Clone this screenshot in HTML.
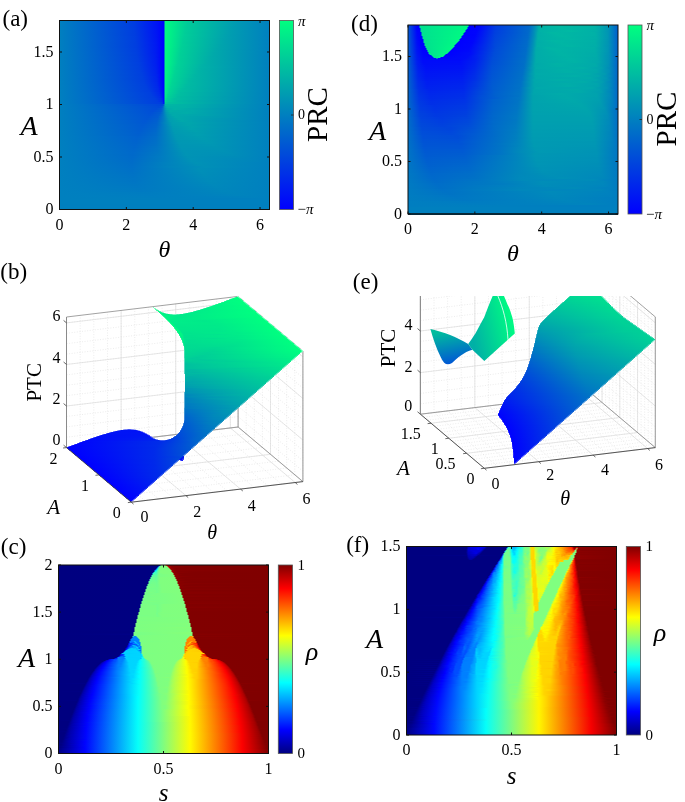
<!DOCTYPE html>
<html><head><meta charset="utf-8"><style>
html,body{margin:0;padding:0;background:#fff;width:685px;height:802px;overflow:hidden}
#L{position:absolute;left:0;top:0;width:685px;height:802px}
#L i{position:absolute;display:block;height:1px}
svg{position:absolute;left:0;top:0}
text{font-family:"Liberation Serif",serif;fill:#000}
svg{will-change:transform}
</style></head><body>
<svg width="685" height="802"><line x1="131.30" y1="502.20" x2="66.50" y2="447.60" stroke="#d8d8d8" stroke-width="0.5" stroke-dasharray="1 1.6"/>
<line x1="66.50" y1="447.60" x2="66.50" y2="317.00" stroke="#d8d8d8" stroke-width="0.5" stroke-dasharray="1 1.6"/>
<line x1="144.96" y1="500.56" x2="80.16" y2="445.96" stroke="#d8d8d8" stroke-width="0.5" stroke-dasharray="1 1.6"/>
<line x1="80.16" y1="445.96" x2="80.16" y2="315.36" stroke="#d8d8d8" stroke-width="0.5" stroke-dasharray="1 1.6"/>
<line x1="158.61" y1="498.92" x2="93.81" y2="444.32" stroke="#d8d8d8" stroke-width="0.5" stroke-dasharray="1 1.6"/>
<line x1="93.81" y1="444.32" x2="93.81" y2="313.72" stroke="#d8d8d8" stroke-width="0.5" stroke-dasharray="1 1.6"/>
<line x1="172.27" y1="497.28" x2="107.47" y2="442.68" stroke="#d8d8d8" stroke-width="0.5" stroke-dasharray="1 1.6"/>
<line x1="107.47" y1="442.68" x2="107.47" y2="312.08" stroke="#d8d8d8" stroke-width="0.5" stroke-dasharray="1 1.6"/>
<line x1="185.92" y1="495.64" x2="121.12" y2="441.04" stroke="#d8d8d8" stroke-width="0.5" stroke-dasharray="1 1.6"/>
<line x1="121.12" y1="441.04" x2="121.12" y2="310.44" stroke="#d8d8d8" stroke-width="0.5" stroke-dasharray="1 1.6"/>
<line x1="199.58" y1="494.00" x2="134.78" y2="439.40" stroke="#d8d8d8" stroke-width="0.5" stroke-dasharray="1 1.6"/>
<line x1="134.78" y1="439.40" x2="134.78" y2="308.80" stroke="#d8d8d8" stroke-width="0.5" stroke-dasharray="1 1.6"/>
<line x1="213.23" y1="492.36" x2="148.43" y2="437.76" stroke="#d8d8d8" stroke-width="0.5" stroke-dasharray="1 1.6"/>
<line x1="148.43" y1="437.76" x2="148.43" y2="307.16" stroke="#d8d8d8" stroke-width="0.5" stroke-dasharray="1 1.6"/>
<line x1="226.89" y1="490.72" x2="162.09" y2="436.12" stroke="#d8d8d8" stroke-width="0.5" stroke-dasharray="1 1.6"/>
<line x1="162.09" y1="436.12" x2="162.09" y2="305.52" stroke="#d8d8d8" stroke-width="0.5" stroke-dasharray="1 1.6"/>
<line x1="240.54" y1="489.09" x2="175.74" y2="434.49" stroke="#d8d8d8" stroke-width="0.5" stroke-dasharray="1 1.6"/>
<line x1="175.74" y1="434.49" x2="175.74" y2="303.89" stroke="#d8d8d8" stroke-width="0.5" stroke-dasharray="1 1.6"/>
<line x1="254.20" y1="487.45" x2="189.40" y2="432.85" stroke="#d8d8d8" stroke-width="0.5" stroke-dasharray="1 1.6"/>
<line x1="189.40" y1="432.85" x2="189.40" y2="302.25" stroke="#d8d8d8" stroke-width="0.5" stroke-dasharray="1 1.6"/>
<line x1="267.85" y1="485.81" x2="203.05" y2="431.21" stroke="#d8d8d8" stroke-width="0.5" stroke-dasharray="1 1.6"/>
<line x1="203.05" y1="431.21" x2="203.05" y2="300.61" stroke="#d8d8d8" stroke-width="0.5" stroke-dasharray="1 1.6"/>
<line x1="281.51" y1="484.17" x2="216.71" y2="429.57" stroke="#d8d8d8" stroke-width="0.5" stroke-dasharray="1 1.6"/>
<line x1="216.71" y1="429.57" x2="216.71" y2="298.97" stroke="#d8d8d8" stroke-width="0.5" stroke-dasharray="1 1.6"/>
<line x1="295.17" y1="482.53" x2="230.37" y2="427.93" stroke="#d8d8d8" stroke-width="0.5" stroke-dasharray="1 1.6"/>
<line x1="230.37" y1="427.93" x2="230.37" y2="297.33" stroke="#d8d8d8" stroke-width="0.5" stroke-dasharray="1 1.6"/>
<line x1="131.30" y1="502.20" x2="302.90" y2="481.60" stroke="#d8d8d8" stroke-width="0.5" stroke-dasharray="1 1.6"/>
<line x1="302.90" y1="481.60" x2="302.90" y2="351.00" stroke="#d8d8d8" stroke-width="0.5" stroke-dasharray="1 1.6"/>
<line x1="123.20" y1="495.38" x2="294.80" y2="474.77" stroke="#d8d8d8" stroke-width="0.5" stroke-dasharray="1 1.6"/>
<line x1="294.80" y1="474.77" x2="294.80" y2="344.17" stroke="#d8d8d8" stroke-width="0.5" stroke-dasharray="1 1.6"/>
<line x1="115.10" y1="488.55" x2="286.70" y2="467.95" stroke="#d8d8d8" stroke-width="0.5" stroke-dasharray="1 1.6"/>
<line x1="286.70" y1="467.95" x2="286.70" y2="337.35" stroke="#d8d8d8" stroke-width="0.5" stroke-dasharray="1 1.6"/>
<line x1="107.00" y1="481.72" x2="278.60" y2="461.12" stroke="#d8d8d8" stroke-width="0.5" stroke-dasharray="1 1.6"/>
<line x1="278.60" y1="461.12" x2="278.60" y2="330.52" stroke="#d8d8d8" stroke-width="0.5" stroke-dasharray="1 1.6"/>
<line x1="98.90" y1="474.90" x2="270.50" y2="454.30" stroke="#d8d8d8" stroke-width="0.5" stroke-dasharray="1 1.6"/>
<line x1="270.50" y1="454.30" x2="270.50" y2="323.70" stroke="#d8d8d8" stroke-width="0.5" stroke-dasharray="1 1.6"/>
<line x1="90.80" y1="468.07" x2="262.40" y2="447.47" stroke="#d8d8d8" stroke-width="0.5" stroke-dasharray="1 1.6"/>
<line x1="262.40" y1="447.47" x2="262.40" y2="316.88" stroke="#d8d8d8" stroke-width="0.5" stroke-dasharray="1 1.6"/>
<line x1="82.70" y1="461.25" x2="254.30" y2="440.65" stroke="#d8d8d8" stroke-width="0.5" stroke-dasharray="1 1.6"/>
<line x1="254.30" y1="440.65" x2="254.30" y2="310.05" stroke="#d8d8d8" stroke-width="0.5" stroke-dasharray="1 1.6"/>
<line x1="74.60" y1="454.43" x2="246.20" y2="433.82" stroke="#d8d8d8" stroke-width="0.5" stroke-dasharray="1 1.6"/>
<line x1="246.20" y1="433.82" x2="246.20" y2="303.23" stroke="#d8d8d8" stroke-width="0.5" stroke-dasharray="1 1.6"/>
<line x1="66.50" y1="447.60" x2="238.10" y2="427.00" stroke="#d8d8d8" stroke-width="0.5" stroke-dasharray="1 1.6"/>
<line x1="238.10" y1="427.00" x2="238.10" y2="296.40" stroke="#d8d8d8" stroke-width="0.5" stroke-dasharray="1 1.6"/>
<line x1="66.50" y1="447.60" x2="238.10" y2="427.00" stroke="#d8d8d8" stroke-width="0.5" stroke-dasharray="1 1.6"/>
<line x1="302.90" y1="481.60" x2="238.10" y2="427.00" stroke="#d8d8d8" stroke-width="0.5" stroke-dasharray="1 1.6"/>
<line x1="66.50" y1="437.21" x2="238.10" y2="416.61" stroke="#d8d8d8" stroke-width="0.5" stroke-dasharray="1 1.6"/>
<line x1="302.90" y1="471.21" x2="238.10" y2="416.61" stroke="#d8d8d8" stroke-width="0.5" stroke-dasharray="1 1.6"/>
<line x1="66.50" y1="426.81" x2="238.10" y2="406.21" stroke="#d8d8d8" stroke-width="0.5" stroke-dasharray="1 1.6"/>
<line x1="302.90" y1="460.81" x2="238.10" y2="406.21" stroke="#d8d8d8" stroke-width="0.5" stroke-dasharray="1 1.6"/>
<line x1="66.50" y1="416.42" x2="238.10" y2="395.82" stroke="#d8d8d8" stroke-width="0.5" stroke-dasharray="1 1.6"/>
<line x1="302.90" y1="450.42" x2="238.10" y2="395.82" stroke="#d8d8d8" stroke-width="0.5" stroke-dasharray="1 1.6"/>
<line x1="66.50" y1="406.03" x2="238.10" y2="385.43" stroke="#d8d8d8" stroke-width="0.5" stroke-dasharray="1 1.6"/>
<line x1="302.90" y1="440.03" x2="238.10" y2="385.43" stroke="#d8d8d8" stroke-width="0.5" stroke-dasharray="1 1.6"/>
<line x1="66.50" y1="395.64" x2="238.10" y2="375.04" stroke="#d8d8d8" stroke-width="0.5" stroke-dasharray="1 1.6"/>
<line x1="302.90" y1="429.64" x2="238.10" y2="375.04" stroke="#d8d8d8" stroke-width="0.5" stroke-dasharray="1 1.6"/>
<line x1="66.50" y1="385.24" x2="238.10" y2="364.64" stroke="#d8d8d8" stroke-width="0.5" stroke-dasharray="1 1.6"/>
<line x1="302.90" y1="419.24" x2="238.10" y2="364.64" stroke="#d8d8d8" stroke-width="0.5" stroke-dasharray="1 1.6"/>
<line x1="66.50" y1="374.85" x2="238.10" y2="354.25" stroke="#d8d8d8" stroke-width="0.5" stroke-dasharray="1 1.6"/>
<line x1="302.90" y1="408.85" x2="238.10" y2="354.25" stroke="#d8d8d8" stroke-width="0.5" stroke-dasharray="1 1.6"/>
<line x1="66.50" y1="364.46" x2="238.10" y2="343.86" stroke="#d8d8d8" stroke-width="0.5" stroke-dasharray="1 1.6"/>
<line x1="302.90" y1="398.46" x2="238.10" y2="343.86" stroke="#d8d8d8" stroke-width="0.5" stroke-dasharray="1 1.6"/>
<line x1="66.50" y1="354.06" x2="238.10" y2="333.46" stroke="#d8d8d8" stroke-width="0.5" stroke-dasharray="1 1.6"/>
<line x1="302.90" y1="388.06" x2="238.10" y2="333.46" stroke="#d8d8d8" stroke-width="0.5" stroke-dasharray="1 1.6"/>
<line x1="66.50" y1="343.67" x2="238.10" y2="323.07" stroke="#d8d8d8" stroke-width="0.5" stroke-dasharray="1 1.6"/>
<line x1="302.90" y1="377.67" x2="238.10" y2="323.07" stroke="#d8d8d8" stroke-width="0.5" stroke-dasharray="1 1.6"/>
<line x1="66.50" y1="333.28" x2="238.10" y2="312.68" stroke="#d8d8d8" stroke-width="0.5" stroke-dasharray="1 1.6"/>
<line x1="302.90" y1="367.28" x2="238.10" y2="312.68" stroke="#d8d8d8" stroke-width="0.5" stroke-dasharray="1 1.6"/>
<line x1="66.50" y1="322.89" x2="238.10" y2="302.29" stroke="#d8d8d8" stroke-width="0.5" stroke-dasharray="1 1.6"/>
<line x1="302.90" y1="356.89" x2="238.10" y2="302.29" stroke="#d8d8d8" stroke-width="0.5" stroke-dasharray="1 1.6"/>
<line x1="131.30" y1="502.20" x2="66.50" y2="447.60" stroke="#dcdcdc" stroke-width="0.7"/>
<line x1="66.50" y1="447.60" x2="66.50" y2="317.00" stroke="#dcdcdc" stroke-width="0.7"/>
<line x1="185.92" y1="495.64" x2="121.12" y2="441.04" stroke="#dcdcdc" stroke-width="0.7"/>
<line x1="121.12" y1="441.04" x2="121.12" y2="310.44" stroke="#dcdcdc" stroke-width="0.7"/>
<line x1="240.54" y1="489.09" x2="175.74" y2="434.49" stroke="#dcdcdc" stroke-width="0.7"/>
<line x1="175.74" y1="434.49" x2="175.74" y2="303.89" stroke="#dcdcdc" stroke-width="0.7"/>
<line x1="295.17" y1="482.53" x2="230.37" y2="427.93" stroke="#dcdcdc" stroke-width="0.7"/>
<line x1="230.37" y1="427.93" x2="230.37" y2="297.33" stroke="#dcdcdc" stroke-width="0.7"/>
<line x1="131.30" y1="502.20" x2="302.90" y2="481.60" stroke="#dcdcdc" stroke-width="0.7"/>
<line x1="302.90" y1="481.60" x2="302.90" y2="351.00" stroke="#dcdcdc" stroke-width="0.7"/>
<line x1="98.90" y1="474.90" x2="270.50" y2="454.30" stroke="#dcdcdc" stroke-width="0.7"/>
<line x1="270.50" y1="454.30" x2="270.50" y2="323.70" stroke="#dcdcdc" stroke-width="0.7"/>
<line x1="66.50" y1="447.60" x2="238.10" y2="427.00" stroke="#dcdcdc" stroke-width="0.7"/>
<line x1="238.10" y1="427.00" x2="238.10" y2="296.40" stroke="#dcdcdc" stroke-width="0.7"/>
<line x1="66.50" y1="447.60" x2="238.10" y2="427.00" stroke="#dcdcdc" stroke-width="0.7"/>
<line x1="302.90" y1="481.60" x2="238.10" y2="427.00" stroke="#dcdcdc" stroke-width="0.7"/>
<line x1="66.50" y1="406.03" x2="238.10" y2="385.43" stroke="#dcdcdc" stroke-width="0.7"/>
<line x1="302.90" y1="440.03" x2="238.10" y2="385.43" stroke="#dcdcdc" stroke-width="0.7"/>
<line x1="66.50" y1="364.46" x2="238.10" y2="343.86" stroke="#dcdcdc" stroke-width="0.7"/>
<line x1="302.90" y1="398.46" x2="238.10" y2="343.86" stroke="#dcdcdc" stroke-width="0.7"/>
<line x1="66.50" y1="322.89" x2="238.10" y2="302.29" stroke="#dcdcdc" stroke-width="0.7"/>
<line x1="302.90" y1="356.89" x2="238.10" y2="302.29" stroke="#dcdcdc" stroke-width="0.7"/>
<line x1="66.50" y1="447.60" x2="238.10" y2="427.00" stroke="#8a8a8a" stroke-width="0.8"/>
<line x1="238.10" y1="427.00" x2="302.90" y2="481.60" stroke="#8a8a8a" stroke-width="0.8"/>
<line x1="66.50" y1="317.00" x2="238.10" y2="296.40" stroke="#8a8a8a" stroke-width="0.8"/>
<line x1="238.10" y1="296.40" x2="302.90" y2="351.00" stroke="#8a8a8a" stroke-width="0.8"/>
<line x1="238.10" y1="427.00" x2="238.10" y2="296.40" stroke="#8a8a8a" stroke-width="0.8"/>
<line x1="302.90" y1="481.60" x2="302.90" y2="351.00" stroke="#8a8a8a" stroke-width="0.8"/>
<line x1="66.50" y1="447.60" x2="66.50" y2="317.00" stroke="#8a8a8a" stroke-width="0.8"/>
<g clip-path="url(#ce)"><line x1="484.30" y1="468.30" x2="420.40" y2="414.20" stroke="#d8d8d8" stroke-width="0.5" stroke-dasharray="1 1.6"/><line x1="420.40" y1="414.20" x2="420.40" y2="283.50" stroke="#d8d8d8" stroke-width="0.5" stroke-dasharray="1 1.6"/><line x1="497.91" y1="466.65" x2="434.01" y2="412.55" stroke="#d8d8d8" stroke-width="0.5" stroke-dasharray="1 1.6"/><line x1="434.01" y1="412.55" x2="434.01" y2="281.85" stroke="#d8d8d8" stroke-width="0.5" stroke-dasharray="1 1.6"/><line x1="511.52" y1="465.01" x2="447.62" y2="410.91" stroke="#d8d8d8" stroke-width="0.5" stroke-dasharray="1 1.6"/><line x1="447.62" y1="410.91" x2="447.62" y2="280.21" stroke="#d8d8d8" stroke-width="0.5" stroke-dasharray="1 1.6"/><line x1="525.12" y1="463.36" x2="461.22" y2="409.26" stroke="#d8d8d8" stroke-width="0.5" stroke-dasharray="1 1.6"/><line x1="461.22" y1="409.26" x2="461.22" y2="278.56" stroke="#d8d8d8" stroke-width="0.5" stroke-dasharray="1 1.6"/><line x1="538.73" y1="461.71" x2="474.83" y2="407.61" stroke="#d8d8d8" stroke-width="0.5" stroke-dasharray="1 1.6"/><line x1="474.83" y1="407.61" x2="474.83" y2="276.91" stroke="#d8d8d8" stroke-width="0.5" stroke-dasharray="1 1.6"/><line x1="552.34" y1="460.06" x2="488.44" y2="405.96" stroke="#d8d8d8" stroke-width="0.5" stroke-dasharray="1 1.6"/><line x1="488.44" y1="405.96" x2="488.44" y2="275.26" stroke="#d8d8d8" stroke-width="0.5" stroke-dasharray="1 1.6"/><line x1="565.95" y1="458.42" x2="502.05" y2="404.32" stroke="#d8d8d8" stroke-width="0.5" stroke-dasharray="1 1.6"/><line x1="502.05" y1="404.32" x2="502.05" y2="273.62" stroke="#d8d8d8" stroke-width="0.5" stroke-dasharray="1 1.6"/><line x1="579.55" y1="456.77" x2="515.65" y2="402.67" stroke="#d8d8d8" stroke-width="0.5" stroke-dasharray="1 1.6"/><line x1="515.65" y1="402.67" x2="515.65" y2="271.97" stroke="#d8d8d8" stroke-width="0.5" stroke-dasharray="1 1.6"/><line x1="593.16" y1="455.12" x2="529.26" y2="401.02" stroke="#d8d8d8" stroke-width="0.5" stroke-dasharray="1 1.6"/><line x1="529.26" y1="401.02" x2="529.26" y2="270.32" stroke="#d8d8d8" stroke-width="0.5" stroke-dasharray="1 1.6"/><line x1="606.77" y1="453.47" x2="542.87" y2="399.37" stroke="#d8d8d8" stroke-width="0.5" stroke-dasharray="1 1.6"/><line x1="542.87" y1="399.37" x2="542.87" y2="268.67" stroke="#d8d8d8" stroke-width="0.5" stroke-dasharray="1 1.6"/><line x1="620.38" y1="451.83" x2="556.48" y2="397.73" stroke="#d8d8d8" stroke-width="0.5" stroke-dasharray="1 1.6"/><line x1="556.48" y1="397.73" x2="556.48" y2="267.03" stroke="#d8d8d8" stroke-width="0.5" stroke-dasharray="1 1.6"/><line x1="633.99" y1="450.18" x2="570.09" y2="396.08" stroke="#d8d8d8" stroke-width="0.5" stroke-dasharray="1 1.6"/><line x1="570.09" y1="396.08" x2="570.09" y2="265.38" stroke="#d8d8d8" stroke-width="0.5" stroke-dasharray="1 1.6"/><line x1="647.59" y1="448.53" x2="583.69" y2="394.43" stroke="#d8d8d8" stroke-width="0.5" stroke-dasharray="1 1.6"/><line x1="583.69" y1="394.43" x2="583.69" y2="263.73" stroke="#d8d8d8" stroke-width="0.5" stroke-dasharray="1 1.6"/><line x1="484.30" y1="468.30" x2="655.30" y2="447.60" stroke="#d8d8d8" stroke-width="0.5" stroke-dasharray="1 1.6"/><line x1="655.30" y1="447.60" x2="655.30" y2="316.90" stroke="#d8d8d8" stroke-width="0.5" stroke-dasharray="1 1.6"/><line x1="480.75" y1="465.29" x2="651.75" y2="444.59" stroke="#d8d8d8" stroke-width="0.5" stroke-dasharray="1 1.6"/><line x1="651.75" y1="444.59" x2="651.75" y2="313.89" stroke="#d8d8d8" stroke-width="0.5" stroke-dasharray="1 1.6"/><line x1="477.20" y1="462.29" x2="648.20" y2="441.59" stroke="#d8d8d8" stroke-width="0.5" stroke-dasharray="1 1.6"/><line x1="648.20" y1="441.59" x2="648.20" y2="310.89" stroke="#d8d8d8" stroke-width="0.5" stroke-dasharray="1 1.6"/><line x1="473.65" y1="459.28" x2="644.65" y2="438.58" stroke="#d8d8d8" stroke-width="0.5" stroke-dasharray="1 1.6"/><line x1="644.65" y1="438.58" x2="644.65" y2="307.88" stroke="#d8d8d8" stroke-width="0.5" stroke-dasharray="1 1.6"/><line x1="470.10" y1="456.28" x2="641.10" y2="435.58" stroke="#d8d8d8" stroke-width="0.5" stroke-dasharray="1 1.6"/><line x1="641.10" y1="435.58" x2="641.10" y2="304.88" stroke="#d8d8d8" stroke-width="0.5" stroke-dasharray="1 1.6"/><line x1="466.55" y1="453.27" x2="637.55" y2="432.57" stroke="#d8d8d8" stroke-width="0.5" stroke-dasharray="1 1.6"/><line x1="637.55" y1="432.57" x2="637.55" y2="301.87" stroke="#d8d8d8" stroke-width="0.5" stroke-dasharray="1 1.6"/><line x1="463.00" y1="450.27" x2="634.00" y2="429.57" stroke="#d8d8d8" stroke-width="0.5" stroke-dasharray="1 1.6"/><line x1="634.00" y1="429.57" x2="634.00" y2="298.87" stroke="#d8d8d8" stroke-width="0.5" stroke-dasharray="1 1.6"/><line x1="459.45" y1="447.26" x2="630.45" y2="426.56" stroke="#d8d8d8" stroke-width="0.5" stroke-dasharray="1 1.6"/><line x1="630.45" y1="426.56" x2="630.45" y2="295.86" stroke="#d8d8d8" stroke-width="0.5" stroke-dasharray="1 1.6"/><line x1="455.90" y1="444.26" x2="626.90" y2="423.56" stroke="#d8d8d8" stroke-width="0.5" stroke-dasharray="1 1.6"/><line x1="626.90" y1="423.56" x2="626.90" y2="292.86" stroke="#d8d8d8" stroke-width="0.5" stroke-dasharray="1 1.6"/><line x1="452.35" y1="441.25" x2="623.35" y2="420.55" stroke="#d8d8d8" stroke-width="0.5" stroke-dasharray="1 1.6"/><line x1="623.35" y1="420.55" x2="623.35" y2="289.85" stroke="#d8d8d8" stroke-width="0.5" stroke-dasharray="1 1.6"/><line x1="448.80" y1="438.24" x2="619.80" y2="417.54" stroke="#d8d8d8" stroke-width="0.5" stroke-dasharray="1 1.6"/><line x1="619.80" y1="417.54" x2="619.80" y2="286.84" stroke="#d8d8d8" stroke-width="0.5" stroke-dasharray="1 1.6"/><line x1="445.25" y1="435.24" x2="616.25" y2="414.54" stroke="#d8d8d8" stroke-width="0.5" stroke-dasharray="1 1.6"/><line x1="616.25" y1="414.54" x2="616.25" y2="283.84" stroke="#d8d8d8" stroke-width="0.5" stroke-dasharray="1 1.6"/><line x1="441.70" y1="432.23" x2="612.70" y2="411.53" stroke="#d8d8d8" stroke-width="0.5" stroke-dasharray="1 1.6"/><line x1="612.70" y1="411.53" x2="612.70" y2="280.83" stroke="#d8d8d8" stroke-width="0.5" stroke-dasharray="1 1.6"/><line x1="438.15" y1="429.23" x2="609.15" y2="408.53" stroke="#d8d8d8" stroke-width="0.5" stroke-dasharray="1 1.6"/><line x1="609.15" y1="408.53" x2="609.15" y2="277.83" stroke="#d8d8d8" stroke-width="0.5" stroke-dasharray="1 1.6"/><line x1="434.60" y1="426.22" x2="605.60" y2="405.52" stroke="#d8d8d8" stroke-width="0.5" stroke-dasharray="1 1.6"/><line x1="605.60" y1="405.52" x2="605.60" y2="274.82" stroke="#d8d8d8" stroke-width="0.5" stroke-dasharray="1 1.6"/><line x1="431.05" y1="423.22" x2="602.05" y2="402.52" stroke="#d8d8d8" stroke-width="0.5" stroke-dasharray="1 1.6"/><line x1="602.05" y1="402.52" x2="602.05" y2="271.82" stroke="#d8d8d8" stroke-width="0.5" stroke-dasharray="1 1.6"/><line x1="427.50" y1="420.21" x2="598.50" y2="399.51" stroke="#d8d8d8" stroke-width="0.5" stroke-dasharray="1 1.6"/><line x1="598.50" y1="399.51" x2="598.50" y2="268.81" stroke="#d8d8d8" stroke-width="0.5" stroke-dasharray="1 1.6"/><line x1="423.95" y1="417.21" x2="594.95" y2="396.51" stroke="#d8d8d8" stroke-width="0.5" stroke-dasharray="1 1.6"/><line x1="594.95" y1="396.51" x2="594.95" y2="265.81" stroke="#d8d8d8" stroke-width="0.5" stroke-dasharray="1 1.6"/><line x1="420.40" y1="414.20" x2="591.40" y2="393.50" stroke="#d8d8d8" stroke-width="0.5" stroke-dasharray="1 1.6"/><line x1="591.40" y1="393.50" x2="591.40" y2="262.80" stroke="#d8d8d8" stroke-width="0.5" stroke-dasharray="1 1.6"/><line x1="420.40" y1="414.20" x2="591.40" y2="393.50" stroke="#d8d8d8" stroke-width="0.5" stroke-dasharray="1 1.6"/><line x1="655.30" y1="447.60" x2="591.40" y2="393.50" stroke="#d8d8d8" stroke-width="0.5" stroke-dasharray="1 1.6"/><line x1="420.40" y1="403.80" x2="591.40" y2="383.10" stroke="#d8d8d8" stroke-width="0.5" stroke-dasharray="1 1.6"/><line x1="655.30" y1="437.20" x2="591.40" y2="383.10" stroke="#d8d8d8" stroke-width="0.5" stroke-dasharray="1 1.6"/><line x1="420.40" y1="393.40" x2="591.40" y2="372.70" stroke="#d8d8d8" stroke-width="0.5" stroke-dasharray="1 1.6"/><line x1="655.30" y1="426.80" x2="591.40" y2="372.70" stroke="#d8d8d8" stroke-width="0.5" stroke-dasharray="1 1.6"/><line x1="420.40" y1="383.00" x2="591.40" y2="362.30" stroke="#d8d8d8" stroke-width="0.5" stroke-dasharray="1 1.6"/><line x1="655.30" y1="416.40" x2="591.40" y2="362.30" stroke="#d8d8d8" stroke-width="0.5" stroke-dasharray="1 1.6"/><line x1="420.40" y1="372.60" x2="591.40" y2="351.90" stroke="#d8d8d8" stroke-width="0.5" stroke-dasharray="1 1.6"/><line x1="655.30" y1="406.00" x2="591.40" y2="351.90" stroke="#d8d8d8" stroke-width="0.5" stroke-dasharray="1 1.6"/><line x1="420.40" y1="362.20" x2="591.40" y2="341.50" stroke="#d8d8d8" stroke-width="0.5" stroke-dasharray="1 1.6"/><line x1="655.30" y1="395.60" x2="591.40" y2="341.50" stroke="#d8d8d8" stroke-width="0.5" stroke-dasharray="1 1.6"/><line x1="420.40" y1="351.80" x2="591.40" y2="331.10" stroke="#d8d8d8" stroke-width="0.5" stroke-dasharray="1 1.6"/><line x1="655.30" y1="385.20" x2="591.40" y2="331.10" stroke="#d8d8d8" stroke-width="0.5" stroke-dasharray="1 1.6"/><line x1="420.40" y1="341.39" x2="591.40" y2="320.69" stroke="#d8d8d8" stroke-width="0.5" stroke-dasharray="1 1.6"/><line x1="655.30" y1="374.79" x2="591.40" y2="320.69" stroke="#d8d8d8" stroke-width="0.5" stroke-dasharray="1 1.6"/><line x1="420.40" y1="330.99" x2="591.40" y2="310.29" stroke="#d8d8d8" stroke-width="0.5" stroke-dasharray="1 1.6"/><line x1="655.30" y1="364.39" x2="591.40" y2="310.29" stroke="#d8d8d8" stroke-width="0.5" stroke-dasharray="1 1.6"/><line x1="420.40" y1="320.59" x2="591.40" y2="299.89" stroke="#d8d8d8" stroke-width="0.5" stroke-dasharray="1 1.6"/><line x1="655.30" y1="353.99" x2="591.40" y2="299.89" stroke="#d8d8d8" stroke-width="0.5" stroke-dasharray="1 1.6"/><line x1="420.40" y1="310.19" x2="591.40" y2="289.49" stroke="#d8d8d8" stroke-width="0.5" stroke-dasharray="1 1.6"/><line x1="655.30" y1="343.59" x2="591.40" y2="289.49" stroke="#d8d8d8" stroke-width="0.5" stroke-dasharray="1 1.6"/><line x1="420.40" y1="299.79" x2="591.40" y2="279.09" stroke="#d8d8d8" stroke-width="0.5" stroke-dasharray="1 1.6"/><line x1="655.30" y1="333.19" x2="591.40" y2="279.09" stroke="#d8d8d8" stroke-width="0.5" stroke-dasharray="1 1.6"/><line x1="420.40" y1="289.39" x2="591.40" y2="268.69" stroke="#d8d8d8" stroke-width="0.5" stroke-dasharray="1 1.6"/><line x1="655.30" y1="322.79" x2="591.40" y2="268.69" stroke="#d8d8d8" stroke-width="0.5" stroke-dasharray="1 1.6"/><line x1="484.30" y1="468.30" x2="420.40" y2="414.20" stroke="#dcdcdc" stroke-width="0.7"/><line x1="420.40" y1="414.20" x2="420.40" y2="283.50" stroke="#dcdcdc" stroke-width="0.7"/><line x1="538.73" y1="461.71" x2="474.83" y2="407.61" stroke="#dcdcdc" stroke-width="0.7"/><line x1="474.83" y1="407.61" x2="474.83" y2="276.91" stroke="#dcdcdc" stroke-width="0.7"/><line x1="593.16" y1="455.12" x2="529.26" y2="401.02" stroke="#dcdcdc" stroke-width="0.7"/><line x1="529.26" y1="401.02" x2="529.26" y2="270.32" stroke="#dcdcdc" stroke-width="0.7"/><line x1="647.59" y1="448.53" x2="583.69" y2="394.43" stroke="#dcdcdc" stroke-width="0.7"/><line x1="583.69" y1="394.43" x2="583.69" y2="263.73" stroke="#dcdcdc" stroke-width="0.7"/><line x1="484.30" y1="468.30" x2="655.30" y2="447.60" stroke="#dcdcdc" stroke-width="0.7"/><line x1="655.30" y1="447.60" x2="655.30" y2="316.90" stroke="#dcdcdc" stroke-width="0.7"/><line x1="466.55" y1="453.27" x2="637.55" y2="432.57" stroke="#dcdcdc" stroke-width="0.7"/><line x1="637.55" y1="432.57" x2="637.55" y2="301.87" stroke="#dcdcdc" stroke-width="0.7"/><line x1="448.80" y1="438.24" x2="619.80" y2="417.54" stroke="#dcdcdc" stroke-width="0.7"/><line x1="619.80" y1="417.54" x2="619.80" y2="286.84" stroke="#dcdcdc" stroke-width="0.7"/><line x1="431.05" y1="423.22" x2="602.05" y2="402.52" stroke="#dcdcdc" stroke-width="0.7"/><line x1="602.05" y1="402.52" x2="602.05" y2="271.82" stroke="#dcdcdc" stroke-width="0.7"/><line x1="420.40" y1="414.20" x2="591.40" y2="393.50" stroke="#dcdcdc" stroke-width="0.7"/><line x1="655.30" y1="447.60" x2="591.40" y2="393.50" stroke="#dcdcdc" stroke-width="0.7"/><line x1="420.40" y1="372.60" x2="591.40" y2="351.90" stroke="#dcdcdc" stroke-width="0.7"/><line x1="655.30" y1="406.00" x2="591.40" y2="351.90" stroke="#dcdcdc" stroke-width="0.7"/><line x1="420.40" y1="330.99" x2="591.40" y2="310.29" stroke="#dcdcdc" stroke-width="0.7"/><line x1="655.30" y1="364.39" x2="591.40" y2="310.29" stroke="#dcdcdc" stroke-width="0.7"/><line x1="420.40" y1="289.39" x2="591.40" y2="268.69" stroke="#dcdcdc" stroke-width="0.7"/><line x1="655.30" y1="322.79" x2="591.40" y2="268.69" stroke="#dcdcdc" stroke-width="0.7"/><line x1="420.40" y1="414.20" x2="591.40" y2="393.50" stroke="#8a8a8a" stroke-width="0.8"/><line x1="591.40" y1="393.50" x2="655.30" y2="447.60" stroke="#8a8a8a" stroke-width="0.8"/><line x1="420.40" y1="283.50" x2="591.40" y2="262.80" stroke="#8a8a8a" stroke-width="0.8"/><line x1="591.40" y1="262.80" x2="655.30" y2="316.90" stroke="#8a8a8a" stroke-width="0.8"/><line x1="591.40" y1="393.50" x2="591.40" y2="262.80" stroke="#8a8a8a" stroke-width="0.8"/><line x1="655.30" y1="447.60" x2="655.30" y2="316.90" stroke="#8a8a8a" stroke-width="0.8"/><line x1="420.40" y1="414.20" x2="420.40" y2="283.50" stroke="#8a8a8a" stroke-width="0.8"/></g></svg>
<div id="L">
<i style="left:59px;top:20px;width:211px;height:2px;background:linear-gradient(90deg,#0080bf,#003ce1 75px,#0013f6 98px,#00f 105px,#00fc81 106px,#00cd99 128px,#0099b3 178px,#0080bf 210px)"></i>
<i style="left:59px;top:22px;width:211px;height:2px;background:linear-gradient(90deg,#0080bf,#003de1 75px,#0013f6 98px,#00f 105px,#00fc81 106px,#0c9 128px,#0099b3 178px,#0080bf 210px)"></i>
<i style="left:59px;top:24px;width:211px;height:2px;background:linear-gradient(90deg,#0080bf,#003de1 75px,#0013f5 98px,#00f 105px,#00fc81 106px,#0c9 128px,#0099b3 178px,#0080bf 210px)"></i>
<i style="left:59px;top:26px;width:211px;height:2px;background:linear-gradient(90deg,#0080bf,#003de0 75px,#0013f5 98px,#00f 105px,#00fc81 106px,#00cd98 127px,#009cb1 174px,#0080bf 210px)"></i>
<i style="left:59px;top:28px;width:211px;height:2px;background:linear-gradient(90deg,#0080bf,#003ee0 75px,#0014f5 98px,#00f 105px,#00fc81 106px,#00cd99 127px,#009cb1 174px,#0080bf 210px)"></i>
<i style="left:59px;top:30px;width:211px;height:2px;background:linear-gradient(90deg,#0080bf,#003ee0 75px,#0016f4 97px,#00f 105px,#00fc81 106px,#00ce98 126px,#009eb0 171px,#0080bf 210px)"></i>
<i style="left:59px;top:32px;width:211px;height:2px;background:linear-gradient(90deg,#0080bf,#003de0 76px,#0014f5 98px,#00f 105px,#00fc81 106px,#00cd98 126px,#009eb0 171px,#0080bf 210px)"></i>
<i style="left:59px;top:34px;width:211px;height:2px;background:linear-gradient(90deg,#0080bf,#003de0 76px,#0017f3 97px,#00f 105px,#00fc81 106px,#00cf98 125px,#00a0af 168px,#0080bf 210px)"></i>
<i style="left:59px;top:36px;width:211px;height:2px;background:linear-gradient(90deg,#0080bf,#003ee0 76px,#0017f3 97px,#00f 105px,#00fc81 106px,#00ce98 125px,#00a0af 168px,#0080bf 210px)"></i>
<i style="left:59px;top:38px;width:211px;height:2px;background:linear-gradient(90deg,#0080bf,#003ee0 76px,#0018f3 97px,#00f 105px,#00fc81 106px,#00cf97 124px,#00a3ad 164px,#0080bf 210px)"></i>
<i style="left:59px;top:40px;width:211px;height:2px;background:linear-gradient(90deg,#0080bf,#003fe0 76px,#0018f3 97px,#00f 105px,#00fc81 106px,#00cf98 124px,#00a2ae 165px,#0080bf 210px)"></i>
<i style="left:59px;top:42px;width:211px;height:2px;background:linear-gradient(90deg,#0080bf,#003ee0 77px,#0019f3 97px,#00f 105px,#00fc81 106px,#00ce98 124px,#00a2ae 165px,#0080bf 210px)"></i>
<i style="left:59px;top:44px;width:211px;height:2px;background:linear-gradient(90deg,#0080bf,#003ee0 77px,#0019f2 97px,#00f 105px,#00fc81 106px,#00d097 123px,#00a5ac 161px,#0080bf 210px)"></i>
<i style="left:59px;top:46px;width:211px;height:2px;background:linear-gradient(90deg,#0080bf,#003ee0 77px,#001af2 97px,#00f 105px,#00fc81 106px,#00cf97 123px,#00a5ac 161px,#0080bf 210px)"></i>
<i style="left:59px;top:48px;width:211px;height:2px;background:linear-gradient(90deg,#0080bf,#003fe0 77px,#001af2 97px,#00f 105px,#00fb81 106px,#00d097 122px,#00a7ab 158px,#0080bf 210px)"></i>
<i style="left:59px;top:50px;width:211px;height:2px;background:linear-gradient(90deg,#0080bf,#003ee0 78px,#001bf2 97px,#00f 105px,#00fb81 106px,#00d097 122px,#00a7ab 158px,#0080bf 210px)"></i>
<i style="left:59px;top:52px;width:211px;height:2px;background:linear-gradient(90deg,#0080bf,#003fe0 78px,#001bf1 97px,#00f 105px,#00fb81 106px,#00d196 121px,#00a9aa 155px,#0080bf 210px)"></i>
<i style="left:59px;top:54px;width:211px;height:2px;background:linear-gradient(90deg,#0080bf,#003fdf 78px,#001cf1 97px,#00f 105px,#00fb81 106px,#00d097 121px,#00a9aa 155px,#0080bf 210px)"></i>
<i style="left:59px;top:56px;width:211px;height:2px;background:linear-gradient(90deg,#0080bf,#0040df 78px,#001fef 96px,#00f 105px,#00fb81 106px,#00d296 120px,#00aba9 152px,#0080bf 210px)"></i>
<i style="left:59px;top:58px;width:211px;height:2px;background:linear-gradient(90deg,#0080bf,#003fe0 79px,#001df1 97px,#00f 105px,#00fb82 106px,#00d196 120px,#00aba9 152px,#0080bf 210px)"></i>
<i style="left:59px;top:60px;width:211px;height:2px;background:linear-gradient(90deg,#0080bf,#003fdf 79px,#001ef0 97px,#00f 105px,#00fb82 106px,#00d296 119px,#00ada8 149px,#0080bf 210px)"></i>
<i style="left:59px;top:62px;width:211px;height:2px;background:linear-gradient(90deg,#0080bf,#003fe0 80px,#001ef0 97px,#00f 105px,#00fb82 106px,#00d296 119px,#00ada8 149px,#0080bf 210px)"></i>
<i style="left:59px;top:64px;width:211px;height:2px;background:linear-gradient(90deg,#0080bf,#003fdf 80px,#001fef 97px,#00f 105px,#00fb82 106px,#00d396 118px,#00b0a7 145px,#0080bf 210px)"></i>
<i style="left:59px;top:66px;width:211px;height:2px;background:linear-gradient(90deg,#0080bf,#0040df 80px,#0020ef 97px,#00f 105px,#00fa82 106px,#00d495 117px,#00b3a6 142px,#0080bf 210px)"></i>
<i style="left:59px;top:68px;width:211px;height:2px;background:linear-gradient(90deg,#0080bf,#003fdf 81px,#0021ee 97px,#00f 105px,#00fa82 106px,#00d395 117px,#00b2a6 142px,#0080bf 210px)"></i>
<i style="left:59px;top:70px;width:211px;height:2px;background:linear-gradient(90deg,#0080bf,#0040df 81px,#02e 97px,#00f 105px,#00fa82 106px,#00d595 116px,#00b4a5 139px,#0080bf 210px)"></i>
<i style="left:59px;top:72px;width:211px;height:2px;background:linear-gradient(90deg,#0080bf,#0040df 82px,#0023ed 97px,#00f 105px,#00fa82 106px,#00d495 116px,#00b4a5 139px,#0080bf 210px)"></i>
<i style="left:59px;top:74px;width:211px;height:2px;background:linear-gradient(90deg,#0080bf,#003fdf 83px,#0021ef 98px,#00f 105px,#00f982 106px,#00d595 115px,#00b6a4 136px,#0080bf 210px)"></i>
<i style="left:59px;top:76px;width:211px;height:2px;background:linear-gradient(90deg,#0080bf,#0040df 83px,#0026ec 97px,#00f 105px,#00f982 106px,#00d495 115px,#00b6a4 136px,#0080bf 210px)"></i>
<i style="left:59px;top:78px;width:211px;height:2px;background:linear-gradient(90deg,#0080bf,#003fdf 84px,#0024ed 98px,#00f 105px,#00f983 106px,#00d594 114px,#00b8a3 133px,#0080bf 210px)"></i>
<i style="left:59px;top:80px;width:211px;height:2px;background:linear-gradient(90deg,#0080bf,#003fdf 85px,#0025ec 98px,#00f 105px,#00f883 106px,#00d794 113px,#00baa2 130px,#0080bf 210px)"></i>
<i style="left:59px;top:82px;width:211px;height:2px;background:linear-gradient(90deg,#0080bf,#0040df 85px,#0027ec 98px,#00f 105px,#00f883 106px,#00d594 113px,#00baa2 130px,#0080bf 210px)"></i>
<i style="left:59px;top:84px;width:211px;height:2px;background:linear-gradient(90deg,#0080bf,#0040df 86px,#0028eb 98px,#0008fb 104px,#00f 105px,#00f783 106px,#00d794 112px,#00bca1 127px,#0080bf 210px)"></i>
<i style="left:59px;top:86px;width:211px;height:2px;background:linear-gradient(90deg,#0080bf,#0040df 87px,#0027ec 99px,#00f 105px,#00f784 106px,#00d595 112px,#00bba2 127px,#0080bf 210px)"></i>
<i style="left:59px;top:88px;width:211px;height:2px;background:linear-gradient(90deg,#0080bf,#0040df 88px,#0029eb 99px,#0009fa 104px,#00f 105px,#00f684 106px,#00d694 111px,#00bda0 124px,#0080bf 210px)"></i>
<i style="left:59px;top:90px;width:211px;height:2px;background:linear-gradient(90deg,#0080bf,#003ee0 90px,#0027eb 100px,#000afa 104px,#00f 105px,#00f585 106px,#00d893 110px,#00c19f 120px,#0080bf 210px)"></i>
<i style="left:59px;top:92px;width:211px;height:2px;background:linear-gradient(90deg,#0080bf,#003fe0 91px,#002aea 100px,#000cf9 104px,#00f 105px,#00f386 106px,#00d595 110px,#00bea0 121px,#0080bf 210px)"></i>
<i style="left:59px;top:94px;width:211px;height:2px;background:linear-gradient(90deg,#0080bf,#003fe0 92px,#0029eb 101px,#000ef8 104px,#00f 105px,#00f187 106px,#00d694 109px,#00c09f 118px,#0080bf 210px)"></i>
<i style="left:59px;top:96px;width:211px;height:2px;background:linear-gradient(90deg,#0080bf,#003ee0 94px,#002de8 101px,#0011f6 104px,#00f 105px,#0e8 106px,#00d296 109px,#00bda0 119px,#0080bf 210px)"></i>
<i style="left:59px;top:98px;width:211px;height:2px;background:linear-gradient(90deg,#0080bf,#003ee0 96px,#002de9 102px,#0016f4 104px,#00f 105px,#00e98b 106px,#00d296 108px,#00c09f 115px,#0080bf 210px)"></i>
<i style="left:59px;top:100px;width:211px;height:2px;background:linear-gradient(90deg,#0080bf,#003ee0 98px,#002de9 103px,#001ff0 104px,#00f 105px,#00e08f 106px,#0c9 108px,#00baa2 119px,#0080bf 210px)"></i>
<i style="left:59px;top:102px;width:211px;height:2px;background:linear-gradient(90deg,#0080bf,#003de0 101px,#002fe8 104px,#00f 105px,#00d097 106px,#00c29e 109px,#0080bf 210px)"></i>
<i style="left:59px;top:104px;width:211px;height:2px;background:linear-gradient(90deg,#0080bf,#04d 103px,#0047dc 104px,#0060cf 105px,#00b8a3 106px,#00b0a7 130px,#0080bf 210px)"></i>
<i style="left:59px;top:106px;width:211px;height:2px;background:linear-gradient(90deg,#0080bf,#0049da 100px,#0050d7 103px,#005cd1 104px,#00a3ad 106px,#00b3a6 108px,#00b2a6 125px,#0080bf 210px)"></i>
<i style="left:59px;top:108px;width:211px;height:2px;background:linear-gradient(90deg,#0080bf,#004cd9 97px,#0054d5 102px,#0068cb 104px,#0097b3 106px,#00aba9 108px,#00b3a5 116px,#0080bf 210px)"></i>
<i style="left:59px;top:110px;width:211px;height:2px;background:linear-gradient(90deg,#0080bf,#004ed8 94px,#0056d4 101px,#0062ce 103px,#009db1 107px,#00aea8 111px,#00abaa 134px,#0080bf 210px)"></i>
<i style="left:59px;top:112px;width:211px;height:2px;background:linear-gradient(90deg,#0080bf,#0050d7 92px,#005bd1 101px,#0072c6 104px,#0097b3 107px,#0aa 111px,#00ada9 128px,#0080bf 210px)"></i>
<i style="left:59px;top:114px;width:211px;height:2px;background:linear-gradient(90deg,#0080bf,#0052d6 91px,#005cd1 100px,#0075c5 104px,#009ab2 108px,#00abaa 114px,#00a4ad 145px,#0080bf 210px)"></i>
<i style="left:59px;top:116px;width:211px;height:2px;background:linear-gradient(90deg,#0080bf,#0054d5 89px,#005cd1 99px,#0077c4 104px,#009cb1 109px,#0aa 117px,#0099b2 164px,#0080bf 210px)"></i>
<i style="left:59px;top:118px;width:211px;height:2px;background:linear-gradient(90deg,#0080bf,#0055d4 88px,#005fcf 99px,#0078c3 104px,#009db1 110px,#00a9aa 120px,#008eb8 184px,#0080bf 210px)"></i>
<i style="left:59px;top:120px;width:211px;height:2px;background:linear-gradient(90deg,#0080bf,#0057d4 86px,#0060cf 98px,#0079c2 104px,#009db1 111px,#00a8ab 123px,#0081be 207px,#0080bf 210px)"></i>
<i style="left:59px;top:122px;width:211px;height:2px;background:linear-gradient(90deg,#0080bf,#0058d3 85px,#0062ce 98px,#0085bc 106px,#009fb0 113px,#00a6ac 130px,#0080bf 210px)"></i>
<i style="left:59px;top:124px;width:211px;height:2px;background:linear-gradient(90deg,#0080bf,#005ad2 84px,#0064cd 98px,#009db1 113px,#00a5ac 129px,#0080bf 210px)"></i>
<i style="left:59px;top:126px;width:211px;height:2px;background:linear-gradient(90deg,#0080bf,#005bd2 83px,#0064cd 97px,#009cb1 114px,#00a4ad 133px,#0080bf 210px)"></i>
<i style="left:59px;top:128px;width:211px;height:2px;background:linear-gradient(90deg,#0080bf,#005cd1 82px,#06c 97px,#009ab2 114px,#00a3ae 132px,#0080bf 210px)"></i>
<i style="left:59px;top:130px;width:211px;height:2px;background:linear-gradient(90deg,#0080bf,#005dd0 81px,#0068cb 97px,#009ab2 115px,#00a1ae 136px,#0080bf 210px)"></i>
<i style="left:59px;top:132px;width:211px;height:2px;background:linear-gradient(90deg,#0080bf,#005ed0 80px,#006aca 97px,#009ab2 116px,#009faf 139px,#0080bf 210px)"></i>
<i style="left:59px;top:134px;width:211px;height:2px;background:linear-gradient(90deg,#0080bf,#005fcf 79px,#006bc9 97px,#0098b3 116px,#009fb0 139px,#0080bf 210px)"></i>
<i style="left:59px;top:136px;width:211px;height:2px;background:linear-gradient(90deg,#0080bf,#0061cf 79px,#006dc9 97px,#0098b3 117px,#009db0 142px,#0080bf 210px)"></i>
<i style="left:59px;top:138px;width:211px;height:2px;background:linear-gradient(90deg,#0080bf,#0062ce 78px,#006ec8 97px,#0098b3 118px,#009cb1 145px,#0080bf 210px)"></i>
<i style="left:59px;top:140px;width:211px;height:2px;background:linear-gradient(90deg,#0080bf,#0063ce 77px,#006fc7 97px,#0097b3 119px,#009ab2 148px,#0080bf 210px)"></i>
<i style="left:59px;top:142px;width:211px;height:2px;background:linear-gradient(90deg,#0080bf,#0064cd 77px,#0070c7 97px,#0097b4 120px,#0099b3 151px,#0080bf 210px)"></i>
<i style="left:59px;top:144px;width:211px;height:2px;background:linear-gradient(90deg,#0080bf,#0065cd 76px,#0071c6 97px,#0096b4 121px,#0097b4 154px,#0080bf 210px)"></i>
<i style="left:59px;top:146px;width:211px;height:2px;background:linear-gradient(90deg,#0080bf,#06c 76px,#0074c5 98px,#0096b4 122px,#0095b4 158px,#0080bf 210px)"></i>
<i style="left:59px;top:148px;width:211px;height:2px;background:linear-gradient(90deg,#0080bf,#0067cc 75px,#0075c5 98px,#0095b5 123px,#0094b5 161px,#0080bf 210px)"></i>
<i style="left:59px;top:150px;width:211px;height:2px;background:linear-gradient(90deg,#0080bf,#0068cb 75px,#0075c4 98px,#0094b5 124px,#0092b6 164px,#0080bf 210px)"></i>
<i style="left:59px;top:152px;width:211px;height:2px;background:linear-gradient(90deg,#0080bf,#0069cb 74px,#0077c3 99px,#0094b5 126px,#0090b7 170px,#0080bf 210px)"></i>
<i style="left:59px;top:154px;width:211px;height:2px;background:linear-gradient(90deg,#0080bf,#0069ca 74px,#0079c2 100px,#0094b5 127px,#008eb8 174px,#0080bf 210px)"></i>
<i style="left:59px;top:156px;width:211px;height:2px;background:linear-gradient(90deg,#0080bf,#006aca 74px,#007bc2 101px,#0093b5 129px,#008bb9 180px,#0080bf 210px)"></i>
<i style="left:59px;top:158px;width:211px;height:2px;background:linear-gradient(90deg,#0080bf,#006bc9 73px,#007bc1 101px,#0093b6 131px,#08b 187px,#0080bf 210px)"></i>
<i style="left:59px;top:160px;width:211px;height:2px;background:linear-gradient(90deg,#0080bf,#006cc9 73px,#007dc0 103px,#0092b6 133px,#0085bc 195px,#0080bf 210px)"></i>
<i style="left:59px;top:162px;width:211px;height:2px;background:linear-gradient(90deg,#0080bf,#006dc8 73px,#0080bf 105px,#0092b6 137px,#0080bf 210px)"></i>
<i style="left:59px;top:164px;width:211px;height:2px;background:linear-gradient(90deg,#0080bf,#006ec8 73px,#0081be 107px,#0091b6 140px,#0080bf 210px)"></i>
<i style="left:59px;top:166px;width:211px;height:2px;background:linear-gradient(90deg,#0080bf,#006fc8 73px,#0084bd 111px,#0090b7 146px,#0080bf 210px)"></i>
<i style="left:59px;top:168px;width:211px;height:2px;background:linear-gradient(90deg,#0080bf,#0070c7 73px,#008fb7 140px,#0080bf 210px)"></i>
<i style="left:59px;top:170px;width:211px;height:2px;background:linear-gradient(90deg,#0080bf,#0071c7 73px,#008fb8 142px,#0080bf 210px)"></i>
<i style="left:59px;top:172px;width:211px;height:2px;background:linear-gradient(90deg,#0080bf,#0072c6 73px,#008eb8 143px,#0080bf 210px)"></i>
<i style="left:59px;top:174px;width:211px;height:2px;background:linear-gradient(90deg,#0080bf,#0073c6 74px,#008db8 145px,#0080bf 210px)"></i>
<i style="left:59px;top:176px;width:211px;height:2px;background:linear-gradient(90deg,#0080bf,#0074c5 74px,#008cb9 146px,#0080bf 210px)"></i>
<i style="left:59px;top:178px;width:211px;height:2px;background:linear-gradient(90deg,#0080bf,#0075c5 75px,#008bb9 148px,#0080bf 210px)"></i>
<i style="left:59px;top:180px;width:211px;height:2px;background:linear-gradient(90deg,#0080bf,#0075c4 75px,#008bba 150px,#0080bf 210px)"></i>
<i style="left:59px;top:182px;width:211px;height:2px;background:linear-gradient(90deg,#0080bf,#0076c4 76px,#008aba 152px,#0080bf 210px)"></i>
<i style="left:59px;top:184px;width:211px;height:2px;background:linear-gradient(90deg,#0080bf,#0077c3 77px,#0089bb 155px,#0080bf 210px)"></i>
<i style="left:59px;top:186px;width:211px;height:2px;background:linear-gradient(90deg,#0080bf,#0078c3 79px,#08b 158px,#0080bf 210px)"></i>
<i style="left:59px;top:188px;width:211px;height:2px;background:linear-gradient(90deg,#0080bf,#0079c2 81px,#0087bb 161px,#0080bf 210px)"></i>
<i style="left:59px;top:190px;width:211px;height:2px;background:linear-gradient(90deg,#0080bf,#007ac2 83px,#0086bc 165px,#0080bf 210px)"></i>
<i style="left:59px;top:192px;width:211px;height:2px;background:linear-gradient(90deg,#0080bf,#007cc1 86px,#0085bc 170px,#0080bf 210px)"></i>
<i style="left:59px;top:194px;width:211px;height:2px;background:linear-gradient(90deg,#0080bf,#007dc1 90px,#0084bd 178px,#0080bf 210px)"></i>
<i style="left:59px;top:196px;width:211px;height:2px;background:linear-gradient(90deg,#0080bf,#007ec0 95px,#0082be 188px,#0080bf 210px)"></i>
<i style="left:59px;top:198px;width:211px;height:2px;background:linear-gradient(90deg,#0080bf,#007fbf 104px,#0080bf 207px,#0080bf 210px)"></i>
<i style="left:59px;top:200px;width:211px;height:4px;background:#0080bf"></i>
<i style="left:59px;top:204px;width:211px;height:2px;background:#007fbf"></i>
<i style="left:59px;top:206px;width:211px;height:2px;background:#0080bf"></i>
<i style="left:59px;top:208px;width:211px;height:2px;background:#007fbf"></i>
<i style="left:408px;top:25px;width:210px;background:linear-gradient(90deg,#005ad2,#0007fc 8px,#0001ff 11px,#00e18f 12px,#00f883 60px,#0001ff 61px,#0006fc 71px,#003de1 88px,#0067cc 121px,#008bb9 127px,#00afa7 131px,#00baa2 147px,#00b3a5 186px,#009ab2 199px,#006aca 208px,#0063cd 209px)"></i>
<i style="left:408px;top:26px;width:210px;background:linear-gradient(90deg,#005ad2,#0001ff 9px,#0001ff 11px,#00e18f 12px,#00f983 60px,#0001ff 61px,#0003fd 70px,#003de0 88px,#0067cb 121px,#008db9 127px,#00b0a7 131px,#00b9a2 150px,#00b2a6 187px,#0096b4 200px,#0063cd 209px)"></i>
<i style="left:408px;top:27px;width:210px;background:linear-gradient(90deg,#005bd2,#0001ff 9px,#0001ff 11px,#00e18f 12px,#00f983 59px,#0001ff 60px,#0004fd 70px,#003ee0 88px,#0068cb 121px,#008eb8 127px,#00b0a7 131px,#00b9a2 152px,#00b2a6 187px,#0096b4 200px,#0063cd 209px)"></i>
<i style="left:408px;top:28px;width:210px;background:linear-gradient(90deg,#005bd2,#0001fe 9px,#0001ff 12px,#00e18e 13px,#00f983 59px,#0001ff 60px,#0006fc 70px,#003fe0 88px,#0069cb 121px,#008fb7 127px,#00b1a7 131px,#00b9a2 155px,#00b2a6 187px,#0096b4 200px,#0064cd 209px)"></i>
<i style="left:408px;top:29px;width:210px;background:linear-gradient(90deg,#005bd1,#0002fe 9px,#0001ff 12px,#00e18f 13px,#00f983 58px,#0001ff 59px,#0003fd 69px,#003de0 87px,#0069ca 121px,#0090b7 127px,#00b1a7 131px,#00b9a3 157px,#00b0a7 188px,#0096b4 200px,#0064cd 209px)"></i>
<i style="left:408px;top:30px;width:210px;background:linear-gradient(90deg,#005bd1,#0003fd 9px,#0001ff 12px,#00e18f 13px,#00f883 57px,#0001ff 58px,#0004fd 69px,#003ee0 87px,#006aca 121px,#0092b6 127px,#00b1a6 131px,#00b9a3 161px,#00b0a7 188px,#0096b4 200px,#0064cd 209px)"></i>
<i style="left:408px;top:31px;width:210px;background:linear-gradient(90deg,#005cd1,#0004fd 9px,#0001ff 12px,#00e18f 13px,#00f983 57px,#0001ff 58px,#0006fc 69px,#003fe0 87px,#006aca 121px,#0093b6 127px,#00b1a6 131px,#00b9a3 163px,#00aea8 189px,#0092b6 201px,#0064cd 209px)"></i>
<i style="left:408px;top:32px;width:210px;background:linear-gradient(90deg,#005cd1,#0005fd 9px,#0001ff 13px,#00e18e 14px,#00f983 56px,#0001ff 57px,#0004fd 68px,#003fdf 87px,#0068cb 120px,#008bba 126px,#00aea8 130px,#00b8a3 143px,#00b2a6 186px,#0096b4 200px,#0064cd 209px)"></i>
<i style="left:408px;top:33px;width:210px;background:linear-gradient(90deg,#005cd1,#0006fc 9px,#0001ff 13px,#00e18f 14px,#00f883 55px,#0001ff 56px,#0005fd 68px,#0040df 87px,#0068cb 120px,#008cb9 126px,#00aea8 130px,#00b8a3 147px,#00b1a7 187px,#0096b4 200px,#0065cd 209px)"></i>
<i style="left:408px;top:34px;width:210px;background:linear-gradient(90deg,#005cd1,#0007fc 9px,#0001ff 12px,#0001ff 13px,#00e18f 14px,#00f983 55px,#0001ff 56px,#0003fd 67px,#0041df 87px,#0069cb 120px,#008db9 126px,#00afa8 130px,#00b8a3 150px,#00b1a7 187px,#0096b4 200px,#0065cd 209px)"></i>
<i style="left:408px;top:35px;width:210px;background:linear-gradient(90deg,#005dd1,#0007fb 9px,#0001ff 13px,#00e18f 14px,#00f983 54px,#0001ff 55px,#0004fd 67px,#0042de 87px,#0069ca 120px,#008eb8 126px,#00afa7 130px,#00b8a3 153px,#00b1a7 187px,#0096b4 200px,#0065cc 209px)"></i>
<i style="left:408px;top:36px;width:210px;background:linear-gradient(90deg,#005dd1,#0008fb 9px,#0001ff 13px,#0001ff 14px,#00e18e 15px,#00f883 53px,#0001ff 54px,#0005fc 67px,#0042de 87px,#006aca 120px,#008fb7 126px,#00afa7 130px,#00b8a3 155px,#00afa7 188px,#0096b4 200px,#0065cc 209px)"></i>
<i style="left:408px;top:37px;width:210px;background:linear-gradient(90deg,#005dd0,#0009fa 9px,#0001ff 12px,#0001ff 14px,#00e18f 15px,#00f983 53px,#0001ff 54px,#0004fd 66px,#0043de 87px,#006aca 120px,#0090b7 126px,#00b0a7 130px,#00b7a3 158px,#00afa8 188px,#0096b4 200px,#0065cc 209px)"></i>
<i style="left:408px;top:38px;width:210px;background:linear-gradient(90deg,#005dd0,#000afa 9px,#0001ff 12px,#0001ff 14px,#00e18f 15px,#00f983 52px,#0001ff 53px,#0005fd 66px,#04d 87px,#006bc9 120px,#0092b6 126px,#00b0a7 130px,#00b7a3 160px,#00afa8 188px,#0096b4 200px,#06c 209px)"></i>
<i style="left:408px;top:39px;width:210px;background:linear-gradient(90deg,#005ed0,#000bfa 9px,#0001ff 12px,#0001ff 15px,#00e18e 16px,#00f883 51px,#0001ff 52px,#0006fc 66px,#04d 87px,#006cc9 120px,#0093b6 126px,#00b0a7 130px,#00b7a4 164px,#00ada8 189px,#0092b6 201px,#06c 209px)"></i>
<i style="left:408px;top:40px;width:210px;background:linear-gradient(90deg,#005ed0,#000cf9 9px,#0001ff 12px,#0001ff 15px,#00e18e 16px,#00f983 51px,#0001ff 52px,#0005fd 65px,#0045dd 87px,#0069ca 119px,#008bba 125px,#00ada9 129px,#00b7a4 145px,#00b0a7 187px,#0096b4 200px,#06c 209px)"></i>
<i style="left:408px;top:41px;width:210px;background:linear-gradient(90deg,#005ed0,#000df9 9px,#0001ff 13px,#0001ff 15px,#00e18f 16px,#00f983 50px,#0001ff 51px,#0006fc 65px,#0046dc 87px,#006aca 119px,#008cb9 125px,#00ada9 129px,#00b7a4 148px,#00b0a7 187px,#0095b4 200px,#06c 209px)"></i>
<i style="left:408px;top:42px;width:210px;background:linear-gradient(90deg,#005ed0,#000df8 9px,#0001ff 13px,#0001ff 15px,#00e18f 16px,#00f883 49px,#0001ff 50px,#0005fc 64px,#0046dc 87px,#006aca 119px,#008db9 125px,#00ada8 129px,#00b6a4 150px,#00afa7 187px,#0095b4 200px,#06c 209px)"></i>
<i style="left:408px;top:43px;width:210px;background:linear-gradient(90deg,#005fd0,#000ef8 9px,#0001ff 13px,#0001ff 16px,#00e18e 17px,#00f883 48px,#0001ff 49px,#0006fc 64px,#0047dc 87px,#006bca 119px,#008eb8 125px,#00aea8 129px,#00b6a4 153px,#00afa7 187px,#0095b4 200px,#0067cc 209px)"></i>
<i style="left:408px;top:44px;width:210px;background:linear-gradient(90deg,#005fd0,#000ff7 9px,#0001ff 13px,#0001ff 16px,#00e18f 17px,#00f883 47px,#0001ff 48px,#0006fc 63px,#0048db 87px,#006bc9 119px,#008fb7 125px,#00aea8 129px,#00b6a4 156px,#00aea8 188px,#0092b6 201px,#0067cc 209px)"></i>
<i style="left:408px;top:45px;width:210px;background:linear-gradient(90deg,#005fcf,#0010f7 9px,#0001ff 13px,#0001ff 16px,#00e18f 17px,#00f883 46px,#0001ff 47px,#0007fc 63px,#0048db 87px,#006cc9 119px,#0090b7 125px,#00aea8 129px,#00b6a4 159px,#00aea8 188px,#0091b6 201px,#0067cc 209px)"></i>
<i style="left:408px;top:46px;width:210px;background:linear-gradient(90deg,#005fcf,#0011f7 9px,#0001ff 14px,#0001ff 17px,#00e18e 18px,#00f983 46px,#0001ff 47px,#0006fc 62px,#0021ef 72px,#004ada 88px,#006cc9 119px,#0091b6 125px,#00afa8 129px,#00b6a4 162px,#00aca9 189px,#0091b6 201px,#0067cb 209px)"></i>
<i style="left:408px;top:47px;width:210px;background:linear-gradient(90deg,#005fcf,#0012f6 9px,#0001ff 14px,#0001ff 17px,#00e18f 18px,#00f983 45px,#0001ff 46px,#0007fb 62px,#02e 72px,#004bda 88px,#006aca 118px,#008aba 124px,#00abaa 128px,#00b4a5 139px,#00b0a7 186px,#0095b5 200px,#0067cb 209px)"></i>
<i style="left:408px;top:48px;width:210px;background:linear-gradient(90deg,#0060cf,#0013f6 9px,#0001ff 14px,#0001ff 18px,#00e18e 19px,#00f983 44px,#0001ff 45px,#0007fb 61px,#001fef 71px,#004ada 87px,#006bca 118px,#008bba 124px,#00abaa 128px,#00b5a5 142px,#00afa7 186px,#0095b5 200px,#0067cb 209px)"></i>
<i style="left:408px;top:49px;width:210px;background:linear-gradient(90deg,#0060cf,#0013f5 9px,#0001ff 15px,#0001ff 18px,#00e18f 19px,#00f883 43px,#0001ff 44px,#0008fb 61px,#0020ef 71px,#004bda 87px,#006bc9 118px,#008cb9 124px,#00aba9 128px,#00b5a5 145px,#00aea8 187px,#0095b5 200px,#0067cb 209px)"></i>
<i style="left:408px;top:50px;width:210px;background:linear-gradient(90deg,#0060cf,#0014f5 9px,#0001fe 15px,#0001ff 19px,#00e18e 20px,#00f883 42px,#0001ff 43px,#0009fa 61px,#0021ee 71px,#004bd9 87px,#006cc9 118px,#008db8 124px,#00aba9 128px,#00b5a5 148px,#00aea8 187px,#0095b5 200px,#0067cb 209px)"></i>
<i style="left:408px;top:51px;width:210px;background:linear-gradient(90deg,#0060cf,#0015f4 9px,#0002fe 15px,#0001ff 19px,#00e18f 20px,#00f883 41px,#0001ff 42px,#000bf9 62px,#0029ea 73px,#004dd8 88px,#006cc9 118px,#008eb8 124px,#00aca9 128px,#00b4a5 150px,#00aea8 187px,#0095b5 200px,#0068cb 209px)"></i>
<i style="left:408px;top:52px;width:210px;background:linear-gradient(90deg,#0060cf,#0016f4 9px,#0003fd 15px,#0001ff 20px,#00e18e 21px,#00f983 40px,#0001ff 41px,#000ef8 63px,#004bda 86px,#006dc9 118px,#008fb7 124px,#00aca9 128px,#00b4a5 151px,#00ada8 187px,#0094b5 200px,#0068cb 209px)"></i>
<i style="left:408px;top:53px;width:210px;background:linear-gradient(90deg,#0060cf,#0017f3 9px,#0004fd 15px,#0001ff 20px,#00e18f 21px,#00f983 39px,#0001ff 40px,#000ff8 63px,#004bd9 86px,#006ec8 118px,#0090b7 124px,#00aca9 128px,#00b4a5 153px,#00aca9 188px,#0091b7 201px,#0068cb 209px)"></i>
<i style="left:408px;top:54px;width:210px;background:linear-gradient(90deg,#0061cf,#0018f3 9px,#0005fc 15px,#0002fe 21px,#00e18f 22px,#00f883 37px,#0001fe 38px,#000ef8 62px,#004cd9 86px,#006ec8 118px,#0091b6 124px,#00aca9 128px,#00b4a5 154px,#00aca9 188px,#0091b7 201px,#0068cb 209px)"></i>
<i style="left:408px;top:55px;width:210px;background:linear-gradient(90deg,#0061cf,#0019f3 9px,#0006fc 15px,#0002fe 23px,#00e28e 24px,#00f883 36px,#0002fe 37px,#000ef8 61px,#002aea 72px,#004ed8 87px,#006cc9 117px,#008aba 123px,#00aca9 128px,#00b4a5 156px,#00aca9 188px,#0090b7 201px,#0068cb 209px)"></i>
<i style="left:408px;top:56px;width:210px;background:linear-gradient(90deg,#0061cf,#001af2 9px,#0007fb 15px,#0003fd 24px,#00e28e 25px,#00f883 35px,#0003fd 36px,#000ef8 60px,#0024ed 70px,#004dd8 86px,#006cc9 117px,#008cb9 123px,#00aca9 128px,#00b3a5 158px,#00aca9 188px,#0090b7 201px,#0068cb 209px)"></i>
<i style="left:408px;top:57px;width:210px;background:linear-gradient(90deg,#0061ce,#001bf2 9px,#0008fb 15px,#0004fd 25px,#00e28e 26px,#00f684 32px,#0004fd 33px,#000ef8 59px,#02e 69px,#004cd9 85px,#006dc8 117px,#008cb9 123px,#00aca9 128px,#00b3a5 159px,#0aa 189px,#0090b7 201px,#0068cb 209px)"></i>
<i style="left:408px;top:58px;width:210px;background:linear-gradient(90deg,#0061ce,#001cf1 9px,#0009fb 15px,#0005fc 28px,#00ea8a 29px,#0005fc 30px,#000df9 57px,#001fef 68px,#004dd9 85px,#006ec8 117px,#008db8 123px,#00aca9 128px,#00b3a6 161px,#0aa 189px,#0090b7 201px,#0068cb 209px)"></i>
<i style="left:408px;top:59px;width:210px;background:linear-gradient(90deg,#0061ce,#001cf1 9px,#000afa 15px,#000afa 52px,#001df0 67px,#004dd8 85px,#006ec8 117px,#008eb8 123px,#00aca9 128px,#00b3a6 162px,#0aa 189px,#0090b7 201px,#0068cb 209px)"></i>
<i style="left:408px;top:60px;width:210px;background:linear-gradient(90deg,#0062ce,#001df0 9px,#000bfa 15px,#000bf9 52px,#001ef0 67px,#004cd9 84px,#006fc8 117px,#008fb7 123px,#00aca9 128px,#00b3a6 164px,#00a9aa 189px,#0090b7 201px,#0068cb 209px)"></i>
<i style="left:408px;top:61px;width:210px;height:2px;background:linear-gradient(90deg,#0062ce,#001ff0 9px,#000cf9 15px,#000df9 52px,#0020ef 67px,#004dd8 84px,#0070c7 117px,#0091b7 123px,#00aca9 128px,#00b2a6 167px,#00a8ab 190px,#0090b7 201px,#0069cb 209px)"></i>
<i style="left:408px;top:63px;width:210px;height:2px;background:linear-gradient(90deg,#0062ce,#0020ef 9px,#000df8 16px,#000ff7 53px,#02e 67px,#004ed8 84px,#006ec8 116px,#008bb9 122px,#00a9aa 127px,#00b2a6 149px,#00aba9 187px,#0093b5 200px,#0069cb 209px)"></i>
<i style="left:408px;top:65px;width:210px;height:2px;background:linear-gradient(90deg,#0063ce,#001df0 10px,#000ef8 18px,#0012f6 54px,#0024ed 67px,#0050d7 84px,#006fc7 116px,#008db8 122px,#0aa 127px,#00b1a6 152px,#0aa 188px,#008fb7 201px,#0069ca 209px)"></i>
<i style="left:408px;top:67px;width:210px;height:2px;background:linear-gradient(90deg,#0063ce,#001fef 10px,#0010f7 18px,#0013f5 54px,#0026ec 67px,#0051d7 84px,#0070c7 116px,#0096b4 123px,#00aca9 128px,#00b0a7 175px,#00a2ae 193px,#0087bb 203px,#0069ca 209px)"></i>
<i style="left:408px;top:69px;width:210px;height:2px;background:linear-gradient(90deg,#0063cd,#0021ee 10px,#0012f6 18px,#0015f4 54px,#0028eb 67px,#0052d6 84px,#006fc8 115px,#008aba 121px,#00a9aa 127px,#00b0a7 157px,#00a9ab 188px,#008fb8 201px,#006aca 209px)"></i>
<i style="left:408px;top:71px;width:210px;height:2px;background:linear-gradient(90deg,#0064cd,#0023ee 10px,#0014f5 18px,#0017f3 54px,#002aea 67px,#0053d6 84px,#0070c7 115px,#0092b6 122px,#00a9aa 127px,#00b0a7 161px,#00a7ab 189px,#008fb8 201px,#006aca 209px)"></i>
<i style="left:408px;top:73px;width:210px;height:2px;background:linear-gradient(90deg,#0064cd,#0025ed 10px,#0016f4 18px,#0019f2 54px,#002ce9 67px,#0054d5 84px,#0071c6 115px,#009ab2 123px,#00abaa 128px,#00ada8 180px,#009ab2 197px,#0075c5 207px,#006aca 209px)"></i>
<i style="left:408px;top:75px;width:210px;height:2px;background:linear-gradient(90deg,#0064cd,#0026ec 10px,#0017f3 18px,#001bf2 54px,#002ee8 67px,#0055d5 84px,#0070c7 114px,#008fb8 121px,#00a9aa 127px,#00afa8 167px,#00a5ac 190px,#008bba 202px,#006aca 209px)"></i>
<i style="left:408px;top:77px;width:210px;height:2px;background:linear-gradient(90deg,#0065cd,#0028eb 10px,#0019f2 18px,#001df1 54px,#002fe7 67px,#0056d4 84px,#0071c7 114px,#0096b4 122px,#0aa 128px,#00aba9 182px,#0097b4 198px,#0070c7 208px,#006bca 209px)"></i>
<i style="left:408px;top:79px;width:210px;height:2px;background:linear-gradient(90deg,#0065cd,#002aea 10px,#001bf1 18px,#001ff0 54px,#0031e6 67px,#0057d4 84px,#0072c6 114px,#00a7ac 126px,#00aea8 152px,#00a7ac 188px,#008eb8 201px,#006bca 209px)"></i>
<i style="left:408px;top:81px;width:210px;height:2px;background:linear-gradient(90deg,#0065cc,#002ce9 10px,#001df1 19px,#0021ee 55px,#0036e4 68px,#0058d3 84px,#0071c7 113px,#0093b6 121px,#00a8ab 127px,#00aca9 176px,#009eb0 194px,#007ec0 205px,#006bc9 209px)"></i>
<i style="left:408px;top:83px;width:210px;height:2px;background:linear-gradient(90deg,#06c,#002ee8 10px,#001ef0 19px,#0023ee 55px,#0038e3 68px,#0059d3 84px,#0072c6 113px,#00a6ac 126px,#00ada8 158px,#00a5ad 189px,#008aba 202px,#006bc9 209px)"></i>
<i style="left:408px;top:85px;width:210px;height:2px;background:linear-gradient(90deg,#06c,#002fe7 10px,#0020ef 19px,#0025ed 55px,#0039e2 68px,#005ad2 84px,#0073c6 113px,#00a6ac 126px,#00ada9 161px,#00a3ad 190px,#008aba 202px,#006cc9 209px)"></i>
<i style="left:408px;top:87px;width:210px;height:2px;background:linear-gradient(90deg,#06c,#0031e6 10px,#02e 19px,#0026ec 55px,#003ee0 69px,#005cd1 85px,#0072c6 112px,#0096b4 121px,#00a9ab 128px,#00a8ab 184px,#0093b6 199px,#006cc9 209px)"></i>
<i style="left:408px;top:89px;width:210px;height:2px;background:linear-gradient(90deg,#0067cc,#0030e7 11px,#0023ed 22px,#0029eb 56px,#0042de 70px,#005dd0 86px,#0073c6 112px,#00a6ac 126px,#00aba9 168px,#00a1af 191px,#0086bc 203px,#006cc9 209px)"></i>
<i style="left:408px;top:91px;width:210px;height:2px;background:linear-gradient(90deg,#0067cb,#0031e6 11px,#0025ed 22px,#002bea 56px,#0046dc 71px,#005fd0 87px,#0074c5 112px,#00a6ac 126px,#0aa 172px,#009eb0 193px,#007ec0 205px,#006cc9 209px)"></i>
<i style="left:408px;top:93px;width:210px;height:2px;background:linear-gradient(90deg,#0068cb,#0033e5 11px,#0027ec 22px,#002de9 56px,#0047db 71px,#0060cf 87px,#0075c5 112px,#00a4ad 125px,#00abaa 153px,#00a2ae 189px,#0089ba 202px,#006dc9 209px)"></i>
<i style="left:408px;top:95px;width:210px;height:2px;background:linear-gradient(90deg,#0068cb,#0035e5 11px,#0029eb 22px,#002ee8 56px,#004bda 72px,#0061ce 88px,#0073c5 111px,#00a3ad 125px,#0aa 156px,#00a2ae 189px,#0089bb 202px,#006dc9 209px)"></i>
<i style="left:408px;top:97px;width:210px;height:2px;background:linear-gradient(90deg,#0068cb,#0037e4 11px,#002aea 22px,#0030e7 56px,#0050d7 74px,#0065cd 93px,#0077c4 112px,#00a3ad 125px,#0aa 160px,#00a0af 190px,#0086bc 203px,#006dc8 209px)"></i>
<i style="left:408px;top:99px;width:210px;height:2px;background:linear-gradient(90deg,#0069cb,#0038e3 11px,#002ce9 23px,#0033e6 57px,#0061cf 85px,#0075c4 111px,#00a3ad 125px,#00a9ab 164px,#009fb0 191px,#0082be 204px,#006ec8 209px)"></i>
<i style="left:408px;top:101px;width:210px;height:2px;background:linear-gradient(90deg,#0069ca,#003ae2 11px,#002ee8 23px,#0034e5 57px,#0061ce 85px,#0074c5 110px,#00a3ae 125px,#00a8ab 167px,#009db0 192px,#0082be 204px,#006ec8 209px)"></i>
<i style="left:408px;top:103px;width:210px;height:2px;background:linear-gradient(90deg,#006aca,#003ce1 11px,#002fe7 23px,#0036e4 57px,#0062ce 85px,#0075c4 110px,#00a2ae 125px,#00a7ab 171px,#009bb1 193px,#007ec0 205px,#006ec8 209px)"></i>
<i style="left:408px;top:105px;width:210px;height:2px;background:linear-gradient(90deg,#006aca,#003be2 12px,#0031e7 27px,#0039e3 58px,#0063ce 85px,#0076c4 110px,#00a2ae 125px,#00a6ac 174px,#0099b2 194px,#007bc2 206px,#006ec8 209px)"></i>
<i style="left:408px;top:107px;width:210px;height:2px;background:linear-gradient(90deg,#006bca,#003de1 12px,#0033e6 27px,#003ae2 58px,#0064cd 85px,#0077c3 110px,#00a2ae 125px,#00a5ac 177px,#0096b4 196px,#0073c6 208px,#006fc8 209px)"></i>
<i style="left:408px;top:109px;width:210px;height:2px;background:linear-gradient(90deg,#006bca,#003ee0 12px,#0034e5 27px,#003ce1 58px,#0064cd 85px,#0076c4 109px,#00a2ae 125px,#00a4ad 179px,#0093b5 197px,#006fc7 209px)"></i>
<i style="left:408px;top:111px;width:210px;height:2px;background:linear-gradient(90deg,#006bc9,#0040df 12px,#0036e4 27px,#003ee0 58px,#0065cc 85px,#0077c4 109px,#00a1ae 125px,#00a3ad 181px,#0091b6 198px,#006fc7 209px)"></i>
<i style="left:408px;top:113px;width:210px;height:2px;background:linear-gradient(90deg,#006cc9,#0042de 12px,#0038e3 28px,#003fdf 58px,#06c 85px,#0078c3 109px,#00a1af 125px,#00a2ae 182px,#008fb8 199px,#0070c7 209px)"></i>
<i style="left:408px;top:115px;width:210px;height:2px;background:linear-gradient(90deg,#006cc9,#0043dd 12px,#0039e2 28px,#0041de 58px,#0067cc 85px,#0079c3 109px,#00a0af 125px,#00a1ae 183px,#008cb9 200px,#0070c7 209px)"></i>
<i style="left:408px;top:117px;width:210px;height:2px;background:linear-gradient(90deg,#006dc9,#0043de 13px,#003be2 33px,#0045dd 60px,#0067cb 85px,#007ac2 109px,#00a0af 125px,#00a0af 184px,#008cb9 200px,#0070c7 209px)"></i>
<i style="left:408px;top:119px;width:210px;height:2px;background:linear-gradient(90deg,#006dc8,#0045dd 13px,#003de1 34px,#0047dc 60px,#0068cb 85px,#0078c3 108px,#00a0af 125px,#00a0af 184px,#0089ba 201px,#0071c7 209px)"></i>
<i style="left:408px;top:121px;width:210px;height:2px;background:linear-gradient(90deg,#006ec8,#0046dc 13px,#003ee0 34px,#0048db 60px,#0069cb 85px,#0079c2 108px,#009faf 125px,#009faf 184px,#0089bb 201px,#0071c6 209px)"></i>
<i style="left:408px;top:123px;width:210px;height:2px;background:linear-gradient(90deg,#006ec8,#0048db 13px,#0040df 34px,#004ada 60px,#0069ca 85px,#007ac2 108px,#009fb0 125px,#009eb0 185px,#0089bb 201px,#0071c6 209px)"></i>
<i style="left:408px;top:125px;width:210px;height:2px;background:linear-gradient(90deg,#006ec8,#0049da 13px,#0042de 35px,#004dd9 61px,#006bca 86px,#007bc2 108px,#009eb0 125px,#009db0 185px,#0086bc 202px,#0072c6 209px)"></i>
<i style="left:408px;top:127px;width:210px;height:2px;background:linear-gradient(90deg,#006fc8,#004ada 14px,#04d 43px,#0052d6 64px,#006cc9 87px,#007cc1 108px,#009eb0 125px,#009db1 185px,#0086bc 202px,#0072c6 209px)"></i>
<i style="left:408px;top:129px;width:210px;height:2px;background:linear-gradient(90deg,#006fc7,#004bd9 14px,#0045dc 43px,#0055d5 65px,#006dc9 88px,#007dc1 108px,#009db0 125px,#009cb1 185px,#0086bc 202px,#0072c6 209px)"></i>
<i style="left:408px;top:131px;width:210px;height:2px;background:linear-gradient(90deg,#0070c7,#004dd9 14px,#0047dc 43px,#0056d4 65px,#006dc8 88px,#007dc0 108px,#009db1 125px,#009bb1 186px,#0083bd 203px,#0073c6 209px)"></i>
<i style="left:408px;top:133px;width:210px;height:2px;background:linear-gradient(90deg,#0070c7,#004ed8 14px,#0049db 44px,#0059d3 66px,#006ec8 89px,#007ec0 108px,#009cb1 125px,#009ab2 186px,#0083bd 203px,#0073c5 209px)"></i>
<i style="left:408px;top:135px;width:210px;height:2px;background:linear-gradient(90deg,#0071c7,#004fd8 15px,#004cd9 50px,#006fc7 90px,#007fc0 108px,#009cb1 125px,#009ab2 186px,#0083bd 203px,#0073c5 209px)"></i>
<i style="left:408px;top:137px;width:210px;height:2px;background:linear-gradient(90deg,#0071c6,#0050d7 15px,#004dd8 50px,#0070c7 90px,#007fbf 108px,#009bb1 125px,#0099b2 186px,#0083be 203px,#0074c5 209px)"></i>
<i style="left:408px;top:139px;width:210px;height:2px;background:linear-gradient(90deg,#0071c6,#0052d6 15px,#004fd8 50px,#0070c7 90px,#0080bf 108px,#009bb2 125px,#0099b3 186px,#0081bf 204px,#0074c5 209px)"></i>
<i style="left:408px;top:141px;width:210px;height:2px;background:linear-gradient(90deg,#0072c6,#0053d5 15px,#0051d7 50px,#0071c6 91px,#0082be 109px,#009ab2 125px,#0097b3 187px,#007ec0 205px,#0074c5 209px)"></i>
<i style="left:408px;top:143px;width:210px;height:2px;background:linear-gradient(90deg,#0072c6,#0054d5 16px,#0053d5 53px,#0072c6 90px,#0083be 109px,#009ab2 126px,#0097b4 187px,#007ec0 205px,#0075c5 209px)"></i>
<i style="left:408px;top:145px;width:210px;height:2px;background:linear-gradient(90deg,#0073c6,#0055d4 16px,#0055d5 53px,#0072c6 91px,#0083bd 109px,#009ab2 126px,#0096b4 187px,#007ec0 205px,#0075c4 209px)"></i>
<i style="left:408px;top:147px;width:210px;height:2px;background:linear-gradient(90deg,#0073c5,#0057d4 16px,#0056d4 53px,#0073c6 91px,#0086bc 110px,#0099b2 127px,#0095b4 188px,#007ac2 207px,#0076c4 209px)"></i>
<i style="left:408px;top:149px;width:210px;height:2px;background:linear-gradient(90deg,#0074c5,#0058d3 17px,#0059d3 55px,#0074c5 92px,#08b 111px,#0099b3 128px,#0094b5 188px,#007ac2 207px,#0076c4 209px)"></i>
<i style="left:408px;top:151px;width:210px;height:2px;background:linear-gradient(90deg,#0074c5,#0059d2 17px,#005ad2 55px,#0075c5 93px,#008bb9 113px,#0099b3 131px,#0093b5 189px,#0078c3 208px,#0076c4 209px)"></i>
<i style="left:408px;top:153px;width:210px;height:2px;background:linear-gradient(90deg,#0074c5,#005ad2 18px,#005cd1 56px,#0076c4 94px,#0097b3 127px,#0093b6 189px,#0077c4 209px)"></i>
<i style="left:408px;top:155px;width:210px;height:2px;background:linear-gradient(90deg,#0075c5,#005bd1 18px,#005ed0 56px,#0084bd 108px,#0097b4 127px,#0092b6 189px,#0077c4 209px)"></i>
<i style="left:408px;top:157px;width:210px;height:2px;background:linear-gradient(90deg,#0075c4,#005dd1 18px,#0060cf 57px,#0084bd 108px,#0096b4 128px,#0091b6 189px,#0077c3 209px)"></i>
<i style="left:408px;top:159px;width:210px;height:2px;background:linear-gradient(90deg,#0076c4,#005ed0 19px,#0062ce 58px,#0084bd 108px,#0096b4 128px,#0091b7 189px,#0078c3 209px)"></i>
<i style="left:408px;top:161px;width:210px;height:2px;background:linear-gradient(90deg,#0076c4,#005fcf 19px,#0063cd 58px,#0085bd 108px,#0095b4 129px,#0090b7 190px,#0078c3 209px)"></i>
<i style="left:408px;top:163px;width:210px;height:2px;background:linear-gradient(90deg,#0077c4,#0060cf 20px,#0065cd 59px,#0085bd 108px,#0095b5 130px,#008fb7 190px,#0078c3 209px)"></i>
<i style="left:408px;top:165px;width:210px;height:2px;background:linear-gradient(90deg,#0077c3,#0061ce 21px,#0067cc 60px,#0085bd 108px,#0094b5 130px,#008eb8 191px,#0079c3 209px)"></i>
<i style="left:408px;top:167px;width:210px;height:2px;background:linear-gradient(90deg,#0077c3,#0063ce 21px,#0069cb 61px,#0086bc 109px,#0093b5 133px,#008db8 191px,#0079c3 209px)"></i>
<i style="left:408px;top:169px;width:210px;height:2px;background:linear-gradient(90deg,#0078c3,#0064cd 22px,#006aca 62px,#0086bc 109px,#0093b6 134px,#008cb9 192px,#0079c2 209px)"></i>
<i style="left:408px;top:171px;width:210px;height:2px;background:linear-gradient(90deg,#0078c3,#0065cc 23px,#006cc9 63px,#0086bc 109px,#0092b6 135px,#008bb9 192px,#007ac2 209px)"></i>
<i style="left:408px;top:173px;width:210px;height:2px;background:linear-gradient(90deg,#0079c3,#0067cc 23px,#006ec8 64px,#0087bb 110px,#0091b6 139px,#008aba 193px,#007ac2 209px)"></i>
<i style="left:408px;top:175px;width:210px;height:2px;background:linear-gradient(90deg,#0079c2,#0068cb 24px,#006fc7 65px,#08b 111px,#0090b7 144px,#0089ba 194px,#007ac2 209px)"></i>
<i style="left:408px;top:177px;width:210px;height:2px;background:linear-gradient(90deg,#0079c2,#0069cb 25px,#0071c6 67px,#0089bb 112px,#0090b7 154px,#0087bb 196px,#007bc2 209px)"></i>
<i style="left:408px;top:179px;width:210px;height:2px;background:linear-gradient(90deg,#007ac2,#006aca 26px,#0074c5 70px,#008aba 115px,#008cb9 185px,#007bc2 209px)"></i>
<i style="left:408px;top:181px;width:210px;height:2px;background:linear-gradient(90deg,#007ac2,#006bc9 28px,#0078c3 78px,#008eb8 135px,#0087bb 195px,#007bc1 209px)"></i>
<i style="left:408px;top:183px;width:210px;height:2px;background:linear-gradient(90deg,#007bc2,#006dc9 29px,#007dc0 96px,#008db8 133px,#0087bc 195px,#007bc1 209px)"></i>
<i style="left:408px;top:185px;width:210px;height:2px;background:linear-gradient(90deg,#007bc2,#006ec8 31px,#0081bf 102px,#008cb9 138px,#0085bd 197px,#007cc1 209px)"></i>
<i style="left:408px;top:187px;width:210px;height:2px;background:linear-gradient(90deg,#007bc1,#006fc7 33px,#0085bc 109px,#008bb9 166px,#0080bf 204px,#007cc1 209px)"></i>
<i style="left:408px;top:189px;width:210px;height:2px;background:linear-gradient(90deg,#007cc1,#0071c7 35px,#0087bc 113px,#0086bc 192px,#007cc1 209px)"></i>
<i style="left:408px;top:191px;width:210px;height:2px;background:linear-gradient(90deg,#007cc1,#0072c6 38px,#008aba 143px,#0082be 200px,#007dc1 209px)"></i>
<i style="left:408px;top:193px;width:210px;height:2px;background:linear-gradient(90deg,#007cc1,#0073c5 41px,#0089bb 145px,#0081bf 202px,#007dc1 209px)"></i>
<i style="left:408px;top:195px;width:210px;height:2px;background:linear-gradient(90deg,#007dc1,#0075c5 45px,#08b 146px,#0080bf 204px,#007dc0 209px)"></i>
<i style="left:408px;top:197px;width:210px;height:2px;background:linear-gradient(90deg,#007dc0,#0077c4 50px,#0087bb 149px,#007ec0 207px,#007ec0 209px)"></i>
<i style="left:408px;top:199px;width:210px;height:2px;background:linear-gradient(90deg,#007dc0,#0078c3 56px,#0086bc 154px,#007ec0 209px)"></i>
<i style="left:408px;top:201px;width:210px;height:2px;background:linear-gradient(90deg,#007ec0,#007bc2 63px,#0085bc 163px,#007ec0 209px)"></i>
<i style="left:408px;top:203px;width:210px;height:2px;background:linear-gradient(90deg,#007ec0,#007dc1 74px,#0084bd 180px,#007ec0 209px)"></i>
<i style="left:408px;top:205px;width:210px;height:2px;background:linear-gradient(90deg,#007ec0,#007fbf 95px,#007fbf 205px,#007fc0 209px)"></i>
<i style="left:408px;top:207px;width:210px;height:6px;background:#0080bf"></i>
<i style="left:408px;top:213px;width:210px;height:2px;background:#004060"></i>
<i style="left:237px;top:296px;width:2px;background:#8fffc7"></i>
<i style="left:234px;top:297px;width:6px;background:linear-gradient(90deg,#9ffecf,#00fe80 2px,#00ff80 4px,#8fffc7 5px)"></i>
<i style="left:231px;top:298px;width:10px;background:linear-gradient(90deg,#affed8,#10fd89 2px,#00fd81 3px,#00ff80 8px,#50ffa8 9px)"></i>
<i style="left:229px;top:299px;width:13px;background:linear-gradient(90deg,#70fdb9,#20fc91 1px,#00fb81 2px,#00ff80 11px,#20ff90 12px)"></i>
<i style="left:226px;top:300px;width:17px;background:linear-gradient(90deg,#8ffcc8,#30fb99 1px,#00fa82 2px,#00fe80 15px,#20ff90 16px)"></i>
<i style="left:224px;top:301px;width:21px;background:linear-gradient(90deg,#60fbb2,#10f98b 1px,#00f983 2px,#00ff80 19px,#bfffdf 20px)"></i>
<i style="left:221px;top:302px;width:25px;background:linear-gradient(90deg,#70fbba,#20f893 1px,#00f783 2px,#00ff80 23px,#80ffc0 24px)"></i>
<i style="left:218px;top:303px;width:29px;background:linear-gradient(90deg,#80fac2,#30f89b 1px,#00f684 2px,#00ff80 27px,#60ffb0 28px)"></i>
<i style="left:215px;top:304px;width:33px;background:linear-gradient(90deg,#8ffaca,#30f69c 1px,#00f585 2px,#00ff80 31px,#50ffa8 32px)"></i>
<i style="left:212px;top:305px;width:37px;background:linear-gradient(90deg,#9ffad2,#00f385 2px,#00fe80 35px,#30ff98 36px)"></i>
<i style="left:209px;top:306px;width:42px;background:linear-gradient(90deg,#9ffad2,#60f7b3 1px,#10f38e 2px,#00f286 3px,#00fe80 39px,#10ff88 40px,#bfffdf 41px)"></i>
<i style="left:153px;top:307px;width:1px;background:#80fec0"></i>
<i style="left:206px;top:307px;width:46px;background:linear-gradient(90deg,#affada,#50f5ad 1px,#00f187 2px,#00fe80 43px,#10ff88 44px,#8fffc7 45px)"></i>
<i style="left:154px;top:308px;width:2px;background:linear-gradient(90deg,#70feb8,#8ffec8 1px)"></i>
<i style="left:203px;top:308px;width:50px;background:linear-gradient(90deg,#9ff9d2,#00f087 2px,#00ff80 48px,#70ffb8 49px)"></i>
<i style="left:155px;top:309px;width:3px;background:linear-gradient(90deg,#80fec0,#30fc99 1px,#bffde0 2px)"></i>
<i style="left:200px;top:309px;width:54px;background:linear-gradient(90deg,#8ff8cb,#40f2a6 1px,#0e8 2px,#00fe80 52px,#50ffa8 53px)"></i>
<i style="left:156px;top:310px;width:3px;background:linear-gradient(90deg,#9ffecf,#00fb82 1px,#60fab2 2px)"></i>
<i style="left:196px;top:310px;width:59px;background:linear-gradient(90deg,#aff9da,#70f5bd 1px,#20ef97 2px,#00ed88 3px,#00fe80 57px,#20ff90 58px)"></i>
<i style="left:158px;top:311px;width:3px;background:linear-gradient(90deg,#10fb89,#00f784 1px,#50f8ab 2px)"></i>
<i style="left:193px;top:311px;width:63px;background:linear-gradient(90deg,#8ff7cb,#40f1a6 1px,#00ec89 2px,#00fe80 61px,#10ff88 62px)"></i>
<i style="left:159px;top:312px;width:5px;background:linear-gradient(90deg,#20fc91,#00f684 1px,#00f485 2px,#30f49d 3px,#9ffad2 4px)"></i>
<i style="left:188px;top:312px;width:70px;background:linear-gradient(90deg,#aff9da,#50f1af 2px,#10ec91 3px,#00eb89 4px,#00ff80 68px,#9fffcf 69px)"></i>
<i style="left:160px;top:313px;width:8px;background:linear-gradient(90deg,#30fc99,#00f684 1px,#00f087 4px,#30f29e 5px,#80f7c4 6px,#bffbe1 7px)"></i>
<i style="left:183px;top:313px;width:76px;background:linear-gradient(90deg,#aff8da,#20ed99 3px,#00ea8a 4px,#00ff80 74px,#80ffc0 75px)"></i>
<i style="left:161px;top:314px;width:99px;background:linear-gradient(90deg,#50fda8,#00f684 1px,#00ec89 8px,#30f09f 9px,#40f0a6 10px,#40f0a7 11px,#80f5c5 12px,#80f4c5 14px,#70f3bd 15px,#40efa7 16px,#40efa7 18px,#10eb91 19px,#00ea8a 20px,#00fe80 97px,#60ffb0 98px)"></i>
<i style="left:162px;top:315px;width:99px;background:linear-gradient(90deg,#60fdb0,#00f684 1px,#00e98a 18px,#00fe80 97px,#30ff98 98px)"></i>
<i style="left:163px;top:316px;width:99px;background:linear-gradient(90deg,#70fdb8,#00f684 1px,#00e98a 15px,#00fe80 97px,#30ff98 98px)"></i>
<i style="left:164px;top:317px;width:100px;background:linear-gradient(90deg,#9ffed0,#00f684 1px,#00e98a 13px,#00fd80 94px,#00fe80 97px,#10ff88 98px,#afffd7 99px)"></i>
<i style="left:165px;top:318px;width:100px;background:linear-gradient(90deg,#9ffed0,#00f784 1px,#00ea8a 10px,#00f684 78px,#00ff80 98px,#8fffc7 99px)"></i>
<i style="left:166px;top:319px;width:100px;background:linear-gradient(90deg,#9ffed0,#00f883 1px,#00eb89 6px,#00ef87 58px,#00fe80 98px,#70ffb8 99px)"></i>
<i style="left:167px;top:320px;width:100px;background:linear-gradient(90deg,#9ffdd0,#00f982 1px,#0e8 3px,#00e98a 37px,#00fe80 98px,#40ffa0 99px)"></i>
<i style="left:168px;top:321px;width:100px;background:linear-gradient(90deg,#9ffdd0,#00fa82 1px,#00ed88 3px,#00e98a 38px,#00fe80 98px,#20ff90 99px)"></i>
<i style="left:169px;top:322px;width:101px;background:linear-gradient(90deg,#9ffdd0,#00fb82 1px,#00ed89 3px,#00ea8a 40px,#00fe80 98px,#10ff88 99px,#bfffdf 100px)"></i>
<i style="left:170px;top:323px;width:101px;background:linear-gradient(90deg,#60fbb1,#00fc81 1px,#00eb8a 4px,#00eb89 48px,#00ff80 99px,#9fffcf 100px)"></i>
<i style="left:171px;top:324px;width:101px;background:linear-gradient(90deg,#50faaa,#00fc81 1px,#00ea8a 4px,#00eb89 49px,#00fe80 99px,#60ffb0 100px)"></i>
<i style="left:172px;top:325px;width:101px;background:linear-gradient(90deg,#30f99a,#00fc81 1px,#00ea8a 3px,#00e98a 43px,#00fe80 99px,#50ffa8 100px)"></i>
<i style="left:173px;top:326px;width:101px;background:linear-gradient(90deg,#10f88b,#00fc81 1px,#00e98a 3px,#00ea8a 47px,#00fe80 99px,#30ff98 100px)"></i>
<i style="left:174px;top:327px;width:102px;background:linear-gradient(90deg,#10f88b,#00fb81 1px,#00e88b 3px,#00ea8a 48px,#00fe80 99px,#10ff88 100px,#bfffdf 101px)"></i>
<i style="left:174px;top:328px;width:103px;background:linear-gradient(90deg,#9ffbd1,#00f783 1px,#00f684 3px,#00e98a 4px,#00e88b 43px,#00ff80 101px,#9fffcf 102px)"></i>
<i style="left:175px;top:329px;width:103px;background:linear-gradient(90deg,#70f9ba,#00f883 1px,#00f883 3px,#00e88b 4px,#00e88b 43px,#00ff80 101px,#80ffc0 102px)"></i>
<i style="left:176px;top:330px;width:103px;background:linear-gradient(90deg,#30f69c,#00f883 1px,#00f883 3px,#00e78b 4px,#00e88b 44px,#00fe80 101px,#50ffa8 102px)"></i>
<i style="left:177px;top:331px;width:103px;background:linear-gradient(90deg,#00f485,#00f783 3px,#00e68c 4px,#00e88b 45px,#00fe80 101px,#30ff98 102px)"></i>
<i style="left:177px;top:332px;width:104px;background:linear-gradient(90deg,#80f8c3,#00f585 1px,#00fa82 3px,#00e48d 5px,#00ec89 61px,#00fe80 102px,#20ff90 103px)"></i>
<i style="left:178px;top:333px;width:105px;background:linear-gradient(90deg,#40f5a4,#00f584 1px,#00fa82 3px,#00e38d 5px,#00ed88 64px,#00fe80 102px,#10ff88 103px,#9fffcf 104px)"></i>
<i style="left:179px;top:334px;width:105px;background:linear-gradient(90deg,#00f286,#00f883 3px,#00e58d 4px,#00e48d 39px,#00ff80 103px,#9fffcf 104px)"></i>
<i style="left:179px;top:335px;width:106px;background:linear-gradient(90deg,#60f5b4,#00f386 1px,#00f783 3px,#00e28e 5px,#00eb89 62px,#00ff80 104px,#60ffb0 105px)"></i>
<i style="left:180px;top:336px;width:106px;background:linear-gradient(90deg,#10f08f,#00f386 1px,#00f087 3px,#00e28e 4px,#00ea8a 58px,#00fe80 104px,#30ff98 105px)"></i>
<i style="left:180px;top:337px;width:107px;background:linear-gradient(90deg,#80f6c4,#00f087 1px,#00f485 3px,#00e18e 4px,#00e88b 55px,#00fe80 105px,#30ff98 106px)"></i>
<i style="left:181px;top:338px;width:108px;background:linear-gradient(90deg,#20f097,#00f187 1px,#00f485 2px,#00e48d 3px,#00e08f 33px,#00fe80 105px,#10fe88 106px,#bfffdf 107px)"></i>
<i style="left:181px;top:339px;width:109px;background:linear-gradient(90deg,#8ff6cc,#00ef88 1px,#00f186 2px,#00e08f 4px,#00e78b 57px,#00fe80 107px,#9fffcf 108px)"></i>
<i style="left:182px;top:340px;width:109px;background:linear-gradient(90deg,#10ed91,#00ef87 1px,#00de90 4px,#00e98b 62px,#00fe80 107px,#70ffb8 108px)"></i>
<i style="left:182px;top:341px;width:110px;background:linear-gradient(90deg,#60f2b6,#0e8 1px,#00de90 4px,#00e78b 60px,#00fe80 108px,#50ffa8 109px)"></i>
<i style="left:182px;top:342px;width:111px;background:linear-gradient(90deg,#bff9e2,#00ec89 1px,#00de90 4px,#00e58c 57px,#00fe80 109px,#30ff98 110px)"></i>
<i style="left:183px;top:343px;width:111px;background:linear-gradient(90deg,#20ec99,#00e78c 1px,#00dd91 3px,#00e48d 55px,#00fe80 109px,#10ff88 110px)"></i>
<i style="left:183px;top:344px;width:113px;background:linear-gradient(90deg,#60f0b6,#00e68c 1px,#00dc91 3px,#00e28e 52px,#00fe80 110px,#10fe88 111px,#9fffcf 112px)"></i>
<i style="left:183px;top:345px;width:114px;background:linear-gradient(90deg,#aff7db,#00e88b 1px,#00db91 3px,#00e18e 52px,#00fe80 112px,#8fffc7 113px)"></i>
<i style="left:184px;top:346px;width:114px;background:linear-gradient(90deg,#00e78c,#00db92 2px,#00df8f 47px,#00fe80 112px,#60ffb0 113px)"></i>
<i style="left:184px;top:347px;width:115px;background:linear-gradient(90deg,#30eca1,#00dc91 1px,#00da92 33px,#00fe80 113px,#30ff98 114px)"></i>
<i style="left:184px;top:348px;width:116px;background:linear-gradient(90deg,#40eca9,#00db91 1px,#00d993 32px,#00fe80 114px,#30ff98 115px)"></i>
<i style="left:184px;top:349px;width:118px;background:linear-gradient(90deg,#50ebb1,#00da92 1px,#00d793 30px,#00fe80 115px,#10ff88 116px,#afffd7 117px)"></i>
<i style="left:184px;top:350px;width:119px;background:linear-gradient(90deg,#80efc7,#00da92 1px,#00d694 28px,#00ff80 117px,#9fffcf 118px)"></i>
<i style="left:184px;top:351px;width:119px;background:linear-gradient(90deg,#80efc7,#00d992 1px,#00d594 30px,#00fe80 117px,#80ffc0 118px)"></i>
<i style="left:184px;top:352px;width:118px;background:linear-gradient(90deg,#80ebc9,#00d893 1px,#00d396 24px,#00fc81 116px,#9ffed0 117px)"></i>
<i style="left:184px;top:353px;width:116px;background:linear-gradient(90deg,#80e7cb,#00d793 1px,#00d296 23px,#00fa82 114px,#10fb8a 115px)"></i>
<i style="left:184px;top:354px;width:115px;background:linear-gradient(90deg,#80e7cb,#00d694 1px,#00d196 25px,#00f883 113px,#20fa92 114px)"></i>
<i style="left:184px;top:355px;width:114px;background:linear-gradient(90deg,#80e7cb,#00d694 1px,#00cf98 19px,#00f784 112px,#30f99a 113px)"></i>
<i style="left:184px;top:356px;width:113px;background:linear-gradient(90deg,#80e7cb,#00d495 1px,#00ce98 17px,#00f584 111px,#50f9aa 112px)"></i>
<i style="left:184px;top:357px;width:112px;background:linear-gradient(90deg,#80e1ce,#00d495 1px,#0c9 13px,#00f485 110px,#70f9ba 111px)"></i>
<i style="left:184px;top:358px;width:111px;background:linear-gradient(90deg,#afebe1,#00d495 1px,#00cb9a 8px,#00ed88 101px,#00f286 109px,#80f9c2 110px)"></i>
<i style="left:184px;top:359px;width:110px;background:linear-gradient(90deg,#bfefe7,#00d097 1px,#00ca9a 17px,#00f087 108px,#9ffad2 109px)"></i>
<i style="left:184px;top:360px;width:109px;background:linear-gradient(90deg,#bfefe7,#00ce98 1px,#00ca9a 23px,#0e8 106px,#10f08f 107px,#bffbe1 108px)"></i>
<i style="left:184px;top:361px;width:107px;background:linear-gradient(90deg,#bfefe7,#00ca9a 1px,#00d196 47px,#00ed89 105px,#10ee90 106px)"></i>
<i style="left:184px;top:362px;width:106px;background:linear-gradient(90deg,#bfefe7,#00c69c 1px,#00dc91 74px,#00eb8a 104px,#20ee98 105px)"></i>
<i style="left:184px;top:363px;width:105px;background:linear-gradient(90deg,#bfefe7,#00c09f 1px,#00c49d 4px,#00e48d 93px,#00e98a 103px,#50f0af 104px)"></i>
<i style="left:184px;top:364px;width:104px;background:linear-gradient(90deg,#bfefe7,#00c09f 1px,#00e88b 102px,#50efaf 103px)"></i>
<i style="left:184px;top:365px;width:103px;background:linear-gradient(90deg,#bfefe7,#00c09f 1px,#00e68c 101px,#80f3c5 102px)"></i>
<i style="left:184px;top:366px;width:102px;background:linear-gradient(90deg,#bfefe7,#00c09f 1px,#00e48d 99px,#00e58d 100px,#8ff4cd 101px)"></i>
<i style="left:184px;top:367px;width:101px;background:linear-gradient(90deg,#bfefe7,#00c09f 1px,#00db91 84px,#00e28e 98px,#10e595 99px,#aff7db 100px)"></i>
<i style="left:184px;top:368px;width:100px;background:linear-gradient(90deg,#bfefe7,#00c09f 1px,#00cd98 55px,#00e18f 97px,#10e395 98px,#bff8e3 99px)"></i>
<i style="left:184px;top:369px;width:98px;background:linear-gradient(90deg,#bfefe7,#00c09f 1px,#00baa2 6px,#00df8f 96px,#20e49d 97px)"></i>
<i style="left:184px;top:370px;width:97px;background:linear-gradient(90deg,#bfefe7,#00c09f 1px,#00b7a4 2px,#00de90 95px,#40e6ac 96px)"></i>
<i style="left:184px;top:371px;width:96px;background:linear-gradient(90deg,#bfefe7,#00bda0 1px,#00b7a3 3px,#00dc91 94px,#40e5ac 95px)"></i>
<i style="left:184px;top:372px;width:95px;background:linear-gradient(90deg,#bfefe7,#00bba1 1px,#00b6a4 9px,#00db92 93px,#60e9ba 94px)"></i>
<i style="left:184px;top:373px;width:94px;background:linear-gradient(90deg,#bfefe7,#00b8a3 1px,#00bfa0 35px,#00d993 92px,#8fefcf 93px)"></i>
<i style="left:185px;top:374px;width:92px;background:linear-gradient(90deg,#00b6a4,#00b5a5 12px,#00d794 89px,#10da9a 90px,#8feed0 91px)"></i>
<i style="left:185px;top:375px;width:91px;background:linear-gradient(90deg,#00b6a4,#00b4a5 13px,#00d595 88px,#10d89b 89px,#bff5e4 90px)"></i>
<i style="left:185px;top:376px;width:89px;background:linear-gradient(90deg,#00b6a4,#00afa8 5px,#00d395 87px,#10d79c 88px)"></i>
<i style="left:185px;top:377px;width:88px;background:linear-gradient(90deg,#00b6a4,#00ada8 2px,#00d196 86px,#30dbaa 87px)"></i>
<i style="left:185px;top:378px;width:87px;background:linear-gradient(90deg,#00b0a7,#00ada9 9px,#00d097 85px,#30d9aa 86px)"></i>
<i style="left:185px;top:379px;width:86px;background:linear-gradient(90deg,#00aea8,#00abaa 8px,#00ce98 84px,#60e1be 85px)"></i>
<i style="left:185px;top:380px;width:85px;background:linear-gradient(90deg,#00ada8,#00a9ab 7px,#00cd99 83px,#80e6cc 84px)"></i>
<i style="left:185px;top:381px;width:84px;background:linear-gradient(90deg,#00abaa,#00a7ab 7px,#00cb99 82px,#8fe9d2 83px)"></i>
<i style="left:185px;top:382px;width:83px;background:linear-gradient(90deg,#00abaa,#00a3ae 1px,#00ca9a 81px,#bff2e6 82px)"></i>
<i style="left:185px;top:383px;width:81px;background:linear-gradient(90deg,#00a4ad,#00c79b 79px,#10cba1 80px)"></i>
<i style="left:185px;top:384px;width:80px;background:linear-gradient(90deg,#00a0af,#00c69c 78px,#30d1af 79px)"></i>
<i style="left:185px;top:385px;width:79px;background:linear-gradient(90deg,#00a0af,#00c49d 77px,#30d0af 78px)"></i>
<i style="left:185px;top:386px;width:78px;background:linear-gradient(90deg,#009cb1,#00c39e 76px,#50d6bc 77px)"></i>
<i style="left:185px;top:387px;width:77px;background:linear-gradient(90deg,#009cb1,#00c19e 75px,#70ddc8 76px)"></i>
<i style="left:185px;top:388px;width:76px;background:linear-gradient(90deg,#0094b5,#00a8ab 26px,#00c09f 74px,#80e0cf 75px)"></i>
<i style="left:185px;top:389px;width:75px;background:linear-gradient(90deg,#0094b5,#00bea0 73px,#bfefe7 74px)"></i>
<i style="left:185px;top:390px;width:74px;background:linear-gradient(90deg,#0093b5,#00bca1 71px,#10c1a7 72px,#bfefe7 73px)"></i>
<i style="left:185px;top:391px;width:72px;background:linear-gradient(90deg,#0091b6,#00baa2 70px,#20c3ad 71px)"></i>
<i style="left:184px;top:392px;width:72px;background:linear-gradient(90deg,#bfdfef,#0091b6 1px,#00b8a3 70px,#20c2ae 71px)"></i>
<i style="left:184px;top:393px;width:71px;background:linear-gradient(90deg,#bfdfef,#008db8 1px,#00b7a4 69px,#50cec0 70px)"></i>
<i style="left:184px;top:394px;width:70px;background:linear-gradient(90deg,#bfdfef,#0088ba 1px,#00aca9 48px,#00b5a4 68px,#60d1c6 69px)"></i>
<i style="left:184px;top:395px;width:69px;background:linear-gradient(90deg,#bfdfef,#0085bc 1px,#00a1af 31px,#00b4a5 67px,#80dad2 68px)"></i>
<i style="left:184px;top:396px;width:68px;background:linear-gradient(90deg,#bfdfef,#0081be 1px,#008aba 2px,#00b2a6 66px,#9fe2de 67px)"></i>
<i style="left:184px;top:397px;width:67px;background:linear-gradient(90deg,#bfdfef,#007fbf 1px,#08b 4px,#00b0a7 64px,#10b5ac 65px,#afe7e3 66px)"></i>
<i style="left:184px;top:398px;width:66px;background:linear-gradient(90deg,#bfdfef,#007fbf 1px,#009bb2 27px,#00aea8 63px,#10b4ad 64px,#bfebe9 65px)"></i>
<i style="left:184px;top:399px;width:64px;background:linear-gradient(90deg,#bfdfef,#007fbf 1px,#00a0af 38px,#00ada9 62px,#20b7b3 63px)"></i>
<i style="left:184px;top:400px;width:63px;background:linear-gradient(90deg,#bfdfef,#007fbf 1px,#00a4ad 48px,#00abaa 61px,#40c1be 62px)"></i>
<i style="left:184px;top:401px;width:62px;background:linear-gradient(90deg,#bfdfef,#007fbf 1px,#00a8ab 56px,#0aa 60px,#50c5c5 61px)"></i>
<i style="left:184px;top:402px;width:61px;background:linear-gradient(90deg,#bfdfef,#007fbf 1px,#00a8ab 59px,#60c9ca 60px)"></i>
<i style="left:184px;top:403px;width:60px;background:linear-gradient(90deg,#bfdfef,#007ebf 1px,#007cc1 3px,#00a0af 46px,#00a6ac 58px,#8fd9da 59px)"></i>
<i style="left:184px;top:404px;width:59px;background:linear-gradient(90deg,#bfdfef,#007dc0 1px,#007bc1 4px,#009fb0 46px,#00a4ad 56px,#10aab2 57px,#9fdee0 58px)"></i>
<i style="left:184px;top:405px;width:58px;background:linear-gradient(90deg,#bfdfef,#007ac2 1px,#00a2ae 55px,#10a9b3 56px,#bfe8eb 57px)"></i>
<i style="left:184px;top:406px;width:56px;background:linear-gradient(90deg,#bfdfef,#0077c4 1px,#009fb0 50px,#00a1af 54px,#20adb8 55px)"></i>
<i style="left:184px;top:407px;width:55px;background:linear-gradient(90deg,#afd7eb,#0077c3 1px,#009fb0 53px,#40b8c3 54px)"></i>
<i style="left:184px;top:408px;width:54px;background:linear-gradient(90deg,#80bfdf,#0077c3 1px,#009db0 52px,#40b6c4 53px)"></i>
<i style="left:184px;top:409px;width:53px;background:linear-gradient(90deg,#80bfdf,#0070c7 1px,#0096b4 40px,#009cb1 51px,#60c1ce 52px)"></i>
<i style="left:184px;top:410px;width:52px;background:linear-gradient(90deg,#80bfdf,#0070c7 1px,#0097b3 45px,#009ab2 50px,#8fd3dd 51px)"></i>
<i style="left:184px;top:411px;width:51px;background:linear-gradient(90deg,#80bfdf,#006ec8 1px,#0091b6 37px,#0099b3 49px,#9fd9e2 50px)"></i>
<i style="left:184px;top:412px;width:50px;background:linear-gradient(90deg,#80bfdf,#006dc9 1px,#0093b6 41px,#0096b4 47px,#109eb8 48px,#bfe5ec 49px)"></i>
<i style="left:184px;top:413px;width:48px;background:linear-gradient(90deg,#80bde0,#006aca 1px,#0091b7 39px,#0095b5 46px,#30a9c2 47px)"></i>
<i style="left:184px;top:414px;width:47px;background:linear-gradient(90deg,#80bae2,#0068cb 1px,#008aba 31px,#0093b5 45px,#30a8c3 46px)"></i>
<i style="left:184px;top:415px;width:46px;background:linear-gradient(90deg,#80bae2,#06c 1px,#0089ba 31px,#0091b6 44px,#40aec8 45px)"></i>
<i style="left:184px;top:416px;width:45px;background:linear-gradient(90deg,#80b2e6,#0065cd 1px,#0087bc 29px,#0090b7 43px,#50b3cd 44px)"></i>
<i style="left:184px;top:417px;width:44px;background:linear-gradient(90deg,#80b0e7,#0063cd 1px,#0085bc 29px,#008eb8 42px,#80c7db 43px)"></i>
<i style="left:184px;top:418px;width:43px;background:linear-gradient(90deg,#80afe7,#0062ce 1px,#0085bd 29px,#008db9 41px,#8fcde0 42px)"></i>
<i style="left:184px;top:419px;width:42px;background:linear-gradient(90deg,#80afe8,#0061cf 1px,#0083be 28px,#008bb9 40px,#bfe2ee 41px)"></i>
<i style="left:184px;top:420px;width:40px;background:linear-gradient(90deg,#5090df,#0060cf 1px,#0082be 28px,#0089bb 38px,#2098c3 39px)"></i>
<i style="left:184px;top:421px;width:39px;background:linear-gradient(90deg,#2070d7,#005fcf 1px,#0081be 29px,#0087bb 37px,#2097c4 38px)"></i>
<i style="left:184px;top:422px;width:38px;background:linear-gradient(90deg,#005bd2,#007cc1 23px,#0086bc 36px,#309dc9 37px)"></i>
<i style="left:183px;top:423px;width:38px;background:linear-gradient(90deg,#afcbf1,#005ad2 1px,#007cc1 25px,#0084bd 36px,#60b3d6 37px)"></i>
<i style="left:183px;top:424px;width:37px;background:linear-gradient(90deg,#70a0e7,#005ad2 1px,#007dc1 27px,#0083be 35px,#70b9da 36px)"></i>
<i style="left:183px;top:425px;width:36px;background:linear-gradient(90deg,#206bd9,#0059d2 1px,#007dc0 29px,#0081bf 34px,#8fc8e3 35px)"></i>
<i style="left:182px;top:426px;width:36px;background:linear-gradient(90deg,#afc9f2,#0056d4 1px,#0078c3 25px,#007fc0 34px,#9fcfe7 35px)"></i>
<i style="left:182px;top:427px;width:35px;background:linear-gradient(90deg,#407ee0,#0056d4 1px,#0079c2 27px,#007dc1 32px,#1086c4 33px,#bfdfef 34px)"></i>
<i style="left:181px;top:428px;width:34px;background:linear-gradient(90deg,#bfd3f5,#0053d6 1px,#0075c5 24px,#007bc1 32px,#1084c5 33px)"></i>
<i style="left:123px;top:429px;width:13px;background:linear-gradient(90deg,#bfc4fc,#808afa 2px,#808afa 4px,#4050f7 5px,#404ff7 7px,#808afa 9px,#8089fa 10px,#bfc4fd 12px)"></i>
<i style="left:181px;top:429px;width:33px;background:linear-gradient(90deg,#3070df,#0053d6 1px,#0076c4 27px,#007ac2 31px,#3093cd 32px)"></i>
<i style="left:117px;top:430px;width:23px;background:linear-gradient(90deg,#bfc4fd,#8f99fb 1px,#505ef8 2px,#4050f7 3px,#0015f4 4px,#0013f5 19px,#2030f7 20px,#606afa 21px,#afb4fc 22px)"></i>
<i style="left:180px;top:430px;width:33px;background:linear-gradient(90deg,#80a6ec,#0050d7 1px,#0073c6 25px,#0078c3 31px,#50a3d6 32px)"></i>
<i style="left:113px;top:431px;width:30px;background:linear-gradient(90deg,#9fa7fb,#606cf9 1px,#404ff8 2px,#0015f5 3px,#0011f7 27px,#505afa 28px,#afb4fd 29px)"></i>
<i style="left:180px;top:431px;width:32px;background:linear-gradient(90deg,#004dd9,#006dc8 20px,#0077c4 30px,#50a2d6 31px)"></i>
<i style="left:109px;top:432px;width:36px;background:linear-gradient(90deg,#afb5fc,#707af9 1px,#2031f6 2px,#0014f5 3px,#0013f6 32px,#0011f7 33px,#202cf9 34px,#9fa4fd 35px)"></i>
<i style="left:179px;top:432px;width:32px;background:linear-gradient(90deg,#2061df,#004ed8 1px,#0072c6 27px,#0075c4 30px,#80bae2 31px)"></i>
<i style="left:106px;top:433px;width:41px;background:linear-gradient(90deg,#8f97fb,#404df8 1px,#0013f6 2px,#0015f5 36px,#0010f7 38px,#202cf9 39px,#9fa3fd 40px)"></i>
<i style="left:178px;top:433px;width:32px;background:linear-gradient(90deg,#306ae2,#004bda 1px,#0071c7 27px,#0073c5 30px,#9fcbe9 31px)"></i>
<i style="left:102px;top:434px;width:47px;background:linear-gradient(90deg,#bfc3fd,#606afa 1px,#202ff7 2px,#0012f6 3px,#0015f4 42px,#0010f7 44px,#202afa 45px,#bfc1fe 46px)"></i>
<i style="left:177px;top:434px;width:32px;background:linear-gradient(90deg,#3068e3,#0049db 1px,#006ec8 26px,#0071c7 29px,#107bca 30px,#afd3ed 31px)"></i>
<i style="left:99px;top:435px;width:51px;background:linear-gradient(90deg,#afb4fd,#606afa 1px,#0010f7 2px,#0016f4 47px,#000ff7 49px,#5056fc 50px)"></i>
<i style="left:176px;top:435px;width:31px;background:linear-gradient(90deg,#3066e4,#0047dc 1px,#006cc9 26px,#006fc7 29px,#1079ca 30px)"></i>
<i style="left:96px;top:436px;width:56px;background:linear-gradient(90deg,#afb4fd,#505afa 1px,#000ff8 2px,#0018f3 52px,#0015f5 53px,#101cf9 54px,#9fa1fe 55px)"></i>
<i style="left:174px;top:436px;width:32px;background:linear-gradient(90deg,#8fabf1,#104de0 1px,#0045dd 2px,#006cc9 28px,#006ec8 30px,#2081cf 31px)"></i>
<i style="left:93px;top:437px;width:60px;background:linear-gradient(90deg,#9fa4fd,#5059fa 1px,#101df8 2px,#000ef8 3px,#001af2 57px,#0016f4 58px,#6069fa 59px)"></i>
<i style="left:173px;top:437px;width:32px;background:linear-gradient(90deg,#406de8,#0040df 1px,#0067cb 25px,#006cc9 30px,#4092d6 31px)"></i>
<i style="left:90px;top:438px;width:65px;background:linear-gradient(90deg,#afb3fd,#101bf9 2px,#000df9 3px,#001df1 62px,#2038f3 63px,#8f9bf9 64px)"></i>
<i style="left:171px;top:438px;width:33px;background:linear-gradient(90deg,#6083ed,#003be1 1px,#0063cd 24px,#006aca 31px,#4090d7 32px)"></i>
<i style="left:88px;top:439px;width:70px;background:linear-gradient(90deg,#7076fc,#202afa 1px,#000bf9 2px,#0020ef 67px,#5066f4 68px,#8f9ef8 69px)"></i>
<i style="left:167px;top:439px;width:36px;background:linear-gradient(90deg,#bfcbf9,#8fa6f4 1px,#305bea 2px,#0038e3 3px,#0063ce 28px,#0069cb 34px,#80b4e4 35px)"></i>
<i style="left:85px;top:440px;width:117px;background:linear-gradient(90deg,#7075fc,#3038fb 1px,#000afa 2px,#0026ec 74px,#304fef 75px,#405ef0 76px,#4061ee 79px,#3056ec 80px,#0031e7 81px,#0060cf 108px,#0067cb 115px,#8fbde8 116px)"></i>
<i style="left:82px;top:441px;width:119px;background:linear-gradient(90deg,#8f93fd,#2027fc 1px,#0009fb 2px,#002de9 80px,#0065cd 116px,#106fcf 117px,#9fc6ec 118px)"></i>
<i style="left:79px;top:442px;width:121px;background:linear-gradient(90deg,#9fa2fe,#4045fd 1px,#0007fb 2px,#002de8 82px,#0063cd 118px,#106ed0 119px,#bfd8f2 120px)"></i>
<i style="left:77px;top:443px;width:121px;background:linear-gradient(90deg,#7072fd,#2025fc 1px,#0006fc 2px,#002ce9 82px,#0062ce 119px,#3080d7 120px)"></i>
<i style="left:74px;top:444px;width:123px;background:linear-gradient(90deg,#8f91fe,#3033fd 1px,#0005fd 2px,#002ce9 84px,#0060cf 121px,#307fd8 122px)"></i>
<i style="left:71px;top:445px;width:125px;background:linear-gradient(90deg,#9fa0ff,#0003fd 2px,#002de9 87px,#005fd0 123px,#4087db 124px)"></i>
<i style="left:68px;top:446px;width:127px;background:linear-gradient(90deg,#afb0ff,#1012fe 2px,#0002fe 3px,#002ce9 89px,#005dd0 125px,#80afe8 126px)"></i>
<i style="left:66px;top:447px;width:128px;background:linear-gradient(90deg,#bfbfff,#2020ff 1px,#0001ff 2px,#002aea 89px,#005cd1 126px,#80aee8 127px)"></i>
<i style="left:67px;top:448px;width:126px;background:linear-gradient(90deg,#7070ff,#00f 1px,#002aea 87px,#005ad2 124px,#8fb7eb 125px)"></i>
<i style="left:68px;top:449px;width:123px;background:linear-gradient(90deg,#9f9fff,#00f 1px,#002bea 87px,#0058d3 122px)"></i>
<i style="left:69px;top:450px;width:121px;background:linear-gradient(90deg,#bfbfff,#1010ff 1px,#00f 2px,#002aea 85px,#0056d4 119px,#206cd9 120px)"></i>
<i style="left:71px;top:451px;width:118px;background:linear-gradient(90deg,#3030ff,#00f 1px,#002aea 83px,#0054d5 116px,#3075dc 117px)"></i>
<i style="left:72px;top:452px;width:116px;background:linear-gradient(90deg,#3030ff,#00f 1px,#002aea 82px,#0052d6 114px,#3074dd 115px)"></i>
<i style="left:73px;top:453px;width:114px;background:linear-gradient(90deg,#6060ff,#00f 1px,#002aea 81px,#0051d6 112px,#6093e5 113px)"></i>
<i style="left:74px;top:454px;width:112px;background:linear-gradient(90deg,#8f8fff,#00f 1px,#002aea 80px,#0050d7 110px,#709de8 111px)"></i>
<i style="left:75px;top:455px;width:110px;background:linear-gradient(90deg,#bfbfff,#1010ff 1px,#0001ff 2px,#002aea 79px,#004ed8 108px,#8fb2ee 109px)"></i>
<i style="left:77px;top:456px;width:107px;background:linear-gradient(90deg,#2020ff,#00f 1px,#002bea 78px,#0049db 105px,#0024ed 106px)"></i>
<i style="left:78px;top:457px;width:106px;background:linear-gradient(90deg,#3030ff,#00f 1px,#002aea 76px,#0047dc 103px,#001bf2 104px,#0013f6 105px)"></i>
<i style="left:79px;top:458px;width:105px;background:linear-gradient(90deg,#6060ff,#00f 1px,#002aea 75px,#0048db 100px,#0041de 101px,#0013f6 102px,#0009fa 103px,#202ef8 104px)"></i>
<i style="left:80px;top:459px;width:104px;background:linear-gradient(90deg,#8080ff,#00f 1px,#0029ea 74px,#0047dc 98px,#104be2 99px,#0008fb 100px,#0009fb 102px,#505afa 103px)"></i>
<i style="left:81px;top:460px;width:98px;background:linear-gradient(90deg,#9f9fff,#1010ff 1px,#0001ff 2px,#0029ea 73px,#0045dc 96px,#5080e7 97px)"></i>
<i style="left:180px;top:460px;width:3px;background:linear-gradient(90deg,#9fa1fe,#4044fd 1px,#1018fb 2px)"></i>
<i style="left:83px;top:461px;width:95px;background:linear-gradient(90deg,#1010ff,#0001ff 1px,#0029ea 71px,#0043dd 93px,#608aea 94px)"></i>
<i style="left:84px;top:462px;width:93px;background:linear-gradient(90deg,#3030ff,#0001ff 1px,#002aea 71px,#0042de 91px,#80a1ee 92px)"></i>
<i style="left:85px;top:463px;width:91px;background:linear-gradient(90deg,#5050ff,#00f 1px,#002aea 70px,#003fdf 88px,#104ce1 89px,#afc4f5 90px)"></i>
<i style="left:86px;top:464px;width:89px;background:linear-gradient(90deg,#6060ff,#00f 1px,#0028eb 68px,#003ee0 86px,#104be2 87px,#afc3f5 88px)"></i>
<i style="left:87px;top:465px;width:86px;background:linear-gradient(90deg,#9f9fff,#00f 1px,#0029ea 68px,#003ce1 84px,#1049e2 85px)"></i>
<i style="left:89px;top:466px;width:83px;background:linear-gradient(90deg,#1010ff,#0001ff 1px,#0029eb 66px,#003be2 81px,#3060e7 82px)"></i>
<i style="left:90px;top:467px;width:81px;background:linear-gradient(90deg,#2020ff,#0001ff 1px,#0029eb 65px,#0039e2 79px,#406ce9 80px)"></i>
<i style="left:91px;top:468px;width:79px;background:linear-gradient(90deg,#4040ff,#00f 1px,#002aea 65px,#0038e3 77px,#5077eb 78px)"></i>
<i style="left:92px;top:469px;width:77px;background:linear-gradient(90deg,#6060ff,#00f 1px,#0029ea 64px,#0036e4 75px,#809bf1 76px)"></i>
<i style="left:93px;top:470px;width:75px;background:linear-gradient(90deg,#8080ff,#00f 1px,#0029eb 63px,#0034e5 72px,#1042e6 73px,#8fa7f3 74px)"></i>
<i style="left:94px;top:471px;width:73px;background:linear-gradient(90deg,#afafff,#1010ff 1px,#0001ff 2px,#002bea 64px,#0032e6 70px,#1040e7 71px,#afc0f7 72px)"></i>
<i style="left:96px;top:472px;width:70px;background:linear-gradient(90deg,#3030ff,#0001ff 1px,#0029ea 61px,#0031e7 67px,#103fe8 68px,#bfccf9 69px)"></i>
<i style="left:97px;top:473px;width:67px;background:linear-gradient(90deg,#3030ff,#0001ff 1px,#0029ea 60px,#002fe7 65px,#3057eb 66px)"></i>
<i style="left:98px;top:474px;width:65px;background:linear-gradient(90deg,#6060ff,#00f 1px,#002aea 60px,#002ee8 63px,#4063ee 64px)"></i>
<i style="left:99px;top:475px;width:63px;background:linear-gradient(90deg,#8080ff,#00f 1px,#002aea 59px,#002ce9 61px,#506ff0 62px)"></i>
<i style="left:100px;top:476px;width:61px;background:linear-gradient(90deg,#9f9fff,#00f 1px,#0029ea 58px,#002bea 59px,#8095f4 60px)"></i>
<i style="left:102px;top:477px;width:58px;background:linear-gradient(90deg,#1010ff,#0001ff 1px,#0029eb 56px,#8fa2f6 57px)"></i>
<i style="left:103px;top:478px;width:56px;background:linear-gradient(90deg,#2020ff,#0001ff 1px,#0027eb 54px,#9faef8 55px)"></i>
<i style="left:104px;top:479px;width:53px;background:linear-gradient(90deg,#4040ff,#00f 1px,#0025ed 51px,#1033ed 52px)"></i>
<i style="left:105px;top:480px;width:51px;background:linear-gradient(90deg,#7070ff,#00f 1px,#0023ed 49px,#304df0 50px)"></i>
<i style="left:106px;top:481px;width:49px;background:linear-gradient(90deg,#8f8fff,#1010ff 1px,#0001ff 2px,#02e 47px,#304cf1 48px)"></i>
<i style="left:107px;top:482px;width:47px;background:linear-gradient(90deg,#bfbfff,#1010ff 1px,#0001ff 2px,#0020ef 45px,#4059f3 46px)"></i>
<i style="left:109px;top:483px;width:44px;background:linear-gradient(90deg,#3030ff,#0001ff 1px,#001ff0 42px,#6073f5 43px)"></i>
<i style="left:110px;top:484px;width:42px;background:linear-gradient(90deg,#5050ff,#00f 1px,#001df0 40px,#808ff8 41px)"></i>
<i style="left:111px;top:485px;width:40px;background:linear-gradient(90deg,#6060ff,#00f 1px,#001cf1 38px,#9faafa 39px)"></i>
<i style="left:112px;top:486px;width:38px;background:linear-gradient(90deg,#8f8fff,#00f 1px,#0019f3 35px,#1028f3 36px,#bfc6fc 37px)"></i>
<i style="left:113px;top:487px;width:35px;background:linear-gradient(90deg,#bfbfff,#00f 1px,#0018f3 33px,#2035f4 34px)"></i>
<i style="left:115px;top:488px;width:32px;background:linear-gradient(90deg,#1010ff,#0001ff 1px,#0016f4 30px,#2034f5 31px)"></i>
<i style="left:116px;top:489px;width:30px;background:linear-gradient(90deg,#3030ff,#0001ff 1px,#0015f5 28px,#505ef8 29px)"></i>
<i style="left:117px;top:490px;width:28px;background:linear-gradient(90deg,#5050ff,#0001ff 1px,#0013f5 26px,#606cf9 27px)"></i>
<i style="left:118px;top:491px;width:26px;background:linear-gradient(90deg,#8f8fff,#0001ff 1px,#0011f6 24px,#707afa 25px)"></i>
<i style="left:119px;top:492px;width:24px;background:linear-gradient(90deg,#9f9fff,#1010ff 1px,#0001ff 2px,#0010f7 22px,#8f97fb 23px)"></i>
<i style="left:120px;top:493px;width:22px;background:linear-gradient(90deg,#bfbfff,#2020ff 1px,#0001ff 2px,#000df8 19px,#101df8 20px,#afb4fd 21px)"></i>
<i style="left:122px;top:494px;width:19px;background:linear-gradient(90deg,#3030ff,#0001fe 1px,#000cf9 16px,#101cf9 17px,#bfc3fd 18px)"></i>
<i style="left:123px;top:495px;width:16px;background:linear-gradient(90deg,#5050ff,#0001fe 1px,#000afa 14px,#101afa 15px)"></i>
<i style="left:124px;top:496px;width:14px;background:linear-gradient(90deg,#8080ff,#0001ff 1px,#0009fb 12px,#5056fc 13px)"></i>
<i style="left:125px;top:497px;width:12px;background:linear-gradient(90deg,#9f9fff,#1011ff 1px,#0001fe 2px,#0007fb 10px,#5055fc 11px)"></i>
<i style="left:126px;top:498px;width:10px;background:linear-gradient(90deg,#bfbfff,#00f 1px,#0006fc 8px,#5054fd 9px)"></i>
<i style="left:128px;top:499px;width:7px;background:linear-gradient(90deg,#2020ff,#0001fe 1px,#0004fd 5px,#8f91fe 6px)"></i>
<i style="left:129px;top:500px;width:5px;background:linear-gradient(90deg,#5050ff,#0001ff 1px,#0002fe 2px,#1012fe 3px,#9fa1fe 4px)"></i>
<i style="left:130px;top:501px;width:3px;background:linear-gradient(90deg,#5050ff,#1011ff 1px,#bfc0ff 2px)"></i>
<i style="left:569px;top:296px;width:34px;background:linear-gradient(90deg,#bff5e4,#00d794 1px,#00df90 32px,#9ff2d6 33px)"></i>
<i style="left:568px;top:297px;width:36px;background:linear-gradient(90deg,#80eaca,#00d594 1px,#00de90 34px,#9ff2d6 35px)"></i>
<i style="left:567px;top:298px;width:38px;background:linear-gradient(90deg,#60e4bd,#00d495 1px,#00de90 36px,#9ff2d6 37px)"></i>
<i style="left:566px;top:299px;width:40px;background:linear-gradient(90deg,#50e0b7,#00d296 1px,#00dd91 38px,#aff4dd 39px)"></i>
<i style="left:565px;top:300px;width:42px;background:linear-gradient(90deg,#30d9ab,#00d097 1px,#00de90 39px,#00dc91 40px,#9ff1d6 41px)"></i>
<i style="left:564px;top:301px;width:44px;background:linear-gradient(90deg,#30d8ab,#00cf98 1px,#00dd91 41px,#10de98 42px,#aff3dd 43px)"></i>
<i style="left:562px;top:302px;width:47px;background:linear-gradient(90deg,#bff2e6,#10d09f 1px,#00cd98 2px,#00dc91 44px,#00db92 45px,#bff6e4 46px)"></i>
<i style="left:561px;top:303px;width:48px;background:linear-gradient(90deg,#9febd9,#10cea0 1px,#0c9 2px,#00dc91 46px,#10dd99 47px)"></i>
<i style="left:560px;top:304px;width:50px;background:linear-gradient(90deg,#8fe7d3,#00c99a 1px,#00db91 48px,#10dc99 49px)"></i>
<i style="left:559px;top:305px;width:52px;background:linear-gradient(90deg,#80e3cd,#00c89b 1px,#00db92 50px,#10db99 51px)"></i>
<i style="left:558px;top:306px;width:55px;background:linear-gradient(90deg,#50d7bb,#00c69c 1px,#00da92 52px,#10db9a 53px,#aff2de 54px)"></i>
<i style="left:557px;top:307px;width:56px;background:linear-gradient(90deg,#50d6bc,#00c59d 1px,#00d992 54px,#10da9a 55px)"></i>
<i style="left:556px;top:308px;width:59px;background:linear-gradient(90deg,#20caaa,#00c39d 1px,#00d992 55px,#00d793 57px,#aff2de 58px)"></i>
<i style="left:555px;top:309px;width:61px;background:linear-gradient(90deg,#10c5a5,#00c19e 1px,#00d993 57px,#00d694 59px,#bff4e4 60px)"></i>
<i style="left:553px;top:310px;width:64px;background:linear-gradient(90deg,#afebe1,#10c3a5 1px,#00c09f 2px,#00d893 60px,#00d694 62px,#aff2de 63px)"></i>
<i style="left:552px;top:311px;width:66px;background:linear-gradient(90deg,#afeae1,#10c2a6 1px,#00bea0 2px,#00d893 62px,#00d594 64px,#9fefd7 65px)"></i>
<i style="left:551px;top:312px;width:68px;background:linear-gradient(90deg,#9fe6dc,#00bca1 1px,#00d794 64px,#00d595 66px,#70e6c4 67px)"></i>
<i style="left:550px;top:313px;width:70px;background:linear-gradient(90deg,#80ddd1,#00bba2 1px,#00d694 66px,#00d495 68px,#60e3bd 69px)"></i>
<i style="left:549px;top:314px;width:72px;background:linear-gradient(90deg,#60d3c6,#00b9a3 1px,#00d694 68px,#00d495 70px,#40ddb0 71px)"></i>
<i style="left:548px;top:315px;width:74px;background:linear-gradient(90deg,#50cdc0,#00b7a3 1px,#00d694 69px,#00d495 72px,#40ddb0 73px)"></i>
<i style="left:547px;top:316px;width:76px;background:linear-gradient(90deg,#50ccc1,#00b5a4 1px,#00d595 72px,#00d395 74px,#10d49d 75px)"></i>
<i style="left:546px;top:317px;width:79px;background:linear-gradient(90deg,#50cbc2,#00b4a5 1px,#00d595 73px,#00d396 76px,#10d49d 77px,#9fedd8 78px)"></i>
<i style="left:545px;top:318px;width:81px;background:linear-gradient(90deg,#50cac2,#00b2a6 1px,#00d495 75px,#00d196 79px,#50deb8 80px)"></i>
<i style="left:544px;top:319px;width:84px;background:linear-gradient(90deg,#50c8c3,#00b0a7 1px,#00d395 77px,#00d196 81px,#10d29e 82px,#bff3e5 83px)"></i>
<i style="left:543px;top:320px;width:86px;background:linear-gradient(90deg,#50c7c3,#00afa8 1px,#00d396 79px,#00cf97 84px,#70e3c5 85px)"></i>
<i style="left:542px;top:321px;width:88px;background:linear-gradient(90deg,#60cbc9,#00ada9 1px,#00d296 81px,#00d097 86px,#30d7ab 87px)"></i>
<i style="left:541px;top:322px;width:91px;background:linear-gradient(90deg,#70cfcf,#00aba9 1px,#00d296 83px,#00d097 88px,#10d19e 89px,#8fe9d2 90px)"></i>
<i style="left:540px;top:323px;width:93px;background:linear-gradient(90deg,#9fdfe0,#00a9aa 1px,#00d196 84px,#00cf98 91px,#40dab2 92px)"></i>
<i style="left:540px;top:324px;width:95px;background:linear-gradient(90deg,#10adb1,#00a8ab 1px,#00d197 86px,#00cf98 92px,#10d19e 93px,#aff0df 94px)"></i>
<i style="left:539px;top:325px;width:97px;background:linear-gradient(90deg,#60c7cc,#00a6ac 1px,#00d097 87px,#00cf98 95px,#50ddb8 96px)"></i>
<i style="left:539px;top:326px;width:98px;background:linear-gradient(90deg,#00a3ad,#00d097 88px,#00cf98 96px,#30d8ab 97px)"></i>
<i style="left:538px;top:327px;width:101px;background:linear-gradient(90deg,#8fd6dc,#00a2ae 1px,#00cf97 89px,#00cf98 99px,#80e7cc 100px)"></i>
<i style="left:538px;top:328px;width:102px;background:linear-gradient(90deg,#50bec8,#00a0ae 1px,#00ce98 88px,#00cf98 100px,#40dbb1 101px)"></i>
<i style="left:538px;top:329px;width:104px;background:linear-gradient(90deg,#10a4b5,#009faf 1px,#00ce98 89px,#00cf97 101px,#10d29e 102px,#9fedd8 103px)"></i>
<i style="left:537px;top:330px;width:106px;background:linear-gradient(90deg,#afe0e7,#009cb0 1px,#0c9 86px,#00cf97 104px,#50dfb8 105px)"></i>
<i style="left:537px;top:331px;width:108px;background:linear-gradient(90deg,#80cdd8,#009bb1 1px,#00cb9a 85px,#00d097 105px,#10d39e 106px,#bff3e5 107px)"></i>
<i style="left:537px;top:332px;width:109px;background:linear-gradient(90deg,#40b2c6,#0099b3 1px,#00c79b 78px,#00d097 107px,#70e5c5 108px)"></i>
<i style="left:537px;top:333px;width:110px;background:linear-gradient(90deg,#0096b4,#00bda0 58px,#00d097 108px,#30d9ab 109px)"></i>
<i style="left:536px;top:334px;width:113px;background:linear-gradient(90deg,#bfe4ec,#0095b4 1px,#00baa2 55px,#00d197 111px,#80e8cb 112px)"></i>
<i style="left:536px;top:335px;width:114px;background:linear-gradient(90deg,#80c9da,#0093b5 1px,#00b7a3 52px,#00d197 112px,#40dcb0 113px)"></i>
<i style="left:536px;top:336px;width:116px;background:linear-gradient(90deg,#50b3ce,#0092b6 1px,#00b6a4 52px,#00d197 113px,#10d49d 114px,#9feed8 115px)"></i>
<i style="left:536px;top:337px;width:117px;background:linear-gradient(90deg,#1096bc,#0090b7 1px,#00b2a6 46px,#00d196 115px,#50e0b7 116px)"></i>
<i style="left:535px;top:338px;width:119px;background:linear-gradient(90deg,#bfe2ed,#008eb8 1px,#00b1a6 47px,#00d296 117px,#20d8a3 118px)"></i>
<i style="left:535px;top:339px;width:120px;background:linear-gradient(90deg,#8fcce0,#008cb9 1px,#00aea8 44px,#00d196 118px,#10d59d 119px)"></i>
<i style="left:535px;top:340px;width:120px;background:linear-gradient(90deg,#50aed0,#008aba 1px,#00ada9 43px,#00d097 118px,#9feed8 119px)"></i>
<i style="left:535px;top:341px;width:119px;background:linear-gradient(90deg,#0087bb,#00aba9 42px,#00ce98 116px,#10d29e 117px,#bff3e5 118px)"></i>
<i style="left:535px;top:342px;width:118px;background:linear-gradient(90deg,#0086bc,#0aa 41px,#00cd99 115px,#10d19f 116px,#bff3e5 117px)"></i>
<i style="left:534px;top:343px;width:117px;background:linear-gradient(90deg,#9fd1e6,#0084bd 1px,#00a9ab 43px,#00cb99 115px,#10cf9f 116px)"></i>
<i style="left:534px;top:344px;width:116px;background:linear-gradient(90deg,#60b0d7,#0083be 1px,#00a7ac 42px,#00ca9a 114px,#50dbba 115px)"></i>
<i style="left:534px;top:345px;width:115px;background:linear-gradient(90deg,#1088c3,#0081bf 1px,#00a5ad 40px,#00c89b 113px,#50daba 114px)"></i>
<i style="left:534px;top:346px;width:114px;background:linear-gradient(90deg,#007ec0,#00a4ad 41px,#00c79c 112px,#60dcc1 113px)"></i>
<i style="left:533px;top:347px;width:114px;background:linear-gradient(90deg,#9fcee8,#007cc0 1px,#00a3ad 42px,#00c59c 112px,#8fe6d4 113px)"></i>
<i style="left:533px;top:348px;width:113px;background:linear-gradient(90deg,#60acd9,#007bc1 1px,#00a2ae 42px,#00c39e 110px,#10c7a3 111px,#9fe9da 112px)"></i>
<i style="left:533px;top:349px;width:112px;background:linear-gradient(90deg,#0079c3,#00a2ae 43px,#00c19e 109px,#10c6a4 110px,#bff0e7 111px)"></i>
<i style="left:533px;top:350px;width:110px;background:linear-gradient(90deg,#0076c4,#00a0af 42px,#00c09f 108px,#20c8ab 109px)"></i>
<i style="left:532px;top:351px;width:110px;background:linear-gradient(90deg,#80bae2,#0075c5 1px,#009faf 44px,#00bea0 108px,#30cbb2 109px)"></i>
<i style="left:532px;top:352px;width:109px;background:linear-gradient(90deg,#308dd0,#0074c5 1px,#009eb0 44px,#00bda1 107px,#40ceb8 108px)"></i>
<i style="left:532px;top:353px;width:108px;background:linear-gradient(90deg,#0071c6,#009db0 45px,#00bba2 106px,#50d1be 107px)"></i>
<i style="left:531px;top:354px;width:108px;background:linear-gradient(90deg,#bfdbf1,#006fc7 1px,#009cb1 45px,#00b9a2 106px,#80ddd1 107px)"></i>
<i style="left:531px;top:355px;width:107px;background:linear-gradient(90deg,#60a4dd,#006dc9 1px,#009bb2 45px,#00b8a3 105px,#8fe0d7 106px)"></i>
<i style="left:531px;top:356px;width:106px;background:linear-gradient(90deg,#207ed1,#006cc9 1px,#009bb2 47px,#00b6a4 104px,#9fe4dd 105px)"></i>
<i style="left:531px;top:357px;width:104px;background:linear-gradient(90deg,#006acb,#0099b3 46px,#00b4a5 102px,#10b9ab 103px)"></i>
<i style="left:530px;top:358px;width:104px;background:linear-gradient(90deg,#9fc6ec,#0068cb 1px,#0099b3 49px,#00b2a6 102px,#30c1b6 103px)"></i>
<i style="left:530px;top:359px;width:103px;background:linear-gradient(90deg,#408cd9,#06c 1px,#0097b4 48px,#00b0a7 101px,#30c0b7 102px)"></i>
<i style="left:530px;top:360px;width:102px;background:linear-gradient(90deg,#0064cd,#0096b4 48px,#00afa8 100px,#40c3bd 101px)"></i>
<i style="left:529px;top:361px;width:102px;background:linear-gradient(90deg,#8fbaea,#0062ce 1px,#0095b5 49px,#00ada8 100px,#60ccc9 101px)"></i>
<i style="left:529px;top:362px;width:101px;background:linear-gradient(90deg,#5091de,#0060cf 1px,#0093b5 49px,#00aca9 99px,#70d1cf 100px)"></i>
<i style="left:529px;top:363px;width:100px;background:linear-gradient(90deg,#1068d3,#005fd0 1px,#0093b6 50px,#0aa 98px,#9fe0df 99px)"></i>
<i style="left:528px;top:364px;width:100px;background:linear-gradient(90deg,#9fc2ee,#005cd1 1px,#0091b7 50px,#00a9ab 98px,#bfeaea 99px)"></i>
<i style="left:528px;top:365px;width:99px;background:linear-gradient(90deg,#508ee0,#005bd2 1px,#0090b7 51px,#00a6ac 96px,#20b2b6 97px,#bfe9ea 98px)"></i>
<i style="left:528px;top:366px;width:97px;background:linear-gradient(90deg,#1063d6,#005ad2 1px,#0090b7 52px,#00a5ad 95px,#20b1b7 96px)"></i>
<i style="left:527px;top:367px;width:97px;background:linear-gradient(90deg,#8fb5ec,#0057d3 1px,#008fb8 53px,#00a3ad 95px,#30b5bc 96px)"></i>
<i style="left:527px;top:368px;width:96px;background:linear-gradient(90deg,#407fdf,#0055d4 1px,#008eb8 53px,#00a2ae 94px,#60c5cc 95px)"></i>
<i style="left:527px;top:369px;width:95px;background:linear-gradient(90deg,#0053d5,#008db9 54px,#00a0af 93px,#60c4cd 94px)"></i>
<i style="left:526px;top:370px;width:95px;background:linear-gradient(90deg,#6092e6,#0052d6 1px,#008bba 54px,#009fb0 93px,#80cfd7 94px)"></i>
<i style="left:526px;top:371px;width:94px;background:linear-gradient(90deg,#105ada,#0051d7 1px,#008bba 56px,#009db1 91px,#10a3b6 92px,#afe1e6 93px)"></i>
<i style="left:525px;top:372px;width:94px;background:linear-gradient(90deg,#8fb1ee,#004ed8 1px,#0089ba 56px,#009bb2 91px,#10a2b6 92px,#afe0e7 93px)"></i>
<i style="left:525px;top:373px;width:93px;background:linear-gradient(90deg,#2062de,#004dd9 1px,#08b 56px,#0099b2 90px,#10a0b7 91px,#bfe6ec 92px)"></i>
<i style="left:524px;top:374px;width:92px;background:linear-gradient(90deg,#9fbbf1,#004ada 1px,#0087bb 58px,#0097b3 90px,#20a5bc 91px)"></i>
<i style="left:524px;top:375px;width:91px;background:linear-gradient(90deg,#4076e4,#0049db 1px,#0086bc 58px,#0095b4 89px,#40b0c7 90px)"></i>
<i style="left:523px;top:376px;width:91px;background:linear-gradient(90deg,#9fb9f2,#0047dc 1px,#0085bd 59px,#0094b5 89px,#50b6cc 90px)"></i>
<i style="left:523px;top:377px;width:90px;background:linear-gradient(90deg,#1050df,#0045dd 1px,#0084bd 59px,#0092b6 88px,#80c9da 89px)"></i>
<i style="left:522px;top:378px;width:90px;background:linear-gradient(90deg,#6089ea,#0043de 1px,#0083be 61px,#0091b7 88px,#8fcfdf 89px)"></i>
<i style="left:522px;top:379px;width:89px;background:linear-gradient(90deg,#0041df,#0082be 61px,#008fb8 86px,#1096bc 87px,#8fcfe0 88px)"></i>
<i style="left:521px;top:380px;width:89px;background:linear-gradient(90deg,#3063e6,#0040df 1px,#0081bf 62px,#008db8 86px,#1095bc 87px,#bfe3ed 88px)"></i>
<i style="left:520px;top:381px;width:88px;background:linear-gradient(90deg,#7092ee,#003de0 1px,#0081bf 65px,#008cb9 86px,#30a2c6 87px)"></i>
<i style="left:520px;top:382px;width:87px;background:linear-gradient(90deg,#003be1,#0080bf 65px,#008aba 85px,#30a0c7 86px)"></i>
<i style="left:519px;top:383px;width:87px;background:linear-gradient(90deg,#2052e6,#003ae2 1px,#007fc0 66px,#08b 85px,#309fc7 86px)"></i>
<i style="left:518px;top:384px;width:87px;background:linear-gradient(90deg,#5076ec,#0038e3 1px,#007ec0 68px,#0087bc 85px,#60b4d5 86px)"></i>
<i style="left:517px;top:385px;width:87px;background:linear-gradient(90deg,#809af2,#0036e4 1px,#007dc1 69px,#0085bc 85px,#80c3de 86px)"></i>
<i style="left:516px;top:386px;width:87px;background:linear-gradient(90deg,#bfccf9,#1041e7 1px,#0035e4 2px,#007cc1 70px,#0084bd 85px,#8fc9e2 86px)"></i>
<i style="left:516px;top:387px;width:86px;background:linear-gradient(90deg,#204ce9,#0033e5 1px,#007bc2 71px,#0082be 84px,#bfe0ef 85px)"></i>
<i style="left:515px;top:388px;width:85px;background:linear-gradient(90deg,#4064ed,#0031e6 1px,#007ac2 72px,#0080bf 83px,#1088c3 84px)"></i>
<i style="left:514px;top:389px;width:85px;background:linear-gradient(90deg,#5070ef,#002fe7 1px,#0079c3 73px,#007ec0 83px,#208fc8 84px)"></i>
<i style="left:513px;top:390px;width:85px;background:linear-gradient(90deg,#607cf1,#002ee8 1px,#0078c3 75px,#007cc1 83px,#3095cc 84px)"></i>
<i style="left:512px;top:391px;width:85px;background:linear-gradient(90deg,#607af2,#002ce9 1px,#0077c3 76px,#007bc2 83px,#50a4d4 84px)"></i>
<i style="left:511px;top:392px;width:85px;background:linear-gradient(90deg,#506cf1,#002aea 1px,#0077c4 78px,#0079c2 83px,#70b4dd 84px)"></i>
<i style="left:510px;top:393px;width:85px;background:linear-gradient(90deg,#506bf1,#0028eb 1px,#0075c4 79px,#0078c3 83px,#80bce1 84px)"></i>
<i style="left:509px;top:394px;width:85px;background:linear-gradient(90deg,#6077f3,#0027ec 1px,#0075c5 81px,#0076c4 83px,#9fcce9 84px)"></i>
<i style="left:508px;top:395px;width:85px;background:linear-gradient(90deg,#5068f3,#0025ed 1px,#0073c5 81px,#0074c5 82px,#107dc9 83px,#bfddf0 84px)"></i>
<i style="left:507px;top:396px;width:85px;background:linear-gradient(90deg,#6075f4,#0023ed 1px,#0072c6 82px,#107cc9 83px,#bfdcf1 84px)"></i>
<i style="left:506px;top:397px;width:84px;background:linear-gradient(90deg,#8f9ef8,#02e 1px,#0070c7 82px,#107aca 83px)"></i>
<i style="left:506px;top:398px;width:83px;background:linear-gradient(90deg,#0020ef,#006fc8 81px,#509cd9 82px)"></i>
<i style="left:505px;top:399px;width:83px;background:linear-gradient(90deg,#203af2,#001ff0 1px,#006dc8 81px,#509bd9 82px)"></i>
<i style="left:504px;top:400px;width:83px;background:linear-gradient(90deg,#6071f6,#001cf1 1px,#006cc9 81px,#509ada 82px)"></i>
<i style="left:504px;top:401px;width:82px;background:linear-gradient(90deg,#001af2,#006aca 80px,#8fbee8 81px)"></i>
<i style="left:503px;top:402px;width:82px;background:linear-gradient(90deg,#5060f7,#0019f3 1px,#0068cb 79px,#1072ce 80px,#9fc7eb 81px)"></i>
<i style="left:503px;top:403px;width:81px;background:linear-gradient(90deg,#0017f4,#06c 78px,#1070cf 79px,#bfd9f2 80px)"></i>
<i style="left:502px;top:404px;width:80px;background:linear-gradient(90deg,#606cf9,#0015f4 1px,#0065cd 78px,#106fd0 79px)"></i>
<i style="left:502px;top:405px;width:79px;background:linear-gradient(90deg,#0013f6,#0063ce 77px,#3081d6 78px)"></i>
<i style="left:501px;top:406px;width:79px;background:linear-gradient(90deg,#7079fa,#0011f6 1px,#0061ce 77px,#4089da 78px)"></i>
<i style="left:501px;top:407px;width:78px;background:linear-gradient(90deg,#101ef8,#0010f7 1px,#0060cf 76px,#5092de 77px)"></i>
<i style="left:500px;top:408px;width:78px;background:linear-gradient(90deg,#8f95fc,#000ef8 1px,#005ed0 76px,#609be2 77px)"></i>
<i style="left:500px;top:409px;width:77px;background:linear-gradient(90deg,#3039fa,#000cf9 1px,#005cd1 75px,#8fb8eb 76px)"></i>
<i style="left:499px;top:410px;width:77px;background:linear-gradient(90deg,#bfc1fe,#000afa 1px,#005bd2 75px,#9fc2ee 76px)"></i>
<i style="left:499px;top:411px;width:75px;background:linear-gradient(90deg,#4045fc,#0008fb 1px,#0058d3 73px,#1064d5 74px)"></i>
<i style="left:499px;top:412px;width:74px;background:linear-gradient(90deg,#0006fc,#0057d4 72px,#3077db 73px)"></i>
<i style="left:498px;top:413px;width:74px;background:linear-gradient(90deg,#6062fe,#0005fd 1px,#0055d4 72px,#3076dc 73px)"></i>
<i style="left:498px;top:414px;width:73px;background:linear-gradient(90deg,#0002fe,#0054d5 71px,#407fdf 72px)"></i>
<i style="left:498px;top:415px;width:72px;background:linear-gradient(90deg,#5051ff,#0002fe 1px,#0052d6 70px,#6094e5 71px)"></i>
<i style="left:499px;top:416px;width:70px;background:linear-gradient(90deg,#1011fe,#0003fe 1px,#0050d7 68px,#709de8 69px)"></i>
<i style="left:499px;top:417px;width:69px;background:linear-gradient(90deg,#bfc0ff,#1012fe 1px,#0003fe 2px,#004fd8 67px,#9fbdf0 68px)"></i>
<i style="left:500px;top:418px;width:67px;background:linear-gradient(90deg,#9fa0ff,#2022fe 1px,#0004fd 2px,#004dd8 65px,#bfd3f5 66px)"></i>
<i style="left:501px;top:419px;width:65px;background:linear-gradient(90deg,#7070fe,#0002fe 1px,#004bda 62px,#2062de 63px,#bfd2f5 64px)"></i>
<i style="left:502px;top:420px;width:62px;background:linear-gradient(90deg,#4041fe,#0003fe 1px,#0049da 60px,#2061df 61px)"></i>
<i style="left:502px;top:421px;width:61px;background:linear-gradient(90deg,#9fa0ff,#0002fe 1px,#0048db 59px,#306be2 60px)"></i>
<i style="left:503px;top:422px;width:59px;background:linear-gradient(90deg,#8080ff,#0002fe 1px,#0046dc 57px,#608ce9 58px)"></i>
<i style="left:504px;top:423px;width:57px;background:linear-gradient(90deg,#1011fe,#0003fe 1px,#0045dd 55px,#608be9 56px)"></i>
<i style="left:504px;top:424px;width:56px;background:linear-gradient(90deg,#8080ff,#0002fe 1px,#0043de 54px,#80a1ee 55px)"></i>
<i style="left:505px;top:425px;width:54px;background:linear-gradient(90deg,#6060fe,#0002fe 1px,#0040df 51px,#104de0 52px,#afc4f5 53px)"></i>
<i style="left:506px;top:426px;width:52px;background:linear-gradient(90deg,#1012fe,#0003fe 1px,#003fe0 49px,#104ce1 50px,#afc4f5 51px)"></i>
<i style="left:506px;top:427px;width:51px;background:linear-gradient(90deg,#6060ff,#0002fe 1px,#003de0 48px,#104ae2 49px,#bfcff7 50px)"></i>
<i style="left:507px;top:428px;width:48px;background:linear-gradient(90deg,#1012fe,#0003fe 1px,#003ce1 46px,#2055e5 47px)"></i>
<i style="left:507px;top:429px;width:47px;background:linear-gradient(90deg,#7070ff,#0002fe 1px,#003ae2 45px,#406ce9 46px)"></i>
<i style="left:508px;top:430px;width:45px;background:linear-gradient(90deg,#0001fe,#0039e3 43px,#5077eb 44px)"></i>
<i style="left:508px;top:431px;width:44px;background:linear-gradient(90deg,#6060ff,#0002fe 1px,#0037e4 42px,#6083ed 43px)"></i>
<i style="left:508px;top:432px;width:43px;background:linear-gradient(90deg,#afb0ff,#0002fe 1px,#0036e4 41px,#8fa7f3 42px)"></i>
<i style="left:509px;top:433px;width:41px;background:linear-gradient(90deg,#3031fe,#0002fe 1px,#0033e6 38px,#1041e7 39px,#8fa6f4 40px)"></i>
<i style="left:509px;top:434px;width:40px;background:linear-gradient(90deg,#8080ff,#0002fe 1px,#0031e6 37px,#103fe7 38px,#bfccf9 39px)"></i>
<i style="left:510px;top:435px;width:37px;background:linear-gradient(90deg,#1011fe,#0003fe 1px,#0030e7 35px,#103ee8 36px)"></i>
<i style="left:510px;top:436px;width:36px;background:linear-gradient(90deg,#2021ff,#0002fe 1px,#002ee8 34px,#3056ec 35px)"></i>
<i style="left:510px;top:437px;width:35px;background:linear-gradient(90deg,#9fa0ff,#0002fe 1px,#002de9 33px,#3055ec 34px)"></i>
<i style="left:511px;top:438px;width:33px;background:linear-gradient(90deg,#0001fe,#002bea 31px,#607bf1 32px)"></i>
<i style="left:511px;top:439px;width:32px;background:linear-gradient(90deg,#3031fe,#0002fe 1px,#002aea 30px,#8095f4 31px)"></i>
<i style="left:511px;top:440px;width:31px;background:linear-gradient(90deg,#6060ff,#0002fe 1px,#0028eb 29px,#8094f5 30px)"></i>
<i style="left:511px;top:441px;width:30px;background:linear-gradient(90deg,#8080ff,#0002fe 1px,#0027ec 28px,#9faef8 29px)"></i>
<i style="left:512px;top:442px;width:27px;background:linear-gradient(90deg,#0002fe,#0024ed 25px,#1033ee 26px)"></i>
<i style="left:512px;top:443px;width:26px;background:linear-gradient(90deg,#0001fe,#02e 24px,#203fef 25px)"></i>
<i style="left:512px;top:444px;width:25px;background:linear-gradient(90deg,#2021ff,#0002fe 1px,#0020ef 23px,#304bf1 24px)"></i>
<i style="left:512px;top:445px;width:24px;background:linear-gradient(90deg,#4041ff,#0002fe 1px,#001ff0 22px,#5066f4 23px)"></i>
<i style="left:512px;top:446px;width:23px;background:linear-gradient(90deg,#6060ff,#0002fe 1px,#001df0 21px,#7081f6 22px)"></i>
<i style="left:512px;top:447px;width:22px;background:linear-gradient(90deg,#bfc0ff,#0002fe 1px,#001cf1 20px,#808ef8 21px)"></i>
<i style="left:512px;top:448px;width:21px;background:linear-gradient(90deg,#afb0ff,#0002fe 1px,#001af2 19px,#9faafa 20px)"></i>
<i style="left:513px;top:449px;width:19px;background:linear-gradient(90deg,#0002fe,#0018f3 16px,#1027f3 17px,#bfc6fc 18px)"></i>
<i style="left:513px;top:450px;width:18px;background:linear-gradient(90deg,#2021fe,#0003fe 1px,#0016f4 15px,#1026f4 16px,#bfc5fc 17px)"></i>
<i style="left:513px;top:451px;width:16px;background:linear-gradient(90deg,#1011ff,#0002fe 1px,#0015f5 14px,#1025f5 15px)"></i>
<i style="left:513px;top:452px;width:15px;background:linear-gradient(90deg,#4041ff,#0002fe 1px,#0013f5 13px,#505ef8 14px)"></i>
<i style="left:513px;top:453px;width:14px;background:linear-gradient(90deg,#5050ff,#0002fe 1px,#0012f6 12px,#505df8 13px)"></i>
<i style="left:513px;top:454px;width:13px;background:linear-gradient(90deg,#6060ff,#0002fe 1px,#0010f7 11px,#505cf9 12px)"></i>
<i style="left:513px;top:455px;width:12px;background:linear-gradient(90deg,#5050ff,#0002fe 1px,#000ff8 10px,#8f96fc 11px)"></i>
<i style="left:513px;top:456px;width:11px;background:linear-gradient(90deg,#5050ff,#0002fe 1px,#000cf9 8px,#101cf9 9px,#9fa5fc 10px)"></i>
<i style="left:513px;top:457px;width:10px;background:linear-gradient(90deg,#6060ff,#0002fe 1px,#000afa 7px,#101bfa 8px,#bfc2fe 9px)"></i>
<i style="left:514px;top:458px;width:7px;background:linear-gradient(90deg,#0001fe,#0008fb 5px,#1019fa 6px)"></i>
<i style="left:514px;top:459px;width:6px;background:linear-gradient(90deg,#0001fe,#0007fc 4px,#3037fc 5px)"></i>
<i style="left:514px;top:460px;width:5px;background:linear-gradient(90deg,#1011fe,#0003fe 1px,#0006fc 3px,#4045fd 4px)"></i>
<i style="left:514px;top:461px;width:4px;background:linear-gradient(90deg,#0001fe,#0004fd 2px,#5053fd 3px)"></i>
<i style="left:514px;top:462px;width:3px;background:linear-gradient(90deg,#1011fe,#0003fe 1px,#6062fe 2px)"></i>
<i style="left:514px;top:463px;width:2px;background:linear-gradient(90deg,#1011fe,#8f90ff 1px)"></i>
<i style="left:514px;top:464px;width:1px;background:#bfc0ff"></i>
<i style="left:58px;top:565px;width:211px;background:linear-gradient(90deg,#000080,#000081 101px,#0000d2 102px,#81ff7e 103px,#81ff7e 107px,#ff6f00 108px,#d50000 109px,#ac0000 110px,#900000 112px,#810000 121px,#800000 210px)"></i>
<i style="left:58px;top:566px;width:211px;background:linear-gradient(90deg,#000080,#000081 100px,#00beff 101px,#81ff7e 102px,#81ff7e 109px,#d20000 110px,#a50000 111px,#800 114px,#810000 137px,#800000 210px)"></i>
<i style="left:58px;top:567px;width:211px;background:linear-gradient(90deg,#000080,#000081 99px,#00c0ff 100px,#5affa5 101px,#81ff7e 102px,#81ff7e 110px,#c80000 111px,#9f0000 112px,#8b0000 114px,#810000 128px,#800000 210px)"></i>
<i style="left:58px;top:568px;width:211px;background:linear-gradient(90deg,#000080,#000081 98px,#0081ff 99px,#34ffcb 100px,#6cff93 101px,#81ff7e 102px,#81ff7e 111px,#b60000 112px,#980000 113px,#830000 117px,#800000 210px)"></i>
<i style="left:58px;top:569px;width:211px;background:linear-gradient(90deg,#000080,#000081 97px,#05f 98px,#01fffe 99px,#50ffaf 100px,#71ff8e 101px,#81ff7e 102px,#81ff7e 112px,#a70000 113px,#930000 114px,#830000 118px,#800000 210px)"></i>
<i style="left:58px;top:570px;width:211px;background:linear-gradient(90deg,#000080,#000081 96px,#0098ff 97px,#00e4ff 98px,#2cffd3 99px,#5dffa2 100px,#76ff89 101px,#81ff7e 103px,#81ff7e 113px,#9a0000 114px,#860000 117px,#800000 210px)"></i>
<i style="left:58px;top:571px;width:211px;background:linear-gradient(90deg,#000080,#000081 96px,#1dffe2 97px,#18ffe7 98px,#64ff9b 100px,#81ff7e 102px,#81ff7e 113px,#b90000 114px,#930000 115px,#830000 119px,#800000 210px)"></i>
<i style="left:58px;top:572px;width:211px;background:linear-gradient(90deg,#000080,#000081 95px,#27ffd8 96px,#3effc1 97px,#32ffcd 98px,#6aff95 100px,#81ff7e 102px,#81ff7e 114px,#9d0000 115px,#800 117px,#810000 135px,#800000 210px)"></i>
<i style="left:58px;top:573px;width:211px;background:linear-gradient(90deg,#000080,#000081 94px,#06fff9 95px,#49ffb6 96px,#50ffaf 97px,#41ffbe 98px,#79ff86 101px,#81ff7e 105px,#81ff7e 115px,#900000 116px,#810000 122px,#800000 210px)"></i>
<i style="left:58px;top:574px;width:211px;background:linear-gradient(90deg,#000080,#000081 94px,#4bffb4 95px,#5affa5 97px,#4effb1 98px,#7bff84 101px,#81ff7e 115px,#9d0000 116px,#8b0000 117px,#810000 126px,#800000 210px)"></i>
<i style="left:58px;top:575px;width:211px;background:linear-gradient(90deg,#000080,#000081 93px,#3cffc3 94px,#5affa5 95px,#60ff9f 97px,#5fa 98px,#7bff84 101px,#81ff7e 116px,#900000 117px,#810000 123px,#800000 210px)"></i>
<i style="left:58px;top:576px;width:211px;background:linear-gradient(90deg,#000080,#000081 93px,#5affa5 94px,#67ff98 96px,#5affa5 98px,#7bff84 101px,#81ff7e 116px,#9a0000 117px,#890000 118px,#810000 136px,#800000 210px)"></i>
<i style="left:58px;top:577px;width:211px;background:linear-gradient(90deg,#000080,#000081 92px,#4effb1 93px,#65ff9a 94px,#67ff98 97px,#60ff9f 98px,#80ff7f 102px,#81ff7e 117px,#8e0000 118px,#810000 124px,#800000 210px)"></i>
<i style="left:58px;top:578px;width:211px;background:linear-gradient(90deg,#000080,#000081 92px,#62ff9d 93px,#6cff93 97px,#62ff9d 98px,#80ff7f 102px,#81ff7e 117px,#980000 118px,#830000 120px,#800000 210px)"></i>
<i style="left:58px;top:579px;width:211px;background:linear-gradient(90deg,#000080,#000081 91px,#53ffac 92px,#6aff95 93px,#6cff93 97px,#65ff9a 98px,#80ff7f 102px,#81ff7e 118px,#8b0000 119px,#810000 128px,#800000 210px)"></i>
<i style="left:58px;top:580px;width:211px;background:linear-gradient(90deg,#000080,#000081 91px,#67ff98 92px,#71ff8e 96px,#67ff98 98px,#80ff7f 102px,#81ff7e 118px,#900000 119px,#830000 122px,#800000 210px)"></i>
<i style="left:58px;top:581px;width:211px;background:linear-gradient(90deg,#000080,#000081 90px,#50ffaf 91px,#6cff93 92px,#71ff8e 97px,#6cff93 99px,#80ff7f 102px,#81ff7e 119px,#890000 120px,#810000 133px,#800000 210px)"></i>
<i style="left:58px;top:582px;width:211px;background:linear-gradient(90deg,#000080,#000081 90px,#67ff98 91px,#74ff8b 94px,#6fff90 99px,#80ff7f 102px,#81ff7e 119px,#8b0000 120px,#810000 127px,#800000 210px)"></i>
<i style="left:58px;top:583px;width:211px;background:linear-gradient(90deg,#000080,#000081 90px,#6fff90 91px,#74ff8b 97px,#6fff90 99px,#80ff7f 102px,#81ff7e 119px,#9d0000 120px,#860000 121px,#800000 210px)"></i>
<i style="left:58px;top:584px;width:211px;background:linear-gradient(90deg,#000080,#000081 89px,#67ff98 90px,#7f8 93px,#71ff8e 99px,#80ff7f 103px,#81ff7e 120px,#890000 121px,#810000 134px,#800000 210px)"></i>
<i style="left:58px;top:585px;width:211px;background:linear-gradient(90deg,#000080,#000081 89px,#6fff90 90px,#7f8 96px,#71ff8e 99px,#80ff7f 103px,#81ff7e 120px,#8e0000 121px,#810000 126px,#800000 210px)"></i>
<i style="left:58px;top:586px;width:211px;background:linear-gradient(90deg,#000080,#000081 88px,#62ff9d 89px,#74ff8b 90px,#7f8 97px,#71ff8e 99px,#80ff7f 103px,#81ff7e 121px,#860000 122px,#800000 210px)"></i>
<i style="left:58px;top:587px;width:211px;background:linear-gradient(90deg,#000080,#000081 88px,#6fff90 89px,#79ff86 93px,#74ff8b 99px,#80ff7f 104px,#81ff7e 121px,#890000 122px,#810000 131px,#800000 210px)"></i>
<i style="left:58px;top:588px;width:211px;background:linear-gradient(90deg,#000080,#000081 88px,#74ff8b 89px,#74ff8b 99px,#80ff7f 104px,#81ff7e 121px,#900000 122px,#830000 123px,#800000 210px)"></i>
<i style="left:58px;top:589px;width:211px;background:linear-gradient(90deg,#000080,#000081 87px,#6cff93 88px,#79ff86 91px,#74ff8b 99px,#80ff7f 104px,#81ff7e 122px,#860000 123px,#800000 210px)"></i>
<i style="left:58px;top:590px;width:211px;background:linear-gradient(90deg,#000080,#000081 87px,#74ff8b 88px,#79ff86 97px,#74ff8b 99px,#80ff7f 104px,#81ff7e 122px,#890000 123px,#810000 132px,#800000 210px)"></i>
<i style="left:58px;top:591px;width:211px;background:linear-gradient(90deg,#000080,#000081 87px,#76ff89 88px,#79ff86 97px,#74ff8b 99px,#80ff7f 104px,#81ff7e 122px,#930000 123px,#830000 124px,#800000 210px)"></i>
<i style="left:58px;top:592px;width:211px;background:linear-gradient(90deg,#000080,#000081 86px,#71ff8e 87px,#7cff83 93px,#74ff8b 99px,#80ff7f 104px,#81ff7e 123px,#860000 124px,#800000 210px)"></i>
<i style="left:58px;top:593px;width:211px;background:linear-gradient(90deg,#000080,#000081 86px,#76ff89 87px,#7bff84 100px,#81ff7e 123px,#860000 124px,#800000 210px)"></i>
<i style="left:58px;top:594px;width:211px;background:linear-gradient(90deg,#000080,#000081 86px,#76ff89 87px,#7bff84 100px,#81ff7e 123px,#900000 124px,#810000 126px,#800000 210px)"></i>
<i style="left:58px;top:595px;width:211px;background:linear-gradient(90deg,#000080,#000081 85px,#74ff8b 86px,#7cff83 95px,#7bff84 100px,#81ff7e 124px,#830000 125px,#800000 210px)"></i>
<i style="left:58px;top:596px;width:211px;background:linear-gradient(90deg,#000080,#000081 85px,#76ff89 86px,#7bff84 100px,#81ff7e 124px,#860000 125px,#800000 210px)"></i>
<i style="left:58px;top:597px;width:211px;background:linear-gradient(90deg,#000080,#000081 85px,#79ff86 86px,#7bff84 100px,#81ff7e 124px,#8b0000 125px,#810000 129px,#800000 210px)"></i>
<i style="left:58px;top:598px;width:211px;background:linear-gradient(90deg,#000080,#000081 84px,#74ff8b 85px,#7cff83 94px,#7bff84 100px,#81ff7e 125px,#830000 126px,#800000 210px)"></i>
<i style="left:58px;top:599px;width:211px;background:linear-gradient(90deg,#000080,#000081 84px,#79ff86 85px,#7bff84 100px,#81ff7e 125px,#830000 126px,#800000 210px)"></i>
<i style="left:58px;top:600px;width:211px;background:linear-gradient(90deg,#000080,#000081 84px,#79ff86 85px,#79ff86 98px,#81ff7e 122px,#81ff7e 125px,#890000 126px,#810000 130px,#800000 210px)"></i>
<i style="left:58px;top:601px;width:211px;background:linear-gradient(90deg,#000080,#000081 83px,#74ff8b 84px,#7eff81 90px,#7bff84 100px,#81ff7e 126px,#830000 127px,#800000 210px)"></i>
<i style="left:58px;top:602px;width:211px;background:linear-gradient(90deg,#000080,#000081 83px,#79ff86 84px,#79ff86 98px,#81ff7e 123px,#81ff7e 126px,#830000 127px,#800000 210px)"></i>
<i style="left:58px;top:603px;width:211px;background:linear-gradient(90deg,#000080,#000081 83px,#79ff86 84px,#79ff86 98px,#81ff7e 123px,#81ff7e 126px,#860000 127px,#800000 210px)"></i>
<i style="left:58px;top:604px;width:211px;background:linear-gradient(90deg,#000080,#000081 82px,#71ff8e 83px,#7eff81 86px,#76ff89 99px,#80ff7f 105px,#81ff7e 127px,#810000 128px,#800000 210px)"></i>
<i style="left:58px;top:605px;width:211px;background:linear-gradient(90deg,#000080,#000081 82px,#79ff86 83px,#7cff83 98px,#76ff89 99px,#80ff7f 105px,#81ff7e 127px,#810000 128px,#800000 210px)"></i>
<i style="left:58px;top:606px;width:211px;background:linear-gradient(90deg,#000080,#000081 82px,#7cff83 83px,#7cff83 98px,#76ff89 99px,#80ff7f 105px,#81ff7e 127px,#830000 128px,#800000 210px)"></i>
<i style="left:58px;top:607px;width:211px;background:linear-gradient(90deg,#000080,#000081 82px,#7cff83 83px,#7cff83 98px,#76ff89 99px,#80ff7f 105px,#81ff7e 127px,#860000 128px,#800000 210px)"></i>
<i style="left:58px;top:608px;width:211px;background:linear-gradient(90deg,#000080,#000081 81px,#79ff86 82px,#7cff83 98px,#76ff89 99px,#80ff7f 105px,#81ff7e 128px,#810000 129px,#800000 210px)"></i>
<i style="left:58px;top:609px;width:211px;background:linear-gradient(90deg,#000080,#000081 81px,#7cff83 82px,#7cff83 98px,#76ff89 99px,#80ff7f 105px,#81ff7e 128px,#810000 129px,#800000 210px)"></i>
<i style="left:58px;top:610px;width:211px;background:linear-gradient(90deg,#000080,#000081 81px,#7cff83 82px,#7cff83 98px,#76ff89 99px,#80ff7f 105px,#81ff7e 128px,#830000 129px,#800000 210px)"></i>
<i style="left:58px;top:611px;width:211px;background:linear-gradient(90deg,#000080,#000081 81px,#7cff83 82px,#7cff83 98px,#76ff89 99px,#80ff7f 105px,#81ff7e 128px,#890000 129px,#810000 133px,#800000 210px)"></i>
<i style="left:58px;top:612px;width:211px;background:linear-gradient(90deg,#000080,#000081 80px,#7cff83 81px,#7cff83 98px,#76ff89 99px,#80ff7f 103px,#81ff7e 129px,#810000 130px,#800000 210px)"></i>
<i style="left:58px;top:613px;width:211px;background:linear-gradient(90deg,#000080,#000081 80px,#7cff83 81px,#7cff83 98px,#6fff90 99px,#7eff81 100px,#81ff7e 129px,#810000 130px,#800000 210px)"></i>
<i style="left:58px;top:614px;width:211px;background:linear-gradient(90deg,#000080,#000081 80px,#7cff83 81px,#7cff83 98px,#74ff8b 99px,#80ff7f 102px,#81ff7e 129px,#810000 130px,#800000 210px)"></i>
<i style="left:58px;top:615px;width:211px;background:linear-gradient(90deg,#000080,#000081 79px,#79ff86 80px,#7cff83 98px,#7f8 99px,#80ff7f 104px,#81ff7e 130px,#810000 131px,#800000 210px)"></i>
<i style="left:58px;top:616px;width:211px;background:linear-gradient(90deg,#000080,#000081 79px,#7cff83 80px,#7cff83 98px,#7f8 99px,#80ff7f 104px,#81ff7e 130px,#810000 131px,#800000 210px)"></i>
<i style="left:58px;top:617px;width:211px;background:linear-gradient(90deg,#000080,#000081 79px,#7cff83 80px,#7eff81 100px,#81ff7e 130px,#810000 131px,#800000 210px)"></i>
<i style="left:58px;top:618px;width:211px;background:linear-gradient(90deg,#000080,#000081 79px,#7eff81 80px,#7eff81 100px,#81ff7e 130px,#810000 131px,#800000 210px)"></i>
<i style="left:58px;top:619px;width:211px;background:linear-gradient(90deg,#000080,#000081 78px,#7cff83 79px,#7eff81 100px,#83ff7c 131px,#810000 132px,#800000 210px)"></i>
<i style="left:58px;top:620px;width:211px;background:linear-gradient(90deg,#000080,#000081 78px,#7cff83 79px,#7eff81 100px,#81ff7e 131px,#810000 132px,#800000 210px)"></i>
<i style="left:58px;top:621px;width:211px;background:linear-gradient(90deg,#000080,#000081 78px,#7eff81 79px,#7eff81 100px,#81ff7e 131px,#810000 132px,#800000 210px)"></i>
<i style="left:58px;top:622px;width:211px;background:linear-gradient(90deg,#000080,#000081 78px,#7eff81 79px,#81ff7e 131px,#810000 132px,#800000 210px)"></i>
<i style="left:58px;top:623px;width:211px;background:linear-gradient(90deg,#000080,#000081 77px,#7cff83 78px,#83ff7c 132px,#810000 133px,#800000 210px)"></i>
<i style="left:58px;top:624px;width:211px;background:linear-gradient(90deg,#000080,#000081 77px,#7eff81 78px,#83ff7c 132px,#810000 133px,#800000 210px)"></i>
<i style="left:58px;top:625px;width:211px;height:2px;background:linear-gradient(90deg,#000080,#000081 77px,#7eff81 78px,#81ff7e 132px,#810000 133px,#800000 210px)"></i>
<i style="left:58px;top:627px;width:211px;background:linear-gradient(90deg,#000080,#000081 76px,#7cff83 77px,#86ff79 133px,#810000 134px,#800000 210px)"></i>
<i style="left:58px;top:628px;width:211px;height:2px;background:linear-gradient(90deg,#000080,#000081 76px,#7eff81 77px,#83ff7c 133px,#810000 134px,#800000 210px)"></i>
<i style="left:58px;top:630px;width:211px;background:linear-gradient(90deg,#000080,#000083 76px,#7eff81 77px,#81ff7e 133px,#830000 134px,#800000 210px)"></i>
<i style="left:58px;top:631px;width:211px;background:linear-gradient(90deg,#000080,#000081 75px,#008 76px,#7eff81 77px,#81ff7e 133px,#890000 134px,#810000 138px,#800000 210px)"></i>
<i style="left:58px;top:632px;width:211px;background:linear-gradient(90deg,#000080,#000081 75px,#79ff86 76px,#86ff79 134px,#810000 135px,#800000 210px)"></i>
<i style="left:58px;top:633px;width:211px;background:linear-gradient(90deg,#000080,#000083 75px,#79ff86 76px,#86ff79 134px,#830000 135px,#800000 210px)"></i>
<i style="left:58px;top:634px;width:211px;background:linear-gradient(90deg,#000080,#000086 75px,#79ff86 76px,#83ff7c 134px,#860000 135px,#800000 210px)"></i>
<i style="left:58px;top:635px;width:211px;background:linear-gradient(90deg,#000080,#000081 74px,#000093 75px,#74ff8b 76px,#7eff81 83px,#81ff7e 134px,#950000 135px,#810000 136px,#800000 210px)"></i>
<i style="left:58px;top:636px;width:211px;background:linear-gradient(90deg,#000080,#000081 74px,#34ffcb 75px,#0081ff 76px,#0081ff 78px,#74ff8b 79px,#7eff81 81px,#81ff7e 131px,#ff8e00 132px,#ff9d00 133px,#ff9000 134px,#cdff32 135px,#860000 136px,#800000 210px)"></i>
<i style="left:58px;top:637px;width:211px;background:linear-gradient(90deg,#000080,#000081 73px,#00008d 74px,#0081ff 75px,#0081ff 79px,#76ff89 80px,#7eff81 84px,#81ff7e 130px,#ff8600 131px,#ff8900 134px,#ff7e00 135px,#9a0000 136px,#810000 137px,#800000 210px)"></i>
<i style="left:58px;top:638px;width:211px;background:linear-gradient(90deg,#000080,#000081 73px,#0081ff 74px,#0081ff 80px,#7eff81 81px,#81ff7e 129px,#ff8300 130px,#ff8900 134px,#ff7e00 136px,#830000 137px,#800000 210px)"></i>
<i style="left:58px;top:639px;width:211px;background:linear-gradient(90deg,#000080,#000081 72px,#0074ff 73px,#0081ff 74px,#0081ff 81px,#7eff81 82px,#81ff7e 128px,#ff8600 129px,#ff8300 133px,#ff8e00 134px,#ff7e00 135px,#ff7e00 137px,#810000 138px,#800000 210px)"></i>
<i style="left:58px;top:640px;width:211px;background:linear-gradient(90deg,#000080,#000081 72px,#007eff 73px,#0081ff 81px,#7eff81 82px,#81ff7e 128px,#ff8300 129px,#ff8600 134px,#ff7e00 137px,#810000 138px,#800000 210px)"></i>
<i style="left:58px;top:641px;width:211px;background:linear-gradient(90deg,#000080,#000081 71px,#0071ff 72px,#0081ff 73px,#0081ff 75px,#009dff 76px,#00d0ff 77px,#0081ff 78px,#0081ff 81px,#7cff83 82px,#81ff7e 128px,#ff8100 129px,#ff8100 132px,#ffb900 133px,#fa0 134px,#ff8100 135px,#ff7e00 138px,#810000 139px,#800000 210px)"></i>
<i style="left:58px;top:642px;width:211px;background:linear-gradient(90deg,#000080,#000081 71px,#0079ff 72px,#0081ff 73px,#0050ff 74px,#0074ff 75px,#0050ff 76px,#00c0ff 77px,#00c8ff 78px,#0081ff 79px,#0081ff 82px,#7eff81 83px,#81ff7e 127px,#ff8300 128px,#ff8100 131px,#ffe400 132px,#ffa500 133px,#ff3400 134px,#f70 135px,#ff5800 136px,#ff7e00 137px,#ff7e00 138px,#810000 139px,#800000 210px)"></i>
<i style="left:58px;top:643px;width:211px;background:linear-gradient(90deg,#000080,#000081 70px,#0010ff 71px,#002aff 72px,#0032ff 74px,#006aff 75px,#008fff 76px,#007bff 77px,#00a4ff 78px,#00beff 79px,#0081ff 80px,#0081ff 82px,#7eff81 83px,#81ff7e 127px,#ff8100 128px,#ff8100 130px,#ffcd00 131px,#ff9500 132px,#f70 133px,#ff7c00 134px,#f50 135px,#ff2a00 137px,#ff2800 138px,#fe0000 139px,#810000 140px,#800000 210px)"></i>
<i style="left:58px;top:644px;width:211px;background:linear-gradient(90deg,#000080,#000081 70px,#0037ff 71px,#0032ff 72px,#004bff 73px,#0053ff 74px,#0050ff 77px,#0067ff 78px,#0069ff 79px,#00e2ff 80px,#0081ff 81px,#0081ff 82px,#7eff81 83px,#81ff7e 127px,#ff8100 128px,#ff8100 129px,#ffd800 130px,#ff7200 131px,#ff9000 132px,#ff4e00 133px,#ff5000 135px,#ff4600 136px,#ff4e00 137px,#ff3200 138px,#ff2d00 139px,#810000 140px,#800000 210px)"></i>
<i style="left:58px;top:645px;width:211px;background:linear-gradient(90deg,#000080,#000081 69px,#0000e4 70px,#0018ff 71px,#003eff 72px,#003cff 73px,#07f 74px,#00c8ff 75px,#00a9ff 77px,#004eff 79px,#0086ff 80px,#0081ff 82px,#7eff81 83px,#81ff7e 127px,#ff8100 128px,#ff8100 129px,#ff9800 130px,#ff4e00 131px,#ffae00 133px,#ffbc00 134px,#ff8100 136px,#ff4100 137px,#ff3700 138px,#ff1b00 139px,#df0000 140px,#810000 141px,#800000 210px)"></i>
<i style="left:58px;top:646px;width:211px;background:linear-gradient(90deg,#000080,#000081 68px,#000095 69px,#0000fe 70px,#0050ff 72px,#0083ff 73px,#0079ff 74px,#0083ff 75px,#00b6ff 76px,#00a7ff 77px,#00c6ff 78px,#00aeff 79px,#004eff 80px,#00cdff 81px,#0081ff 82px,#0081ff 83px,#7eff81 84px,#81ff7e 126px,#ff8300 127px,#ff8100 128px,#ffc300 129px,#ff5300 130px,#ff9d00 131px,#ffd500 132px,#ffa500 133px,#ffbc00 134px,#ff8600 135px,#ff8100 137px,#ff4e00 138px,#ff3c00 139px,#fb0000 140px,#8b0000 141px,#810000 143px,#800000 210px)"></i>
<i style="left:58px;top:647px;width:211px;background:linear-gradient(90deg,#000080,#000081 68px,#0000d7 69px,#001bff 70px,#005aff 71px,#006aff 72px,#008bff 73px,#0098ff 75px,#00aeff 76px,#00a9ff 78px,#0ef 79px,#007bff 81px,#0081ff 83px,#7eff81 84px,#81ff7e 126px,#ff8100 127px,#ff8100 128px,#ff9300 129px,#ffe400 131px,#ffaf00 132px,#ffc300 133px,#ffb400 134px,#ff9800 135px,#ff9a00 137px,#ff6f00 138px,#f50 139px,#ff1800 140px,#d70000 141px,#800000 142px,#800000 210px)"></i>
<i style="left:58px;top:648px;width:211px;background:linear-gradient(90deg,#000080,#000081 67px,#0000d0 68px,#0006ff 69px,#00b9ff 72px,#00d2ff 74px,#00beff 76px,#00cdff 78px,#009fff 79px,#00e4ff 80px,#004eff 81px,#0081ff 82px,#0081ff 83px,#7eff81 84px,#81ff7e 126px,#ff8100 127px,#ff8100 128px,#ff4e00 129px,#ffec00 130px,#ffb600 131px,#ffcb00 132px,#ffb400 133px,#ffb600 134px,#ffcd00 135px,#ffd200 137px,#ff5b00 140px,#ff1300 141px,#b90000 142px,#810000 143px,#800000 210px)"></i>
<i style="left:58px;top:649px;width:211px;background:linear-gradient(90deg,#000080,#000081 67px,#00e 68px,#004bff 69px,#00cfff 70px,#00d5ff 77px,#00c0ff 79px,#00c2ff 80px,#00ecff 81px,#00acff 82px,#0081ff 83px,#7eff81 84px,#81ff7e 126px,#ff8100 127px,#ffa700 128px,#ffeb00 129px,#ffcb00 130px,#ffc300 131px,#ffd500 133px,#ffd000 140px,#ff5d00 141px,#f80000 142px,#810000 143px,#800000 210px)"></i>
<i style="left:58px;top:650px;width:211px;background:linear-gradient(90deg,#000080,#000080 66px,#0000cd 67px,#00cdff 68px,#00d5ff 79px,#00a7ff 80px,#00a4ff 81px,#004eff 82px,#0081ff 83px,#7eff81 84px,#81ff7e 126px,#ff8100 127px,#ff4e00 128px,#ffa700 129px,#ffd500 131px,#ffcd00 142px,#d80000 143px,#810000 144px,#800000 210px)"></i>
<i style="left:58px;top:651px;width:211px;background:linear-gradient(90deg,#000080,#000080 65px,#0000c3 66px,#00d2ff 67px,#00d5ff 80px,#00b4ff 81px,#0bf 82px,#0081ff 83px,#7eff81 84px,#81ff7e 126px,#ff8100 127px,#ffb900 128px,#ffbd00 129px,#ffd500 130px,#ffcd00 143px,#c80000 144px,#810000 145px,#800000 210px)"></i>
<i style="left:58px;top:652px;width:211px;background:linear-gradient(90deg,#000080,#000081 64px,#0000c5 65px,#00d2ff 66px,#00d5ff 81px,#00c5ff 82px,#0081ff 83px,#7eff81 84px,#81ff7e 126px,#ff8100 127px,#ffc300 128px,#ffd500 129px,#ffd400 144px,#b10000 145px,#810000 146px,#800000 210px)"></i>
<i style="left:58px;top:653px;width:211px;background:linear-gradient(90deg,#000080,#000080 63px,#009aff 64px,#00cdff 65px,#00d5ff 82px,#00bcff 83px,#7cff83 84px,#81ff7e 126px,#ffc100 127px,#ffd500 128px,#ffd500 146px,#810000 147px,#800000 210px)"></i>
<i style="left:58px;top:654px;width:211px;background:linear-gradient(90deg,#000080,#000081 62px,#002cff 63px,#001dff 64px,#003bff 65px,#004dff 66px,#00d2ff 67px,#00d5ff 82px,#00c8ff 83px,#01fffe 84px,#7eff81 85px,#81ff7e 125px,#fffe00 126px,#ffc500 127px,#ffd500 128px,#ffd400 143px,#ff4600 144px,#ff4000 145px,#ff2300 146px,#ff2a00 147px,#810000 148px,#800000 210px)"></i>
<i style="left:58px;top:655px;width:211px;background:linear-gradient(90deg,#000080,#000081 61px,#0000da 62px,#0020ff 63px,#0048ff 65px,#007bff 66px,#00d4ff 67px,#00d4ff 83px,#00dfff 84px,#7eff81 85px,#81ff7e 125px,#ffe400 126px,#ffd500 127px,#ffd400 143px,#ff8100 144px,#ff3100 146px,#ff2a00 147px,#d70000 148px,#810000 149px,#800000 210px)"></i>
<i style="left:58px;top:656px;width:211px;background:linear-gradient(90deg,#000080,#000080 60px,#0000f6 61px,#003eff 62px,#0067ff 63px,#0074ff 65px,#004dff 66px,#0082ff 67px,#00d2ff 68px,#00d7ff 84px,#2dffd2 85px,#7eff81 86px,#81ff7e 124px,#cdff32 125px,#ffd500 126px,#ffd400 142px,#ff8000 143px,#ff4e00 144px,#ff7900 145px,#f60 146px,#ff6500 147px,#ff3c00 148px,#f30000 149px,#810000 150px,#800000 210px)"></i>
<i style="left:58px;top:657px;width:211px;background:linear-gradient(90deg,#000080,#000081 58px,#0000c0 59px,#007eff 60px,#007eff 66px,#00d1ff 67px,#00d5ff 83px,#05fffa 84px,#08fff7 85px,#7eff81 86px,#81ff7e 124px,#e7ff18 125px,#fffd00 126px,#ffd500 127px,#ffd400 143px,#ff7e00 144px,#ff7e00 150px,#d20000 151px,#810000 152px,#800000 210px)"></i>
<i style="left:58px;top:658px;width:211px;background:linear-gradient(90deg,#000080,#000081 56px,#00e 57px,#0026ff 58px,#002aff 59px,#0080ff 60px,#007dff 67px,#00d4ff 68px,#00d5ff 82px,#00b4ff 83px,#1affe5 84px,#1affe5 85px,#06fff9 86px,#7eff81 87px,#81ff7e 123px,#d2ff2d 124px,#e7ff18 125px,#e5ff1a 126px,#ffb400 127px,#ffd500 128px,#ffd400 142px,#ff8600 143px,#ff7e00 150px,#ff2a00 151px,#ff2e00 152px,#ec0000 153px,#810000 154px,#800000 210px)"></i>
<i style="left:58px;top:659px;width:211px;background:linear-gradient(90deg,#000080,#000081 50px,#0000dc 51px,#0000fd 52px,#002aff 54px,#002aff 55px,#0046ff 56px,#004cff 58px,#005aff 59px,#007eff 60px,#0080ff 65px,#00a4ff 67px,#00d4ff 69px,#00d5ff 81px,#08fff7 83px,#1affe5 84px,#1affe5 86px,#4affb5 88px,#7eff81 89px,#81ff7e 121px,#b4ff4b 122px,#e5ff1a 124px,#e6ff19 126px,#f7ff08 127px,#ffd500 129px,#ffd400 141px,#ff8d00 144px,#ff8000 145px,#ff7e00 150px,#ff5b00 151px,#ff4d00 152px,#ff4600 154px,#ff2a00 155px,#ff2a00 156px,#fd0000 158px,#d00 159px,#810000 160px,#800000 210px)"></i>
<i style="left:58px;top:660px;width:211px;background:linear-gradient(90deg,#000080,#000081 47px,#0000ca 48px,#0000f8 50px,#0028ff 53px,#002aff 54px,#004cff 56px,#05f 58px,#007fff 61px,#0085ff 65px,#00d4ff 70px,#00d5ff 80px,#00faff 82px,#1affe5 84px,#2fd 86px,#5fffa0 90px,#7eff81 91px,#81ff7e 119px,#b4ff4b 121px,#e5ff1a 125px,#e6ff19 126px,#fffb00 128px,#ffd500 130px,#ffd400 140px,#ff8600 145px,#ff8000 149px,#ff4d00 153px,#ff4d00 154px,#ff2a00 156px,#ff2800 157px,#f90000 160px,#cb0000 162px,#810000 163px,#800000 210px)"></i>
<i style="left:58px;top:661px;width:211px;background:linear-gradient(90deg,#000080,#000081 45px,#0000bf 46px,#0000fd 49px,#004cff 56px,#004dff 57px,#007fff 61px,#0080ff 64px,#00beff 69px,#00d4ff 70px,#00d5ff 79px,#00fdff 82px,#43ffbc 89px,#62ff9d 91px,#7eff81 92px,#81ff7e 118px,#aeff51 120px,#e5ff1a 125px,#fffe00 128px,#ffd500 131px,#ffd400 140px,#ffb100 142px,#ff8000 146px,#ff8000 149px,#ff4d00 153px,#ff4500 155px,#fe0000 161px,#bf0000 164px,#810000 165px,#800000 210px)"></i>
<i style="left:58px;top:662px;width:211px;background:linear-gradient(90deg,#000080,#000080 43px,#0000c8 45px,#0000fd 48px,#004cff 55px,#0057ff 57px,#007fff 61px,#0087ff 64px,#0bf 69px,#00d4ff 71px,#00d5ff 79px,#0ff 82px,#4affb5 90px,#7eff81 93px,#81ff7e 117px,#b5ff4a 120px,#fffe00 128px,#ffd500 131px,#ffcd00 140px,#ff9d00 144px,#ff8000 147px,#ff7800 150px,#ff4d00 154px,#ff4d00 155px,#fe0000 162px,#c80000 165px,#810000 167px,#800000 210px)"></i>
<i style="left:58px;top:663px;width:211px;background:linear-gradient(90deg,#000080,#000080 42px,#0000ae 43px,#0000de 45px,#0000fb 47px,#004cff 55px,#007fff 61px,#0080ff 63px,#00d4ff 71px,#00d5ff 78px,#01fffe 82px,#50ffaf 91px,#5fffa0 92px,#7eff81 93px,#81ff7e 117px,#a0ff5f 118px,#e5ff1a 125px,#feff01 128px,#ffd500 132px,#ffd400 139px,#ff8000 147px,#ff7a00 150px,#ff2f00 158px,#fb0000 163px,#cb0000 166px,#af0000 167px,#810000 168px,#800000 210px)"></i>
<i style="left:58px;top:664px;width:211px;background:linear-gradient(90deg,#000080,#000080 41px,#0000b1 42px,#0000ec 45px,#0005ff 47px,#004aff 54px,#0071ff 59px,#007fff 60px,#0083ff 63px,#00d4ff 71px,#00d5ff 78px,#01fffe 82px,#58ffa7 92px,#7eff81 94px,#81ff7e 116px,#a7ff58 118px,#fdff02 128px,#ffd500 132px,#ffd400 139px,#ff9800 145px,#ff8000 148px,#ff8000 150px,#ff4d00 155px,#ff3600 158px,#f90000 164px,#cb0000 167px,#b10000 168px,#810000 169px,#800000 210px)"></i>
<i style="left:58px;top:665px;width:211px;background:linear-gradient(90deg,#000080,#000080 40px,#0000b1 41px,#0000e9 44px,#0001ff 46px,#007fff 60px,#08f 63px,#00c4ff 70px,#00d4ff 71px,#00d5ff 78px,#00f1ff 80px,#0afff5 83px,#54ffab 92px,#7f8 94px,#7eff81 98px,#81ff7e 115px,#8f7 116px,#abff54 118px,#fcff03 128px,#ffe700 131px,#ffd500 132px,#ffd400 139px,#ffa200 144px,#ff8000 148px,#ff8000 150px,#ff0100 164px,#c80000 168px,#b10000 169px,#810000 170px,#800000 210px)"></i>
<i style="left:58px;top:666px;width:211px;background:linear-gradient(90deg,#000080,#000080 39px,#0000ae 40px,#0000e5 43px,#0000fd 45px,#007fff 60px,#0080ff 62px,#00c3ff 70px,#00d4ff 71px,#00d5ff 77px,#03fffc 82px,#5bffa4 93px,#7eff81 95px,#81ff7e 115px,#aeff51 118px,#fffb00 129px,#ffd500 133px,#ffd400 139px,#ffb100 142px,#ff8000 148px,#ff8000 150px,#fe0000 165px,#c60000 169px,#af0000 170px,#810000 171px,#800000 210px)"></i>
<i style="left:58px;top:667px;width:211px;background:linear-gradient(90deg,#000080,#000080 38px,#0000a9 39px,#0000d4 41px,#0004ff 45px,#004cff 53px,#0076ff 59px,#009cff 65px,#00c3ff 70px,#00d4ff 71px,#00d5ff 77px,#00fbff 81px,#58ffa7 93px,#64ff9b 94px,#7eff81 95px,#81ff7e 115px,#9bff64 116px,#e5ff1a 125px,#fffb00 129px,#ffd500 133px,#ffd400 139px,#ffb200 142px,#ff8000 149px,#ff6e00 152px,#ff1800 163px,#f90000 166px,#c30000 170px,#a00 171px,#810000 172px,#800000 210px)"></i>
<i style="left:58px;top:668px;width:211px;background:linear-gradient(90deg,#000080,#000080 37px,#0000be 39px,#00f 44px,#007fff 60px,#009dff 65px,#00d5ff 72px,#00d5ff 77px,#00fcff 81px,#5fa 93px,#7eff81 96px,#80ff7f 114px,#b3ff4c 118px,#fffc00 129px,#ffd500 133px,#ffd100 139px,#ff9700 146px,#ff2500 162px,#f00 166px,#be0000 171px,#810000 173px,#800000 210px)"></i>
<i style="left:58px;top:669px;width:211px;background:linear-gradient(90deg,#000080,#000080 36px,#0000b8 38px,#0000f1 42px,#000fff 45px,#007fff 60px,#0098ff 64px,#00d4ff 72px,#00dcff 77px,#04fffb 82px,#5cffa3 94px,#7eff81 96px,#81ff7e 114px,#a2ff5d 116px,#fffd00 129px,#ffd500 134px,#ffcf00 139px,#ff8000 149px,#ff6a00 153px,#fb0000 167px,#cb0000 171px,#b90000 172px,#810000 174px,#800000 210px)"></i>
<i style="left:58px;top:670px;width:211px;background:linear-gradient(90deg,#000080,#000080 36px,#0000b1 37px,#0000e1 40px,#0001ff 43px,#007dff 59px,#09f 64px,#00d4ff 72px,#00d5ff 76px,#05fffa 82px,#5affa5 94px,#7eff81 97px,#80ff7f 113px,#beff41 119px,#fffd00 129px,#ffd500 134px,#ffcd00 139px,#ff8000 150px,#ff0b00 166px,#f60000 168px,#c50000 172px,#b10000 173px,#810000 174px,#800000 210px)"></i>
<i style="left:58px;top:671px;width:211px;background:linear-gradient(90deg,#000080,#000080 35px,#0000a9 36px,#0000dc 39px,#0006ff 43px,#007fff 59px,#00b5ff 68px,#00d4ff 72px,#00d5ff 76px,#00feff 81px,#62ff9d 95px,#7eff81 97px,#80ff7f 113px,#afff50 117px,#fffe00 129px,#ffd500 134px,#ffcd00 139px,#ff8000 150px,#ff6700 154px,#fb0000 168px,#bf0000 173px,#a90000 174px,#810000 175px,#800000 210px)"></i>
<i style="left:58px;top:672px;width:211px;background:linear-gradient(90deg,#000080,#000080 34px,#0000b8 36px,#0000f6 41px,#0012ff 44px,#007fff 59px,#00c3ff 70px,#00d5ff 73px,#00d5ff 76px,#00feff 81px,#5fffa0 95px,#7eff81 97px,#80ff7f 113px,#a0ff5f 115px,#fffe00 129px,#ffd500 134px,#ffd500 138px,#ff8000 150px,#ff5b00 156px,#ff0100 168px,#c80000 173px,#9f0000 175px,#810000 176px,#800000 210px)"></i>
<i style="left:58px;top:673px;width:211px;background:linear-gradient(90deg,#000080,#000080 33px,#000090 34px,#0000b1 35px,#0000e8 39px,#0005ff 42px,#007fff 59px,#00bdff 69px,#00d5ff 73px,#00daff 76px,#06fff9 82px,#67ff98 96px,#7aff85 97px,#84ff7b 113px,#a2ff5d 115px,#fffe00 129px,#ffd500 135px,#ffcd00 139px,#ff8000 150px,#ff4200 160px,#fb0000 169px,#c30000 174px,#b10000 175px,#900000 176px,#810000 177px,#800000 210px)"></i>
<i style="left:58px;top:674px;width:211px;background:linear-gradient(90deg,#000080,#000080 33px,#0000a9 34px,#0000e3 38px,#00f 41px,#007fff 59px,#00d4ff 72px,#00dcff 76px,#06fff9 82px,#65ff9a 96px,#7eff81 98px,#80ff7f 112px,#b3ff4c 117px,#fff900 130px,#ffd500 136px,#ffcd00 139px,#f10 167px,#f60000 170px,#bd0000 175px,#a90000 176px,#810000 177px,#800000 210px)"></i>
<i style="left:58px;top:675px;width:211px;background:linear-gradient(90deg,#000080,#000080 32px,#0000b6 34px,#0000fb 40px,#00d4ff 72px,#00d5ff 75px,#0ff 81px,#62ff9d 96px,#7eff81 98px,#80ff7f 112px,#adff52 116px,#fff900 130px,#ffd500 136px,#ffcd00 139px,#ff0c00 168px,#f10000 171px,#b60000 176px,#810000 178px,#800000 210px)"></i>
<i style="left:58px;top:676px;width:211px;background:linear-gradient(90deg,#000080,#000080 31px,#008 32px,#0000ac 33px,#0000e3 37px,#0008ff 41px,#00abff 66px,#00d5ff 73px,#00d5ff 75px,#01fffe 81px,#61ff9e 96px,#7eff81 98px,#80ff7f 112px,#9eff61 114px,#feff01 129px,#ffd500 136px,#ffcd00 139px,#ff0800 169px,#e30000 173px,#ac0000 177px,#800 178px,#800000 182px,#800000 210px)"></i>
<i style="left:58px;top:677px;width:211px;background:linear-gradient(90deg,#000080,#000080 31px,#0000a3 32px,#0000d2 35px,#0003ff 40px,#007eff 58px,#00d5ff 73px,#00d5ff 75px,#01fffe 81px,#69ff96 97px,#7eff81 99px,#87ff78 112px,#b6ff49 117px,#fffa00 130px,#ffd500 135px,#ffcd00 139px,#ff0b00 169px,#f10000 172px,#b80000 177px,#a30000 178px,#810000 179px,#800000 210px)"></i>
<i style="left:58px;top:678px;width:211px;background:linear-gradient(90deg,#000080,#000080 30px,#0000c0 33px,#0000fd 39px,#00a7ff 65px,#00d5ff 73px,#00e1ff 76px,#07fff8 82px,#67ff98 97px,#7eff81 99px,#80ff7f 111px,#b6ff49 117px,#fffa00 130px,#ffd500 136px,#ffcd00 139px,#ff0e00 169px,#f40000 172px,#c00000 177px,#810000 180px,#800000 210px)"></i>
<i style="left:58px;top:679px;width:211px;background:linear-gradient(90deg,#000080,#000080 30px,#0000a7 31px,#0000e6 36px,#0001ff 39px,#00a1ff 64px,#00d5ff 73px,#07fff8 82px,#65ff9a 97px,#7eff81 99px,#80ff7f 111px,#a9ff56 115px,#fffb00 130px,#ffd500 137px,#ff1f00 167px,#f80000 172px,#b90000 178px,#a70000 179px,#810000 180px,#800000 210px)"></i>
<i style="left:58px;top:680px;width:211px;background:linear-gradient(90deg,#000080,#000080 29px,#0000c0 32px,#0000fb 38px,#00d4ff 72px,#00dcff 75px,#01fffe 81px,#64ff9b 97px,#7eff81 99px,#80ff7f 111px,#a3ff5c 114px,#fffb00 130px,#ffd500 137px,#ff1a00 168px,#fb0000 172px,#c00000 178px,#810000 181px,#800000 210px)"></i>
<i style="left:58px;top:681px;width:211px;background:linear-gradient(90deg,#000080,#000080 29px,#0000a7 30px,#0000dc 34px,#0006ff 39px,#00aeff 66px,#00d5ff 73px,#02fffd 81px,#6bff94 98px,#7cff83 99px,#83ff7c 111px,#a4ff5b 114px,#fffb00 130px,#ffd500 137px,#ff1c00 168px,#f60000 173px,#b90000 179px,#a70000 180px,#810000 181px,#800000 210px)"></i>
<i style="left:58px;top:682px;width:211px;background:linear-gradient(90deg,#000080,#000080 28px,#0000b1 30px,#0000f1 36px,#0009ff 39px,#00b5ff 67px,#00d5ff 73px,#02fffd 81px,#6aff95 98px,#7eff81 100px,#80ff7f 110px,#beff41 118px,#fffb00 130px,#ffd500 137px,#ff1800 169px,#f90000 173px,#c00000 179px,#9d0000 181px,#810000 182px,#800000 210px)"></i>
<i style="left:58px;top:683px;width:211px;background:linear-gradient(90deg,#000080,#000085 28px,#0000a8 29px,#0000e3 34px,#0004ff 38px,#00d4ff 72px,#00d5ff 74px,#03fffc 81px,#69ff96 98px,#7eff81 100px,#80ff7f 110px,#b2ff4d 116px,#fffc00 130px,#ffd500 137px,#ff2700 167px,#fb0000 173px,#b90000 180px,#a80000 181px,#860000 182px,#800000 210px)"></i>
<i style="left:58px;top:684px;width:211px;background:linear-gradient(90deg,#000080,#000080 27px,#0000b1 29px,#0000f6 36px,#001bff 41px,#00d4ff 72px,#00e6ff 76px,#08fff7 82px,#71ff8e 99px,#7eff81 100px,#80ff7f 110px,#acff53 115px,#fffc00 130px,#ffd500 137px,#f20 168px,#fe0000 173px,#be0000 180px,#9d0000 182px,#810000 183px,#800000 210px)"></i>
<i style="left:58px;top:685px;width:211px;background:linear-gradient(90deg,#000080,#000080 26px,#008 27px,#0000a7 28px,#0000e1 33px,#0009ff 38px,#00d4ff 72px,#03fffc 81px,#6fff90 99px,#7eff81 100px,#80ff7f 110px,#a7ff58 114px,#fffd00 130px,#ff2400 168px,#f90000 174px,#b80000 181px,#a70000 182px,#800 183px,#800000 187px,#800000 210px)"></i>
<i style="left:58px;top:686px;width:211px;background:linear-gradient(90deg,#000080,#000080 26px,#0000b0 28px,#0000f4 35px,#0012ff 39px,#00d4ff 72px,#03fffc 81px,#6eff91 99px,#7cff83 100px,#83ff7c 110px,#a7ff58 114px,#fffd00 130px,#ff1f00 169px,#fb0000 174px,#be0000 181px,#9d0000 183px,#810000 184px,#800000 210px)"></i>
<i style="left:58px;top:687px;width:211px;background:linear-gradient(90deg,#000080,#000080 25px,#00008a 26px,#0000a7 27px,#0000df 32px,#0006ff 37px,#00d4ff 72px,#04fffb 81px,#6cff93 99px,#7eff81 102px,#87ff78 110px,#bfff40 118px,#fffd00 130px,#ff1b00 170px,#f60000 175px,#b60000 182px,#a70000 183px,#8b0000 184px,#800000 186px,#800000 210px)"></i>
<i style="left:58px;top:688px;width:211px;background:linear-gradient(90deg,#000080,#000080 25px,#0000ae 27px,#0000f2 34px,#0008ff 37px,#00d5ff 72px,#04fffb 81px,#6bff94 99px,#7eff81 101px,#80ff7f 109px,#bfff40 118px,#fffd00 130px,#ff1600 171px,#f90000 175px,#b00 182px,#9c0000 184px,#800000 185px,#800000 210px)"></i>
<i style="left:58px;top:689px;width:211px;background:linear-gradient(90deg,#000080,#000080 24px,#008 25px,#0000a5 26px,#0000e5 32px,#0003ff 36px,#00d5ff 72px,#04fffb 81px,#73ff8c 100px,#7eff81 102px,#80ff7f 109px,#b4ff4b 116px,#fffe00 130px,#f10 172px,#f40000 176px,#b40000 183px,#a50000 184px,#800 185px,#800000 189px,#800000 210px)"></i>
<i style="left:58px;top:690px;width:211px;background:linear-gradient(90deg,#000080,#000080 24px,#0000ac 26px,#0000e8 32px,#0006ff 36px,#00d5ff 72px,#04fffb 81px,#72ff8d 100px,#7eff81 101px,#80ff7f 109px,#afff50 115px,#fff900 131px,#ff1300 172px,#f60000 176px,#ba0000 183px,#9a0000 185px,#800000 186px,#800000 210px)"></i>
<i style="left:58px;top:691px;width:211px;background:linear-gradient(90deg,#000080,#000083 24px,#0000a4 25px,#0000e2 31px,#0007ff 36px,#00d5ff 72px,#04fffb 81px,#71ff8e 100px,#7eff81 101px,#80ff7f 109px,#a9ff56 114px,#fff900 131px,#ff0e00 173px,#f90000 176px,#b30000 184px,#a40000 185px,#830000 186px,#800000 210px)"></i>
<i style="left:58px;top:692px;width:211px;background:linear-gradient(90deg,#000080,#000080 23px,#0000b8 26px,#0003ff 35px,#00d5ff 72px,#04fffb 81px,#6fff90 100px,#7dff82 101px,#82ff7d 109px,#a4ff5b 113px,#fff900 131px,#ff1000 173px,#f30000 177px,#b80000 184px,#800000 187px,#800000 210px)"></i>
<i style="left:58px;top:693px;width:211px;background:linear-gradient(90deg,#000080,#000080 23px,#0000a1 24px,#0000d7 29px,#0004ff 35px,#00d5ff 72px,#05fffa 81px,#6fff90 100px,#7eff81 103px,#86ff79 109px,#d0ff2f 121px,#fff900 131px,#ff0b00 174px,#f60000 177px,#b10000 185px,#a20000 186px,#810000 187px,#800000 210px)"></i>
<i style="left:58px;top:694px;width:211px;background:linear-gradient(90deg,#000080,#000080 22px,#0000b6 25px,#0000fe 34px,#00efff 77px,#05fffa 81px,#7f8 101px,#80ff7f 106px,#8f7 109px,#ff0 130px,#ff0600 175px,#d20000 182px,#a90000 186px,#800000 188px,#800000 210px)"></i>
<i style="left:58px;top:695px;width:211px;background:linear-gradient(90deg,#000080,#000080 22px,#00009f 23px,#0000d5 28px,#0001ff 34px,#00eaff 76px,#05fffa 81px,#76ff89 101px,#80ff7f 104px,#80ff7f 108px,#cbff34 120px,#fffa00 131px,#ff0800 175px,#e40000 180px,#ae0000 186px,#9f0000 187px,#800000 188px,#800000 210px)"></i>
<i style="left:58px;top:696px;width:211px;background:linear-gradient(90deg,#000080,#000080 21px,#0000b3 24px,#0000fb 33px,#0ff 80px,#74ff8b 101px,#7eff81 103px,#80ff7f 108px,#cbff34 120px,#fffa00 131px,#fb0000 177px,#b30000 186px,#800000 189px,#800000 210px)"></i>
<i style="left:58px;top:697px;width:211px;background:linear-gradient(90deg,#000080,#000080 21px,#00009c 22px,#0000d2 27px,#0004ff 34px,#0ff 80px,#73ff8c 101px,#7eff81 103px,#80ff7f 108px,#c0ff3f 118px,#fffa00 131px,#fd0000 177px,#b80000 186px,#9c0000 188px,#800000 189px,#800000 210px)"></i>
<i style="left:58px;top:698px;width:211px;background:linear-gradient(90deg,#000080,#000080 20px,#0000b1 23px,#00f 33px,#01fffe 80px,#73ff8c 101px,#7eff81 103px,#80ff7f 108px,#bf4 117px,#fffb00 131px,#f00 177px,#b10000 187px,#800000 190px,#800000 210px)"></i>
<i style="left:58px;top:699px;width:211px;background:linear-gradient(90deg,#000080,#000080 20px,#0000a9 22px,#0000f3 31px,#000eff 35px,#01fffe 80px,#72ff8d 101px,#7eff81 102px,#80ff7f 108px,#b0ff4f 115px,#fffb00 131px,#fa0000 178px,#b50000 187px,#900 189px,#800000 190px,#800000 210px)"></i>
<i style="left:58px;top:700px;width:211px;background:linear-gradient(90deg,#000080,#000085 20px,#0000a0 21px,#0000da 27px,#0003ff 33px,#01fffe 80px,#80ff7f 104px,#84ff7b 108px,#feff01 130px,#fb0000 178px,#ae0000 188px,#a00000 189px,#860000 190px,#800000 210px)"></i>
<i style="left:58px;top:701px;width:211px;background:linear-gradient(90deg,#000080,#000080 19px,#0000b2 22px,#0000fd 32px,#01fffe 80px,#80ff7f 104px,#86ff79 108px,#fffb00 131px,#fd0000 178px,#b20000 188px,#800000 191px,#800000 210px)"></i>
<i style="left:58px;top:702px;width:211px;background:linear-gradient(90deg,#000080,#000080 19px,#00009c 20px,#0000d7 26px,#0006ff 33px,#01fffe 80px,#80ff7f 104px,#87ff78 108px,#fffb00 131px,#fe0000 178px,#ab0000 189px,#9d0000 190px,#800000 191px,#800000 210px)"></i>
<i style="left:58px;top:703px;width:211px;background:linear-gradient(90deg,#000080,#000080 18px,#0000ae 21px,#0000fa 31px,#01fffe 80px,#80ff7f 104px,#8f7 108px,#fffb00 131px,#fa0000 179px,#af0000 189px,#800000 192px,#800000 210px)"></i>
<i style="left:58px;top:704px;width:211px;background:linear-gradient(90deg,#000080,#000080 18px,#0000a8 20px,#0000f5 30px,#0014ff 35px,#02fffd 80px,#80ff7f 104px,#8f7 108px,#fffc00 131px,#fb0000 179px,#b30000 189px,#9a0000 191px,#800000 192px,#800000 210px)"></i>
<i style="left:58px;top:705px;width:211px;background:linear-gradient(90deg,#000080,#000080 17px,#0000bf 22px,#0003ff 32px,#02fffd 80px,#80ff7f 104px,#80ff7f 107px,#fdff02 130px,#fd0000 179px,#ac0000 190px,#800000 193px,#800000 210px)"></i>
<i style="left:58px;top:706px;width:211px;background:linear-gradient(90deg,#000080,#000080 17px,#0000b0 20px,#0000fd 31px,#02fffd 80px,#80ff7f 104px,#80ff7f 107px,#fdff02 130px,#fe0000 179px,#b00000 190px,#800000 193px,#800000 210px)"></i>
<i style="left:58px;top:707px;width:211px;background:linear-gradient(90deg,#000080,#000080 17px,#00009c 18px,#0000da 25px,#0006ff 32px,#02fffd 80px,#80ff7f 104px,#80ff7f 107px,#fdff02 130px,#f00 179px,#a90000 191px,#9c0000 192px,#800000 193px,#800000 210px)"></i>
<i style="left:58px;top:708px;width:211px;background:linear-gradient(90deg,#000080,#000080 16px,#0000ac 19px,#0001ff 31px,#02fffd 80px,#7fff80 104px,#80ff7f 107px,#fdff02 130px,#fb0000 180px,#ac0000 191px,#800000 194px,#800000 210px)"></i>
<i style="left:58px;top:709px;width:211px;background:linear-gradient(90deg,#000080,#000080 16px,#0000a6 18px,#0000fb 30px,#03fffc 80px,#7fff80 104px,#8bff74 108px,#fffd00 131px,#fb0000 180px,#a60000 192px,#800000 194px,#800000 210px)"></i>
<i style="left:58px;top:710px;width:211px;background:linear-gradient(90deg,#000080,#000080 15px,#0000b3 19px,#0003ff 31px,#03fffc 80px,#80ff7f 105px,#9cff63 111px,#fffd00 131px,#fd0000 180px,#a90000 192px,#800000 195px,#800000 210px)"></i>
<i style="left:58px;top:711px;width:211px;background:linear-gradient(90deg,#000080,#000080 15px,#0000ad 18px,#0000fd 30px,#03fffc 80px,#80ff7f 105px,#fffd00 131px,#fe0000 180px,#ad0000 192px,#800000 195px,#800000 210px)"></i>
<i style="left:58px;top:712px;width:211px;background:linear-gradient(90deg,#000080,#000080 15px,#00009a 16px,#0000d5 23px,#0006ff 31px,#03fffc 80px,#80ff7f 105px,#fffd00 131px,#f90000 181px,#a70000 193px,#9a0000 194px,#800000 195px,#800000 210px)"></i>
<i style="left:58px;top:713px;width:211px;background:linear-gradient(90deg,#000080,#000080 14px,#0000b3 18px,#0001ff 30px,#03fffc 80px,#80ff7f 105px,#fffd00 131px,#fa0000 181px,#a90000 193px,#800000 196px,#800000 210px)"></i>
<i style="left:58px;top:714px;width:211px;background:linear-gradient(90deg,#000080,#000080 14px,#0000a3 16px,#0000f6 28px,#0012ff 33px,#03fffc 80px,#80ff7f 105px,#fffd00 131px,#fb0000 181px,#ad0000 193px,#970000 195px,#800000 196px,#800000 210px)"></i>
<i style="left:58px;top:715px;width:211px;background:linear-gradient(90deg,#000080,#000080 13px,#008 14px,#0000a6 16px,#0000fc 29px,#03fffc 80px,#80ff7f 105px,#fffe00 131px,#fc0000 181px,#a70000 194px,#800000 197px,#800000 210px)"></i>
<i style="left:58px;top:716px;width:211px;background:linear-gradient(90deg,#000080,#000080 13px,#0000b2 17px,#0003ff 30px,#04fffb 80px,#80ff7f 105px,#fff900 132px,#fd0000 181px,#a90000 194px,#800000 197px,#800000 210px)"></i>
<i style="left:58px;top:717px;width:211px;background:linear-gradient(90deg,#000080,#000080 13px,#0000a4 15px,#0000fe 29px,#04fffb 80px,#80ff7f 105px,#fff900 132px,#fe0000 181px,#a40000 195px,#800000 197px,#800000 210px)"></i>
<i style="left:58px;top:718px;width:211px;background:linear-gradient(90deg,#000080,#000080 12px,#0000ae 16px,#00f 29px,#04fffb 80px,#80ff7f 105px,#fff900 132px,#f90000 182px,#a70000 195px,#800000 198px,#800000 210px)"></i>
<i style="left:58px;top:719px;width:211px;background:linear-gradient(90deg,#000080,#000080 12px,#0000a9 15px,#0001ff 29px,#04fffb 80px,#80ff7f 105px,#fff900 132px,#fa0000 182px,#a90000 195px,#800000 198px,#800000 210px)"></i>
<i style="left:58px;top:720px;width:211px;background:linear-gradient(90deg,#000080,#000085 12px,#0000ac 15px,#0001ff 29px,#04fffb 80px,#80ff7f 105px,#fff900 132px,#fb0000 182px,#a30000 196px,#850000 198px,#800000 210px)"></i>
<i style="left:58px;top:721px;width:211px;background:linear-gradient(90deg,#000080,#000080 11px,#0000ae 15px,#0002ff 29px,#04fffb 80px,#80ff7f 105px,#fff900 132px,#fc0000 182px,#a60000 196px,#800000 199px,#800000 210px)"></i>
<i style="left:58px;top:722px;width:211px;background:linear-gradient(90deg,#000080,#000080 11px,#00009f 13px,#0000f7 27px,#0027ff 36px,#04fffb 80px,#fff900 132px,#fd0000 182px,#a90000 196px,#950000 198px,#800000 199px,#800000 210px)"></i>
<i style="left:58px;top:723px;width:211px;background:linear-gradient(90deg,#000080,#000080 10px,#0000b9 16px,#0004ff 29px,#04fffb 80px,#fffa00 132px,#fd0000 182px,#a20000 197px,#800000 200px,#800000 210px)"></i>
<i style="left:58px;top:724px;width:211px;background:linear-gradient(90deg,#000080,#000080 10px,#0000ad 14px,#0004ff 29px,#04fffb 80px,#fffa00 132px,#fe0000 182px,#a50000 197px,#800000 200px,#800000 210px)"></i>
<i style="left:58px;top:725px;width:211px;background:linear-gradient(90deg,#000080,#000080 10px,#00009f 12px,#00f 28px,#05fffa 80px,#fffa00 132px,#fa0000 183px,#9f0000 198px,#800000 200px,#800000 210px)"></i>
<i style="left:58px;top:726px;width:211px;background:linear-gradient(90deg,#000080,#000080 9px,#0000b1 14px,#0006ff 29px,#05fffa 80px,#fffa00 132px,#fa0000 183px,#a20000 198px,#800000 201px,#800000 210px)"></i>
<i style="left:58px;top:727px;width:211px;background:linear-gradient(90deg,#000080,#000080 9px,#0000a4 12px,#0001ff 28px,#05fffa 80px,#fffa00 132px,#fb0000 183px,#9c0000 199px,#800000 201px,#800000 210px)"></i>
<i style="left:58px;top:728px;width:211px;background:linear-gradient(90deg,#000080,#000083 9px,#00009f 11px,#0002ff 28px,#05fffa 80px,#fffa00 132px,#fb0000 183px,#9f0000 199px,#830000 201px,#800000 210px)"></i>
<i style="left:58px;top:729px;width:211px;background:linear-gradient(90deg,#000080,#000080 8px,#0000ae 13px,#0002ff 28px,#05fffa 80px,#fffa00 132px,#fc0000 183px,#a10000 199px,#800000 202px,#800000 210px)"></i>
<i style="left:58px;top:730px;width:211px;background:linear-gradient(90deg,#000080,#000080 8px,#0000a3 11px,#0003ff 28px,#05fffa 80px,#fffa00 132px,#fd0000 183px,#9a0000 200px,#800000 202px,#800000 210px)"></i>
<i style="left:58px;top:731px;width:211px;background:linear-gradient(90deg,#000080,#000085 8px,#0000ab 12px,#0003ff 28px,#05fffa 80px,#fffa00 132px,#fd0000 183px,#9d0000 200px,#800000 203px,#800000 210px)"></i>
<i style="left:58px;top:732px;width:211px;background:linear-gradient(90deg,#000080,#000080 7px,#0000ad 12px,#0004ff 28px,#05fffa 80px,#fffb00 132px,#fe0000 183px,#970000 201px,#800000 203px,#800000 210px)"></i>
<i style="left:58px;top:733px;width:211px;background:linear-gradient(90deg,#000080,#000080 7px,#0000a1 10px,#0004ff 28px,#05fffa 80px,#fffb00 132px,#f90000 184px,#9a0000 201px,#800000 203px,#800000 210px)"></i>
<i style="left:58px;top:734px;width:211px;background:linear-gradient(90deg,#000080,#000080 6px,#0000b5 13px,#0005ff 28px,#05fffa 80px,#fffb00 132px,#fa0000 184px,#940000 202px,#800000 204px,#800000 210px)"></i>
<i style="left:58px;top:735px;width:211px;background:linear-gradient(90deg,#000080,#000080 6px,#0000ab 11px,#0005ff 28px,#06fff9 80px,#fffb00 132px,#fa0000 184px,#970000 202px,#800000 204px,#800000 210px)"></i>
<i style="left:58px;top:736px;width:211px;background:linear-gradient(90deg,#000080,#000080 6px,#00009f 9px,#0005ff 28px,#06fff9 80px,#fffb00 132px,#fa0000 184px,#900000 203px,#800000 204px,#800000 210px)"></i>
<i style="left:58px;top:737px;width:211px;background:linear-gradient(90deg,#000080,#000080 5px,#0000bd 14px,#0006ff 28px,#06fff9 80px,#fffb00 132px,#fb0000 184px,#930000 203px,#800000 205px,#800000 210px)"></i>
<i style="left:58px;top:738px;width:211px;background:linear-gradient(90deg,#000080,#000080 5px,#0000ae 11px,#0006ff 28px,#06fff9 80px,#fffb00 132px,#fb0000 184px,#8d0000 204px,#800000 205px,#800000 210px)"></i>
<i style="left:58px;top:739px;width:211px;background:linear-gradient(90deg,#000080,#000080 5px,#00009e 8px,#0001ff 27px,#06fff9 80px,#fffb00 132px,#fb0000 184px,#900000 204px,#800000 205px,#800000 210px)"></i>
<i style="left:58px;top:740px;width:211px;background:linear-gradient(90deg,#000080,#000080 4px,#00b 13px,#0007ff 28px,#06fff9 80px,#fffb00 132px,#fc0000 184px,#920000 204px,#800000 207px,#800000 210px)"></i>
<i style="left:58px;top:741px;width:211px;background:linear-gradient(90deg,#000080,#000080 4px,#0000ab 10px,#0002ff 27px,#06fff9 80px,#fffb00 132px,#fc0000 184px,#8c0000 205px,#800000 207px,#800000 210px)"></i>
<i style="left:58px;top:742px;width:211px;background:linear-gradient(90deg,#000080,#000083 4px,#0000b6 12px,#0002ff 27px,#06fff9 80px,#fffb00 132px,#fc0000 184px,#8e0000 205px,#800000 207px,#800000 210px)"></i>
<i style="left:58px;top:743px;width:211px;background:linear-gradient(90deg,#000080,#008 4px,#0003ff 27px,#06fff9 80px,#fffb00 132px,#fd0000 184px,#800 206px,#800000 210px)"></i>
<i style="left:58px;top:744px;width:211px;background:linear-gradient(90deg,#000080,#000080 3px,#0000bd 13px,#0003ff 27px,#06fff9 80px,#fffb00 132px,#fd0000 184px,#8b0000 206px,#800000 208px,#800000 210px)"></i>
<i style="left:58px;top:745px;width:211px;background:linear-gradient(90deg,#000080,#000083 3px,#0000e4 21px,#0008ff 28px,#06fff9 80px,#fffb00 132px,#fd0000 184px,#8d0000 206px,#800000 209px,#800000 210px)"></i>
<i style="left:58px;top:746px;width:211px;background:linear-gradient(90deg,#000080,#008 3px,#0003ff 27px,#06fff9 80px,#fffb00 132px,#fd0000 184px,#800000 209px,#800000 210px)"></i>
<i style="left:58px;top:747px;width:211px;background:linear-gradient(90deg,#000080,#000080 2px,#0000fd 26px,#06fff9 80px,#fffb00 132px,#fd0000 184px,#800000 209px,#800000 210px)"></i>
<i style="left:58px;top:748px;width:211px;background:linear-gradient(90deg,#000080,#0000a5 8px,#0003ff 27px,#06fff9 80px,#fffb00 132px,#fd0000 184px,#800000 209px,#800000 210px)"></i>
<i style="left:58px;top:749px;width:211px;background:linear-gradient(90deg,#000080,#0003ff 27px,#06fff9 80px,#fffb00 132px,#fe0000 184px,#800000 210px)"></i>
<i style="left:58px;top:750px;width:211px;height:4px;background:linear-gradient(90deg,#000080,#0004ff 27px,#06fff9 80px,#fffb00 132px,#f90000 185px,#800000 210px)"></i>
<i style="left:406px;top:546px;width:211px;background:linear-gradient(90deg,#000080,#000080 61px,#0000c0 62px,#0000db 63px,#0000e5 68px,#0000f4 70px,#0000e9 73px,#0000f4 74px,#0000e3 75px,#0000e9 79px,#00b 80px,#000080 82px,#000080 102px,#14ffeb 103px,#05fffa 105px,#09f 106px,#009fff 108px,#00e3ff 111px,#1effe1 114px,#1effe1 115px,#79ff86 119px,#72ff8d 121px,#b9ff46 124px,#ffd900 125px,#ffda00 128px,#d4ff2b 129px,#abff54 130px,#89ff76 137px,#a3ff5c 139px,#d2ff2d 140px,#d2ff2d 141px,#93ff6c 142px,#a4ff5b 144px,#dbff24 146px,#dfff20 147px,#f8ff07 148px,#ffd200 151px,#ffab00 152px,#ffb000 155px,#ff8600 158px,#ff6c00 159px,#ff6000 161px,#ff3200 163px,#ff3200 164px,#f40000 166px,#830000 168px,#910000 172px,#810000 191px,#800000 210px)"></i>
<i style="left:406px;top:547px;width:211px;background:linear-gradient(90deg,#000080,#000080 61px,#0000c0 62px,#0000e4 65px,#0000e2 69px,#0000ef 72px,#0000f1 74px,#0000e3 77px,#0000e6 78px,#000080 81px,#000080 101px,#00feff 102px,#63ff9c 103px,#58ffa7 104px,#05fffa 105px,#00bfff 106px,#00a5ff 107px,#00c8ff 110px,#00f2ff 112px,#2dffd2 116px,#82ff7d 119px,#72ff8d 121px,#8eff71 123px,#a7ff58 124px,#ffd900 125px,#ffda00 128px,#b0ff4f 129px,#93ff6c 134px,#87ff78 135px,#94ff6b 139px,#baff45 140px,#baff45 141px,#9f6 142px,#9f6 143px,#fffb00 148px,#f90 157px,#ff3a00 164px,#ff3500 165px,#ff1300 166px,#850000 168px,#930000 170px,#ff1800 171px,#910000 172px,#810000 187px,#800000 210px)"></i>
<i style="left:406px;top:548px;width:211px;background:linear-gradient(90deg,#000080,#000080 61px,#00c 62px,#0000ed 70px,#0003ff 72px,#0000ec 74px,#0000d5 77px,#0000a7 79px,#000080 80px,#000080 100px,#00cfff 101px,#6aff95 102px,#58ffa7 104px,#0dfff2 105px,#00d0ff 106px,#00b7ff 108px,#00d1ff 110px,#0ef 111px,#24ffdb 115px,#48ffb7 117px,#85ff7a 119px,#76ff89 122px,#81ff7e 123px,#a7ff58 124px,#ffd900 125px,#ffda00 128px,#b4ff4b 129px,#9fff60 133px,#85ff7a 135px,#a3ff5c 143px,#d9ff26 145px,#fffb00 148px,#ff9a00 157px,#ff4d00 163px,#ff3400 166px,#f00000 167px,#a00 168px,#910000 169px,#ff1800 170px,#80ff80 171px,#8a0000 172px,#800000 210px)"></i>
<i style="left:406px;top:549px;width:211px;background:linear-gradient(90deg,#000080,#000080 60px,#000093 61px,#00c 62px,#0000e4 68px,#0000e9 71px,#0003ff 72px,#0000ec 74px,#00d 76px,#000080 79px,#000080 100px,#64ff9b 101px,#6aff95 103px,#1affe5 105px,#00d6ff 106px,#00bfff 107px,#00c8ff 109px,#0ef 110px,#00feff 112px,#21ffde 113px,#2fffd0 116px,#5fa 117px,#7dff82 119px,#76ff89 122px,#81ff7e 123px,#a5ff5a 124px,#ffda00 125px,#fd0 128px,#bfff40 129px,#b2ff4d 131px,#83ff7c 133px,#8fff70 140px,#f1ff0e 147px,#f6ff09 148px,#ffd300 150px,#ffba00 155px,#ffa400 157px,#ff8500 158px,#ff7800 160px,#ff5b00 162px,#ff4d00 165px,#ff2400 167px,#c20000 168px,#c20000 169px,#80ff80 170px,#ff1800 171px,#800 172px,#800000 210px)"></i>
<i style="left:406px;top:550px;width:211px;background:linear-gradient(90deg,#000080,#000080 60px,#000094 61px,#0000cb 62px,#0000d9 65px,#0000df 75px,#000080 78px,#000080 99px,#52ffad 100px,#6fff90 101px,#72ff8d 103px,#1affe5 105px,#00edff 106px,#00caff 107px,#00caff 108px,#08fff7 112px,#27ffd8 113px,#2fffd0 116px,#6cff93 118px,#7aff85 120px,#80ff7f 123px,#a5ff5a 124px,#ffdc00 125px,#ffd700 128px,#cdff32 129px,#cdff32 130px,#81ff7e 133px,#8f7 140px,#beff41 142px,#f8ff07 148px,#ffde00 149px,#ffa700 157px,#ff6200 161px,#ff5100 166px,#ff2400 168px,#80ff80 169px,#80ff80 170px,#940000 171px,#830000 175px,#800000 210px)"></i>
<i style="left:406px;top:551px;width:211px;background:linear-gradient(90deg,#000080,#000080 60px,#000098 61px,#0000c5 62px,#0000d0 65px,#0000e2 68px,#0000d8 74px,#000080 77px,#000080 98px,#00d9ff 99px,#64ff9b 100px,#74ff8b 103px,#23ffdc 105px,#00edff 106px,#00d2ff 107px,#00f0ff 110px,#08fff7 112px,#27ffd8 113px,#2fffd0 116px,#6eff91 118px,#7aff85 120px,#71ff8e 122px,#80ff7f 123px,#a5ff5a 124px,#ffdc00 125px,#ffd600 128px,#dfff20 129px,#81ff7e 133px,#8fff70 140px,#b8ff47 141px,#cbff34 142px,#c8ff37 143px,#fffa00 148px,#ffd200 150px,#ffcf00 153px,#ff5d00 163px,#ff6d00 166px,#ff5100 167px,#ff8500 168px,#80ff80 169px,#80ff80 170px,#8a0000 171px,#800000 210px)"></i>
<i style="left:406px;top:552px;width:211px;background:linear-gradient(90deg,#000080,#000080 60px,#0000bd 62px,#0000e4 70px,#0000d9 72px,#0000a2 75px,#000080 76px,#000080 98px,#53ffac 99px,#6eff91 100px,#76ff89 103px,#00f6ff 106px,#00d9ff 107px,#00d2ff 108px,#08fff7 111px,#0efff1 112px,#2bffd4 113px,#38ffc7 116px,#6cff93 118px,#7bff84 120px,#74ff8b 123px,#a1ff5e 124px,#ffdb00 125px,#ffd600 128px,#e3ff1c 129px,#98ff67 132px,#86ff79 137px,#8f7 139px,#b5ff4a 140px,#dbff24 142px,#e7ff18 146px,#fff500 148px,#ffc700 150px,#ffcf00 153px,#ff9600 159px,#ff7300 160px,#ff7d00 166px,#ff7100 167px,#80ff80 168px,#80ff80 170px,#870000 171px,#800000 210px)"></i>
<i style="left:406px;top:553px;width:211px;background:linear-gradient(90deg,#000080,#000080 60px,#000090 61px,#0000bc 62px,#0000e4 70px,#0000dc 71px,#0000bd 72px,#0000a2 74px,#000080 75px,#000080 97px,#53ffac 98px,#6eff91 99px,#78ff87 103px,#5fffa0 104px,#23ffdc 105px,#0ff 106px,#00d7ff 108px,#00d8ff 109px,#00fbff 110px,#12ffed 112px,#3fc 114px,#3affc5 116px,#8bff74 119px,#8bff74 120px,#68ff97 121px,#68ff97 122px,#adff52 124px,#ffda00 125px,#ffd600 128px,#e3ff1c 129px,#98ff67 133px,#81ff7e 135px,#93ff6c 139px,#e6ff19 142px,#ecff13 146px,#fe0 148px,#ffd500 151px,#ffd500 153px,#ff9a00 158px,#ffa100 159px,#ff8a00 160px,#f90 166px,#80ff80 167px,#80ff80 169px,#8a0000 170px,#800000 210px)"></i>
<i style="left:406px;top:554px;width:211px;background:linear-gradient(90deg,#000080,#000080 60px,#00008d 61px,#0000b8 62px,#00c 69px,#00c 70px,#0000b6 71px,#0000a2 73px,#000080 74px,#000080 96px,#001fff 97px,#53ffac 98px,#6eff91 99px,#71ff8e 103px,#5effa1 104px,#0ff 106px,#00d8ff 108px,#00d8ff 109px,#00fbff 110px,#12ffed 112px,#3fc 113px,#40ffbf 116px,#81ff7e 119px,#76ff89 122px,#a7ff58 124px,#ffda00 125px,#ffd600 128px,#ebff14 129px,#b7ff48 131px,#a6ff59 133px,#81ff7e 136px,#9aff65 139px,#b2ff4d 140px,#e6ff19 141px,#e8ff17 145px,#fffd00 147px,#ffc700 151px,#ffbc00 155px,#ff9f00 156px,#ffab00 157px,#ff9400 158px,#ff9d00 162px,#ff8f00 163px,#f90 164px,#ffc800 165px,#ffcf00 166px,#80ff80 167px,#80ff80 169px,#870000 170px,#800000 210px)"></i>
<i style="left:406px;top:555px;width:211px;background:linear-gradient(90deg,#000080,#000087 61px,#0000ae 62px,#0000c4 66px,#0000c5 69px,#0000af 71px,#000086 72px,#000080 96px,#00b9ff 97px,#64ff9b 98px,#78ff87 102px,#60ff9f 104px,#05fffa 106px,#00eaff 108px,#0afff5 111px,#36ffc9 113px,#40ffbf 116px,#79ff86 118px,#7eff81 122px,#a7ff58 124px,#ffda00 125px,#ffd600 128px,#f1ff0e 129px,#b9ff46 131px,#9bff64 134px,#81ff7e 136px,#b2ff4d 140px,#ebff14 141px,#edff12 145px,#ffe200 149px,#ffc000 155px,#ff9f00 156px,#ffab00 157px,#ff9600 158px,#ffac00 160px,#ffc800 164px,#80ff80 165px,#80ff80 168px,#8c0000 169px,#800000 210px)"></i>
<i style="left:406px;top:556px;width:211px;background:linear-gradient(90deg,#000080,#000080 61px,#00a 62px,#0000bc 67px,#00009c 70px,#000080 71px,#000080 95px,#0021ff 96px,#02fffd 97px,#64ff9b 98px,#78ff87 100px,#6eff91 104px,#07fff8 106px,#00faff 109px,#18ffe7 112px,#45ffba 114px,#3bffc4 115px,#8cff73 119px,#84ff7b 122px,#a0ff5f 124px,#ffda00 125px,#ffd600 128px,#f4ff0b 129px,#c2ff3d 130px,#a8ff57 133px,#87ff78 134px,#76ff89 136px,#cdff32 140px,#efff10 141px,#faff05 146px,#ffe800 149px,#ffc900 151px,#ffc000 155px,#ffa600 156px,#ffbf00 157px,#ffae00 159px,#ffb900 163px,#fc0 164px,#80ff80 165px,#80ff80 168px,#8e0000 169px,#800000 210px)"></i>
<i style="left:406px;top:557px;width:211px;background:linear-gradient(90deg,#000080,#000080 61px,#0000ae 63px,#0000b4 67px,#00009c 69px,#000080 70px,#000080 94px,#0000bf 95px,#0072ff 96px,#09fff6 97px,#74ff8b 98px,#7f8 104px,#36ffc9 105px,#1fe 106px,#00fbff 110px,#3cffc3 114px,#48ffb7 116px,#91ff6e 119px,#84ff7b 122px,#a1ff5e 124px,#ffda00 125px,#ffd600 128px,#f4ff0b 129px,#c2ff3d 130px,#98ff67 133px,#79ff86 135px,#76ff89 136px,#af5 138px,#ceff31 140px,#f1ff0e 141px,#f7ff08 145px,#ffe800 149px,#ffcd00 150px,#ffc600 155px,#ffb300 161px,#ffc900 163px,#80ff80 164px,#80ff80 167px,#9eff61 168px,#8c0000 169px,#800000 210px)"></i>
<i style="left:406px;top:558px;width:211px;background:linear-gradient(90deg,#000080,#000080 61px,#0000ae 64px,#0000a2 67px,#000080 69px,#000080 94px,#0048ff 95px,#009fff 96px,#16ffe9 97px,#74ff8b 98px,#7f8 104px,#15ffea 106px,#04fffb 109px,#1cffe3 112px,#45ffba 114px,#4affb5 116px,#6eff91 118px,#91ff6e 119px,#91ff6e 123px,#a1ff5e 124px,#ffd600 125px,#ffd600 128px,#fdff02 129px,#c1ff3e 130px,#b0ff4f 132px,#7fff80 134px,#76ff89 136px,#9eff61 137px,#ceff31 140px,#f1ff0e 141px,#efff10 144px,#fff700 146px,#ffeb00 149px,#ffc700 151px,#ffc600 155px,#ffbd00 161px,#ffd200 163px,#80ff80 164px,#80ff80 167px,#ff2800 168px,#8e0000 169px,#800000 208px,#800000 210px)"></i>
<i style="left:406px;top:559px;width:211px;background:linear-gradient(90deg,#000080,#000080 62px,#0000a5 64px,#0000a0 66px,#000080 67px,#000080 93px,#0000eb 94px,#0070ff 95px,#00c1ff 96px,#1affe5 97px,#74ff8b 98px,#7f8 104px,#19ffe6 106px,#02fffd 108px,#04fffb 110px,#48ffb7 114px,#4bffb4 116px,#8cff73 119px,#91ff6e 123px,#a1ff5e 124px,#ffd600 125px,#ffd700 128px,#ffe500 129px,#c4ff3b 130px,#b1ff4e 132px,#7dff82 134px,#76ff89 135px,#b4ff4b 137px,#d5ff2a 140px,#edff12 141px,#ffe800 149px,#ffc200 151px,#ffd300 154px,#ffc500 158px,#ffd500 159px,#ffd100 162px,#80ff80 163px,#80ff80 166px,#8fff70 167px,#ff2000 168px,#a00 169px,#850000 170px,#800000 210px)"></i>
<i style="left:406px;top:560px;width:211px;background:linear-gradient(90deg,#000080,#000080 92px,#0000a3 93px,#0070ff 94px,#00cdff 96px,#1cffe3 97px,#71ff8e 98px,#7aff85 104px,#1cffe3 106px,#02fffd 107px,#0cfff3 110px,#48ffb7 114px,#4bffb4 116px,#80ff7f 118px,#8dff72 123px,#9eff61 124px,#f4ff0b 125px,#ffd600 126px,#ffdf00 129px,#c5ff3a 130px,#9eff61 133px,#7dff82 134px,#82ff7d 135px,#c3ff3c 138px,#f5ff0a 144px,#ffeb00 149px,#ffbf00 151px,#ffd300 153px,#ffc600 156px,#ffd000 157px,#80ff80 158px,#80ff80 165px,#8dff72 166px,#ff4b00 167px,#ff2000 168px,#ae0000 169px,#830000 170px,#800000 210px)"></i>
<i style="left:406px;top:561px;width:211px;background:linear-gradient(90deg,#000080,#000080 92px,#0070ff 93px,#00cdff 96px,#1cffe3 97px,#78ff87 98px,#7aff85 104px,#1cffe3 106px,#02fffd 107px,#0dfff2 110px,#45ffba 114px,#4bffb4 116px,#80ff7f 118px,#81ff7e 122px,#acff53 124px,#eaff15 125px,#ffd900 126px,#ffda00 129px,#c5ff3a 130px,#beff41 131px,#8f7 133px,#7dff82 134px,#b0ff4f 136px,#deff21 141px,#fff200 145px,#ffeb00 149px,#ffbf00 151px,#ffd500 154px,#ffd500 157px,#80ff80 158px,#80ff80 165px,#f6ff09 166px,#ff4b00 167px,#ff2000 168px,#c40000 169px,#830000 170px,#800000 210px)"></i>
<i style="left:406px;top:562px;width:211px;background:linear-gradient(90deg,#000080,#000080 91px,#000fff 92px,#0085ff 93px,#00d7ff 96px,#1cffe3 97px,#78ff87 98px,#7aff85 104px,#1cffe3 106px,#04fffb 107px,#0cfff3 109px,#25ffda 112px,#4fb 114px,#45ffba 116px,#67ff98 117px,#8bff74 119px,#81ff7e 122px,#b9ff46 124px,#e9ff16 125px,#ffd900 126px,#ffda00 129px,#c8ff37 130px,#95ff6a 134px,#c7ff38 138px,#cbff34 140px,#fffd00 143px,#fff400 149px,#ffd100 150px,#ffd700 153px,#80ff80 154px,#80ff80 164px,#a7ff58 165px,#ff8900 166px,#ff3e00 167px,#ff1a00 168px,#c40000 169px,#850000 170px,#800000 210px)"></i>
<i style="left:406px;top:563px;width:211px;background:linear-gradient(90deg,#000080,#000080 91px,#0045ff 92px,#09f 93px,#0bf 95px,#00e2ff 96px,#1cffe3 97px,#78ff87 98px,#7dff82 104px,#2bffd4 106px,#06fff9 108px,#21ffde 110px,#25ffda 112px,#4fb 114px,#4bffb4 116px,#84ff7b 119px,#8f7 122px,#e0ff1f 125px,#ffd900 126px,#ffda00 129px,#c9ff36 130px,#9eff61 132px,#b0ff4f 136px,#cfff30 137px,#cbff34 140px,#f9ff06 142px,#fff400 149px,#ffd100 151px,#ffd800 153px,#80ff80 154px,#80ff80 164px,#ffdc00 165px,#ff7b00 166px,#ff3e00 167px,#ff2100 168px,#d00000 169px,#870000 170px,#800000 210px)"></i>
<i style="left:406px;top:564px;width:211px;background:linear-gradient(90deg,#000080,#000080 90px,#001fff 91px,#00a0ff 93px,#00dcff 95px,#06fff9 96px,#1effe1 97px,#78ff87 98px,#7dff82 104px,#4cffb3 105px,#19ffe6 108px,#25ffda 112px,#4fb 113px,#50ffaf 116px,#8f7 120px,#8f7 122px,#adff52 123px,#d5ff2a 125px,#ffde00 126px,#ffda00 129px,#c9ff36 130px,#adff52 133px,#acff53 135px,#cfff30 137px,#cbff34 140px,#fbff04 142px,#fff600 148px,#fff600 149px,#ffdb00 150px,#ffd600 152px,#80ff80 153px,#80ff80 163px,#98ff67 164px,#ff8000 165px,#ff4600 166px,#ff3c00 167px,#ff1a00 168px,#d00000 169px,#940000 170px,#810000 173px,#800000 210px)"></i>
<i style="left:406px;top:565px;width:211px;background:linear-gradient(90deg,#000080,#000080 89px,#001bff 90px,#005aff 91px,#0073ff 92px,#00a0ff 93px,#00b3ff 94px,#00e1ff 95px,#16ffe9 96px,#1effe1 97px,#74ff8b 98px,#7cff83 104px,#4affb5 105px,#1cffe3 108px,#25ffda 112px,#4fb 113px,#6cff93 118px,#85ff7a 120px,#8cff73 122px,#b0ff4f 124px,#d5ff2a 125px,#ffda00 126px,#ffda00 129px,#c8ff37 130px,#afff50 133px,#caff35 138px,#fff700 142px,#ffe300 147px,#fffa00 148px,#ffe700 150px,#ffd600 152px,#80ff80 153px,#80ff80 163px,#ff9e00 164px,#ff5b00 166px,#ff2600 167px,#ff1c00 168px,#d00000 169px,#9b0000 170px,#850000 171px,#800000 210px)"></i>
<i style="left:406px;top:566px;width:211px;background:linear-gradient(90deg,#000080,#000080 89px,#0041ff 90px,#00abff 93px,#06fff9 96px,#2cffd3 97px,#6cff93 98px,#7cff83 104px,#4bffb4 105px,#24ffdb 108px,#25ffda 112px,#47ffb8 113px,#6cff93 118px,#89ff76 120px,#8eff71 122px,#acff53 123px,#b2ff4d 124px,#d5ff2a 125px,#ffde00 126px,#ffd900 129px,#c8ff37 130px,#c1ff3e 135px,#caff35 138px,#fff700 142px,#ffdf00 147px,#fffe00 148px,#fffe00 149px,#ffdf00 150px,#ffd900 151px,#80ff80 152px,#80ff80 162px,#8cff73 163px,#ff9500 164px,#ff5b00 166px,#ff2600 167px,#ed0000 169px,#a40000 170px,#850000 171px,#800000 210px)"></i>
<i style="left:406px;top:567px;width:211px;background:linear-gradient(90deg,#000080,#000080 88px,#000eff 89px,#007fff 91px,#0087ff 92px,#00b3ff 93px,#04fffb 96px,#6cff93 98px,#7cff83 104px,#4bffb4 105px,#14ffeb 109px,#26ffd9 112px,#46ffb9 113px,#6fff90 118px,#89ff76 120px,#90ff6f 122px,#d5ff2a 125px,#ffe100 126px,#ffd900 129px,#c8ff37 130px,#c3ff3c 137px,#dbff24 140px,#fff300 142px,#ffdf00 147px,#fdff02 148px,#fdff02 149px,#ffe700 150px,#80ff80 151px,#80ff80 162px,#dcff23 163px,#ff9500 164px,#ff5b00 166px,#ff2800 167px,#ff1c00 168px,#d90000 169px,#830000 171px,#800000 210px)"></i>
<i style="left:406px;top:568px;width:211px;background:linear-gradient(90deg,#000080,#000080 87px,#0000d1 88px,#003fff 89px,#0070ff 90px,#008cff 92px,#00baff 93px,#04fffb 96px,#74ff8b 98px,#7cff83 104px,#4fffb0 105px,#16ffe9 108px,#26ffd9 112px,#57ffa8 114px,#5affa5 116px,#89ff76 119px,#9dff62 120px,#93ff6c 122px,#cbff34 125px,#ffe100 126px,#ffd900 129px,#ceff31 130px,#bfff40 137px,#dbff24 139px,#edff12 141px,#ffed00 143px,#fd0 146px,#f6ff09 148px,#fff800 150px,#80ff80 151px,#80ff80 162px,#ffcd00 163px,#ff6900 165px,#ff1200 168px,#ba0000 170px,#830000 171px,#800000 210px)"></i>
<i style="left:406px;top:569px;width:211px;background:linear-gradient(90deg,#000080,#000080 87px,#0004ff 88px,#07f 90px,#00baff 93px,#0dfff2 96px,#78ff87 98px,#7dff82 104px,#4fffb0 105px,#16ffe9 108px,#2affd5 112px,#57ffa8 114px,#57ffa8 116px,#76ff89 118px,#96ff69 120px,#94ff6b 123px,#c9ff36 125px,#fd0 126px,#ffd900 129px,#efff10 130px,#c5ff3a 131px,#cdff32 134px,#c1ff3e 137px,#dbff24 139px,#edff12 141px,#ffed00 143px,#fd0 146px,#f9ff06 148px,#f9ff06 149px,#80ff80 150px,#80ff80 161px,#fffb00 162px,#ff8e00 164px,#ff1200 168px,#cb0000 170px,#830000 171px,#800000 210px)"></i>
<i style="left:406px;top:570px;width:211px;background:linear-gradient(90deg,#000080,#000080 86px,#0000e6 87px,#003fff 88px,#0054ff 89px,#008cff 90px,#00a6ff 92px,#00f7ff 95px,#0dfff2 96px,#30ffcf 97px,#76ff89 98px,#7dff82 104px,#3cffc3 106px,#16ffe9 108px,#37ffc8 112px,#52ffad 114px,#5bffa4 117px,#96ff69 119px,#9f6 124px,#bcff43 125px,#ffd900 126px,#ffd900 129px,#f3ff0c 130px,#d4ff2b 131px,#bcff43 136px,#dfff20 138px,#e1ff1e 141px,#fffe00 142px,#ffd600 147px,#fcff03 148px,#f9ff06 149px,#80ff80 150px,#80ff80 161px,#ffc600 162px,#ff8300 164px,#f70 165px,#ff4b00 166px,#ff4300 167px,#ff0b00 168px,#c60000 170px,#800 171px,#800000 210px)"></i>
<i style="left:406px;top:571px;width:211px;background:linear-gradient(90deg,#000080,#000080 85px,#0000b8 86px,#0026ff 87px,#0054ff 88px,#005bff 89px,#00a2ff 91px,#00f7ff 95px,#09fff6 96px,#2dffd2 97px,#78ff87 98px,#7dff82 104px,#3cffc3 106px,#15ffea 108px,#15ffea 109px,#52ffad 114px,#5dffa2 117px,#8fff70 119px,#9f6 124px,#b3ff4c 125px,#ffd900 126px,#ffd600 129px,#f5ff0a 130px,#d9ff26 131px,#d4ff2b 133px,#bf4 135px,#bcff43 136px,#e1ff1e 138px,#e1ff1e 141px,#fcff03 142px,#ffd600 147px,#fcff03 148px,#80ff80 149px,#80ff80 160px,#fffc00 161px,#ff9f00 163px,#ff4800 166px,#ff4300 167px,#ff0b00 168px,#f00000 169px,#820000 172px,#800000 210px)"></i>
<i style="left:406px;top:572px;width:211px;background:linear-gradient(90deg,#000080,#000080 85px,#0000fc 86px,#0087ff 88px,#0080ff 89px,#09fff6 96px,#30ffcf 97px,#7bff84 98px,#7dff82 104px,#3effc1 106px,#15ffea 108px,#15ffea 109px,#35ffca 111px,#5bffa4 114px,#5bffa4 117px,#8fff70 119px,#96ff69 121px,#92ff6d 123px,#bcff43 125px,#ffd700 126px,#ffd600 129px,#f5ff0a 130px,#d8ff27 131px,#d2ff2d 133px,#bf4 135px,#e1ff1e 138px,#e6ff19 141px,#fff200 144px,#ffd600 146px,#ffdc00 147px,#fcff03 148px,#80ff80 149px,#80ff80 159px,#95ff6a 160px,#ffd700 161px,#ffa500 162px,#ff8200 164px,#ff4800 166px,#f00 169px,#a40000 171px,#820000 172px,#800000 210px)"></i>
<i style="left:406px;top:573px;width:211px;background:linear-gradient(90deg,#000080,#000080 84px,#0000f3 85px,#006dff 87px,#08f 88px,#0091ff 90px,#00d7ff 93px,#00f6ff 95px,#14ffeb 96px,#7bff84 98px,#7dff82 104px,#40ffbf 106px,#1affe5 109px,#37ffc8 111px,#5bffa4 114px,#5dffa2 117px,#8fff70 119px,#9dff62 121px,#8bff74 123px,#b5ff4a 125px,#ffd900 126px,#ffd600 129px,#fff100 130px,#d8ff27 131px,#bf4 135px,#dfff20 137px,#e6ff19 141px,#fff200 144px,#ffdc00 146px,#ffe500 147px,#80ff80 148px,#80ff80 159px,#f2ff0d 160px,#ffab00 161px,#ffa500 162px,#ff3600 166px,#f00 169px,#c80000 170px,#820000 172px,#800000 210px)"></i>
<i style="left:406px;top:574px;width:211px;background:linear-gradient(90deg,#000080,#000080 83px,#00008f 84px,#0004ff 85px,#0074ff 87px,#008eff 88px,#09f 90px,#00b9ff 91px,#00f6ff 95px,#40ffbf 97px,#78ff87 98px,#7dff82 104px,#2bffd4 107px,#45ffba 112px,#60ff9f 116px,#63ff9c 117px,#9dff62 120px,#8bff74 123px,#b5ff4a 125px,#ffd900 126px,#ffdf00 130px,#d8ff27 131px,#cbff34 135px,#e0ff1f 139px,#f6ff09 142px,#ffea00 143px,#ffe800 147px,#80ff80 148px,#80ff80 159px,#ffe000 160px,#ffa900 161px,#ffa200 162px,#ff3b00 166px,#ff2400 168px,#f40000 169px,#820000 172px,#800000 210px)"></i>
<i style="left:406px;top:575px;width:211px;background:linear-gradient(90deg,#000080,#000080 83px,#0000f9 84px,#007bff 87px,#0096ff 88px,#00a2ff 90px,#00f9ff 95px,#39ffc6 97px,#78ff87 98px,#7dff82 104px,#31ffce 107px,#3effc1 111px,#63ff9c 116px,#63ff9c 117px,#90ff6f 119px,#9dff62 121px,#98ff67 124px,#abff54 125px,#ffd900 126px,#ffdc00 130px,#d7ff28 131px,#dcff23 136px,#e5ff1a 141px,#f6ff09 142px,#ffe200 143px,#ffe800 146px,#80ff80 147px,#80ff80 158px,#c8ff37 159px,#ffbe00 160px,#ff2400 168px,#f40000 169px,#b50000 171px,#820000 172px,#800000 210px)"></i>
<i style="left:406px;top:576px;width:211px;background:linear-gradient(90deg,#000080,#000080 82px,#0000e6 83px,#0008ff 84px,#0082ff 87px,#0096ff 88px,#00a5ff 90px,#02fffd 95px,#0cfff3 96px,#78ff87 98px,#7dff82 104px,#32ffcd 107px,#63ff9c 117px,#81ff7e 118px,#a3ff5c 120px,#98ff67 123px,#acff53 125px,#ffdc00 126px,#ffd800 130px,#ecff13 131px,#d4ff2b 132px,#e0ff1f 139px,#e5ff1a 141px,#fff000 144px,#fff400 145px,#80ff80 146px,#80ff80 158px,#ffed00 159px,#ffba00 160px,#ff3900 167px,#f60000 169px,#bc0000 171px,#820000 172px,#800000 210px)"></i>
<i style="left:406px;top:577px;width:211px;background:linear-gradient(90deg,#000080,#000080 82px,#0000f9 83px,#002dff 84px,#0098ff 88px,#00ebff 94px,#0cfff3 96px,#7cff83 98px,#7dff82 104px,#35ffca 107px,#4cffb3 113px,#67ff98 115px,#67ff98 117px,#98ff67 120px,#97ff68 123px,#b7ff48 125px,#ffe600 126px,#ffd600 128px,#ffd800 130px,#e3ff1c 131px,#dcff23 134px,#e6ff19 138px,#e5ff1a 141px,#fffb00 142px,#fff500 145px,#80ff80 146px,#80ff80 158px,#ffd000 159px,#ffa200 160px,#ff5300 166px,#ff0c00 168px,#ff0400 169px,#bd0000 171px,#8c0000 172px,#800000 199px,#800000 210px)"></i>
<i style="left:406px;top:578px;width:211px;background:linear-gradient(90deg,#000080,#000080 81px,#0000e4 82px,#002bff 83px,#006cff 86px,#0091ff 87px,#0bf 91px,#00f4ff 94px,#1fe 96px,#7f8 98px,#7cff83 104px,#3bffc4 107px,#4cffb3 113px,#65ff9a 114px,#68ff97 117px,#8bff74 120px,#93ff6c 123px,#bcff43 125px,#ff0 126px,#ffd700 127px,#ffd700 130px,#e3ff1c 131px,#dcff23 134px,#e6ff19 138px,#e5ff1a 141px,#ffec00 144px,#80ff80 145px,#80ff80 157px,#fffb00 158px,#ffa000 160px,#ff5200 166px,#ff0400 169px,#e00 170px,#980000 172px,#830000 173px,#800000 210px)"></i>
<i style="left:406px;top:579px;width:211px;background:linear-gradient(90deg,#000080,#000080 80px,#0007ff 82px,#006aff 85px,#00a2ff 88px,#00b2ff 90px,#00feff 95px,#3bffc4 97px,#7f8 98px,#7cff83 104px,#41ffbe 107px,#4affb5 113px,#65ff9a 114px,#67ff98 117px,#8bff74 121px,#93ff6c 123px,#bcff43 125px,#f5ff0a 126px,#ffd700 127px,#ffd700 130px,#e3ff1c 131px,#dfff20 134px,#e6ff19 138px,#e1ff1e 141px,#feff01 142px,#ffec00 144px,#80ff80 145px,#80ff80 157px,#ffda00 158px,#ff9200 161px,#ff2800 168px,#ff0400 169px,#e00 170px,#9b0000 172px,#850000 173px,#800000 210px)"></i>
<i style="left:406px;top:580px;width:211px;background:linear-gradient(90deg,#000080,#000080 80px,#0000e3 81px,#0015ff 82px,#05f 84px,#0076ff 86px,#009aff 87px,#00b2ff 90px,#00d1ff 91px,#00feff 95px,#38ffc7 97px,#78ff87 98px,#7cff83 104px,#4dffb2 107px,#40ffbf 111px,#4bffb4 113px,#63ff9c 114px,#74ff8b 118px,#7cff83 119px,#98ff67 120px,#8bff74 122px,#bf4 124px,#c1ff3e 125px,#f4ff0b 126px,#ffd700 127px,#ffd700 130px,#e9ff16 131px,#d9ff26 133px,#eaff15 136px,#e1ff1e 141px,#feff01 143px,#80ff80 144px,#80ff80 156px,#ffe400 157px,#ffda00 158px,#ffa100 160px,#ff3400 167px,#ff0d00 169px,#d50000 171px,#830000 173px,#800000 210px)"></i>
<i style="left:406px;top:581px;width:211px;background:linear-gradient(90deg,#000080,#000080 79px,#01f 81px,#0065ff 84px,#007bff 86px,#009dff 87px,#00a7ff 89px,#00d1ff 91px,#00f4ff 94px,#2dffd2 97px,#7cff83 98px,#7dff82 104px,#51ffae 107px,#37ffc8 111px,#67ff98 115px,#74ff8b 118px,#98ff67 120px,#98ff67 122px,#beff41 124px,#c1ff3e 125px,#efff10 126px,#ffd700 127px,#ffd800 130px,#e9ff16 131px,#e0ff1f 134px,#e6ff19 137px,#e1ff1e 141px,#fbff04 143px,#80ff80 144px,#80ff80 156px,#ffe100 157px,#ffd500 158px,#ffaf00 159px,#ff6200 164px,#ff0d00 169px,#d80000 171px,#850000 173px,#800000 210px)"></i>
<i style="left:406px;top:582px;width:211px;background:linear-gradient(90deg,#000080,#000080 78px,#000096 79px,#0000ed 80px,#003eff 82px,#0083ff 86px,#00a3ff 87px,#00abff 89px,#00f4ff 93px,#17ffe8 96px,#2dffd2 97px,#7cff83 98px,#76ff89 105px,#54ffab 106px,#37ffc8 111px,#5bffa4 113px,#6dff92 116px,#6aff95 118px,#94ff6b 120px,#a8ff57 123px,#e1ff1e 126px,#ffda00 127px,#ffd800 130px,#f2ff0d 131px,#daff25 132px,#e6ff19 137px,#e0ff1f 141px,#e5ff1a 142px,#80ff80 143px,#80ff80 155px,#e6ff19 156px,#ffe000 157px,#ff8a00 161px,#ff4a00 166px,#ff2500 167px,#ff0b00 169px,#d80000 171px,#850000 173px,#800000 210px)"></i>
<i style="left:406px;top:583px;width:211px;background:linear-gradient(90deg,#000080,#000080 78px,#0000dc 79px,#0002ff 80px,#004eff 82px,#0089ff 86px,#00b4ff 88px,#00c2ff 90px,#02fffd 94px,#3fc 97px,#7cff83 98px,#7dff82 105px,#4effb1 106px,#39ffc6 111px,#6dff92 115px,#67ff98 117px,#a0ff5f 121px,#a8ff57 123px,#e0ff1f 126px,#ffdc00 127px,#ffd700 130px,#f2ff0d 131px,#e1ff1e 133px,#e3ff1c 142px,#80ff80 143px,#80ff80 155px,#fff900 156px,#ffd500 157px,#ffac00 160px,#f80 161px,#ff4a00 166px,#ff0600 169px,#dc0000 171px,#9a0000 173px,#820000 174px,#800000 210px)"></i>
<i style="left:406px;top:584px;width:211px;background:linear-gradient(90deg,#000080,#000080 77px,#0000f4 79px,#01f 80px,#0043ff 81px,#006cff 84px,#00b0ff 87px,#00c6ff 90px,#02fffd 94px,#20ffdf 96px,#42ffbd 97px,#7dff82 98px,#7eff81 105px,#4effb1 106px,#3affc5 111px,#57ffa8 113px,#7bff84 119px,#a0ff5f 120px,#aeff51 123px,#deff21 126px,#ffdc00 127px,#ffd700 130px,#fbff04 131px,#e1ff1e 132px,#dcff23 139px,#cfff30 141px,#80ff80 142px,#80ff80 154px,#f1ff0e 155px,#ffba00 158px,#ff8a00 161px,#ff4a00 166px,#ff0200 169px,#c10000 172px,#820000 174px,#800000 210px)"></i>
<i style="left:406px;top:585px;width:211px;background:linear-gradient(90deg,#000080,#000080 77px,#0000e7 78px,#00f 79px,#002eff 80px,#00baff 88px,#00c6ff 90px,#02fffd 94px,#0afff5 95px,#2dffd2 96px,#34ffcb 97px,#7dff82 98px,#7eff81 105px,#56ffa9 106px,#3affc5 111px,#57ffa8 113px,#7aff85 119px,#a1ff5e 120px,#b7ff48 124px,#deff21 126px,#ffdc00 127px,#ffd700 130px,#fff900 131px,#e2ff1d 132px,#e6ff19 138px,#c9ff36 140px,#c9ff36 141px,#80ff80 142px,#80ff80 154px,#f9ff06 155px,#ffb600 158px,#ffa000 160px,#ff7400 162px,#ff4500 166px,#ff0200 169px,#c90000 172px,#820000 174px,#800000 210px)"></i>
<i style="left:406px;top:586px;width:211px;background:linear-gradient(90deg,#000080,#000080 76px,#0000ce 77px,#0000f9 78px,#006cff 83px,#00baff 88px,#04fffb 94px,#10ffef 95px,#30ffcf 96px,#39ffc6 97px,#7dff82 98px,#7eff81 105px,#58ffa7 106px,#39ffc6 110px,#39ffc6 111px,#57ffa8 113px,#67ff98 117px,#61ff9e 118px,#a5ff5a 120px,#b7ff48 124px,#d6ff29 126px,#ffd800 127px,#ffd700 130px,#fff700 131px,#e3ff1c 132px,#e6ff19 138px,#c8ff37 140px,#80ff80 141px,#80ff80 153px,#ceff31 154px,#fff400 155px,#ffb100 158px,#ff6500 164px,#ff4a00 165px,#f40 166px,#ff2400 167px,#f40000 170px,#b30000 173px,#820000 174px,#800000 210px)"></i>
<i style="left:406px;top:587px;width:211px;background:linear-gradient(90deg,#000080,#000080 75px,#000097 76px,#0000f0 77px,#0000fc 78px,#002bff 79px,#03f 80px,#0058ff 81px,#00baff 88px,#00f4ff 93px,#10ffef 95px,#31ffce 96px,#35ffca 97px,#7cff83 98px,#7eff81 105px,#41ffbe 107px,#39ffc6 111px,#57ffa8 112px,#67ff98 117px,#65ff9a 118px,#a5ff5a 120px,#c2ff3d 125px,#d2ff2d 126px,#ffdc00 127px,#ffd600 130px,#ffea00 131px,#e3ff1c 132px,#e6ff19 138px,#ceff31 139px,#cf3 140px,#80ff80 141px,#80ff80 153px,#fbff04 154px,#ffa900 158px,#ff5a00 164px,#ff4300 166px,#ff2400 167px,#f40000 170px,#e90000 171px,#b30000 173px,#820000 174px,#800000 210px)"></i>
<i style="left:406px;top:588px;width:211px;background:linear-gradient(90deg,#000080,#000080 75px,#0000c6 76px,#0000f7 77px,#0075ff 83px,#00edff 92px,#12ffed 95px,#30ffcf 96px,#39ffc6 97px,#7dff82 98px,#7fff80 105px,#41ffbe 107px,#39ffc6 111px,#57ffa8 112px,#71ff8e 118px,#a0ff5f 120px,#aeff51 124px,#d5ff2a 126px,#ffd800 127px,#ffd500 131px,#e8ff17 132px,#e6ff19 138px,#d0ff2f 139px,#80ff80 140px,#80ff80 152px,#edff12 153px,#ffe100 155px,#ffa200 159px,#ffa200 160px,#ff7400 162px,#ff6e00 163px,#ff4500 165px,#ff4300 166px,#f50000 170px,#de0000 172px,#830000 174px,#800000 210px)"></i>
<i style="left:406px;top:589px;width:211px;background:linear-gradient(90deg,#000080,#000080 74px,#0000df 76px,#000aff 77px,#0012ff 78px,#0045ff 80px,#0091ff 84px,#009dff 86px,#00c4ff 88px,#00d2ff 90px,#00ebff 91px,#12ffed 95px,#3fc 96px,#39ffc6 97px,#7dff82 98px,#7fff80 105px,#5bffa4 106px,#3bffc4 111px,#57ffa8 112px,#74ff8b 118px,#a0ff5f 120px,#aeff51 124px,#d2ff2d 126px,#ffda00 127px,#ffd500 131px,#efff10 132px,#e6ff19 138px,#d6ff29 139px,#80ff80 140px,#80ff80 152px,#fffe00 153px,#ffab00 158px,#ffa200 160px,#ff7000 162px,#ff1f00 168px,#ff0200 170px,#df0000 172px,#8b0000 174px,#800000 208px,#800000 210px)"></i>
<i style="left:406px;top:590px;width:211px;background:linear-gradient(90deg,#000080,#000080 73px,#00008c 74px,#0000d1 75px,#0000f5 76px,#004fff 80px,#0098ff 85px,#009dff 86px,#00c3ff 88px,#00d2ff 90px,#00f9ff 93px,#17ffe8 95px,#41ffbe 97px,#7dff82 98px,#7fff80 105px,#5bffa4 106px,#36ffc9 110px,#3bffc4 111px,#5fffa0 113px,#74ff8b 118px,#93ff6c 119px,#b1ff4e 122px,#aeff51 124px,#c8ff37 126px,#ffd700 127px,#ffd500 131px,#efff10 132px,#e6ff19 138px,#80ff80 139px,#80ff80 151px,#d4ff2b 152px,#fff300 153px,#ffc300 157px,#ffa900 158px,#ff7400 162px,#ff0200 170px,#df0000 172px,#930000 174px,#820000 176px,#800000 210px)"></i>
<i style="left:406px;top:591px;width:211px;background:linear-gradient(90deg,#000080,#000080 73px,#0000bf 74px,#0002ff 76px,#0059ff 80px,#00b0ff 86px,#00c5ff 88px,#00e7ff 91px,#08fff7 94px,#41ffbe 97px,#7bff84 98px,#7fff80 105px,#53ffac 107px,#3bffc4 110px,#3dffc2 111px,#5fffa0 113px,#75ff8a 118px,#b2ff4d 121px,#afff50 124px,#c8ff37 126px,#ffd700 127px,#ffd500 131px,#f1ff0e 132px,#e6ff19 138px,#80ff80 139px,#80ff80 151px,#ebff14 152px,#ffd900 154px,#ffa600 159px,#ff5200 164px,#f90000 171px,#9b0000 174px,#820000 175px,#800000 210px)"></i>
<i style="left:406px;top:592px;width:211px;background:linear-gradient(90deg,#000080,#000080 72px,#000094 73px,#0000dc 74px,#0009ff 76px,#003eff 78px,#00bdff 87px,#00d2ff 90px,#00fbff 93px,#17ffe8 95px,#41ffbe 97px,#7bff84 98px,#7fff80 105px,#3bffc4 108px,#40ffbf 111px,#60ff9f 113px,#75ff8a 118px,#b2ff4d 121px,#afff50 124px,#c7ff38 126px,#ffd700 127px,#ffd500 131px,#f6ff09 132px,#dfff20 134px,#e6ff19 137px,#80ff80 138px,#80ff80 151px,#fffb00 152px,#ffcb00 155px,#ffab00 158px,#ff9100 159px,#ff6000 163px,#f90000 171px,#d00000 172px,#c30000 173px,#830000 175px,#800000 210px)"></i>
<i style="left:406px;top:593px;width:211px;background:linear-gradient(90deg,#000080,#000080 72px,#0000d3 73px,#0009ff 75px,#0049ff 79px,#0068ff 80px,#09fff6 94px,#3effc1 97px,#7bff84 98px,#7fff80 105px,#3affc5 108px,#30ffcf 110px,#5cffa3 113px,#7aff85 118px,#aeff51 121px,#c4ff3b 126px,#fffc00 127px,#ffd600 128px,#ffd500 131px,#fffd00 132px,#dbff24 133px,#e5ff1a 137px,#80ff80 138px,#80ff80 150px,#e6ff19 151px,#fff900 152px,#ffc300 155px,#ffab00 158px,#ff8300 160px,#ff8200 161px,#ff6300 162px,#f90000 171px,#830000 175px,#800000 210px)"></i>
<i style="left:406px;top:594px;width:211px;background:linear-gradient(90deg,#000080,#000080 71px,#0000d3 72px,#000eff 75px,#003aff 77px,#00ecff 91px,#0bfff4 94px,#3effc1 97px,#7aff85 98px,#7fff80 105px,#39ffc6 108px,#30ffcf 110px,#5cffa3 112px,#62ff9d 114px,#79ff86 116px,#80ff7f 118px,#b2ff4d 122px,#c4ff3b 126px,#f7ff08 127px,#ffd500 128px,#ffd500 131px,#fff800 132px,#dbff24 133px,#daff25 135px,#e4ff1b 136px,#80ff80 137px,#80ff80 149px,#9bff64 150px,#e8ff17 151px,#fff500 152px,#ffc400 154px,#ffa900 158px,#ff5e00 163px,#ff2000 169px,#f90000 171px,#8a0000 175px,#800000 210px)"></i>
<i style="left:406px;top:595px;width:211px;background:linear-gradient(90deg,#000080,#000080 70px,#0000e2 72px,#0002ff 74px,#0021ff 75px,#009dff 84px,#02fffd 93px,#3effc1 97px,#78ff87 98px,#7fff80 105px,#54ffab 107px,#1bffe4 108px,#1bffe4 109px,#53ffac 111px,#7aff85 116px,#80ff7f 118px,#b2ff4d 122px,#b3ff4c 125px,#f2ff0d 127px,#ffd500 128px,#ffd500 131px,#fffd00 132px,#d9ff26 133px,#e3ff1c 136px,#80ff80 137px,#80ff80 149px,#d2ff2d 150px,#fdff02 151px,#fffd00 152px,#ffbe00 154px,#ffb800 157px,#ff8300 160px,#ff3400 168px,#ff0100 170px,#ae0000 174px,#820000 176px,#800000 210px)"></i>
<i style="left:406px;top:596px;width:211px;background:linear-gradient(90deg,#000080,#000080 70px,#0000f2 72px,#000eff 74px,#003cff 76px,#00f0ff 91px,#0ffff0 94px,#48ffb7 97px,#78ff87 98px,#7fff80 105px,#57ffa8 107px,#28ffd7 108px,#28ffd7 109px,#49ffb6 110px,#7fff80 116px,#80ff7f 118px,#abff54 121px,#b2ff4d 124px,#d0ff2f 126px,#f1ff0e 127px,#ffd500 128px,#ffd500 131px,#fff600 132px,#deff21 133px,#deff21 135px,#80ff80 136px,#80ff80 149px,#d7ff28 150px,#fdff02 151px,#ffe700 153px,#ffbe00 154px,#ffa000 158px,#ff3e00 166px,#ff3900 168px,#f50000 171px,#b80000 174px,#820000 176px,#800000 210px)"></i>
<i style="left:406px;top:597px;width:211px;background:linear-gradient(90deg,#000080,#000080 69px,#0000c2 71px,#0000fb 72px,#0015ff 74px,#003cff 76px,#00d2ff 87px,#00e5ff 90px,#02fffd 93px,#3fc 96px,#48ffb7 97px,#78ff87 98px,#7fff80 105px,#4fb 108px,#51ffae 111px,#7fff80 116px,#80ff7f 118px,#a5ff5a 121px,#aeff51 124px,#cdff32 126px,#efff10 127px,#ffd500 128px,#ffd500 131px,#fffd00 132px,#dcff23 133px,#deff21 135px,#80ff80 136px,#80ff80 148px,#caff35 149px,#f7ff08 150px,#ffdb00 153px,#ffbe00 154px,#ffa000 158px,#ff3e00 166px,#ff3700 168px,#ff0600 170px,#ba0000 174px,#820000 176px,#800000 210px)"></i>
<i style="left:406px;top:598px;width:211px;background:linear-gradient(90deg,#000080,#000080 69px,#0000f3 71px,#0016ff 72px,#0018ff 74px,#0074ff 80px,#00d7ff 88px,#00feff 93px,#3fc 96px,#4bffb4 97px,#79ff86 98px,#7aff85 106px,#54ffab 107px,#47ffb8 110px,#7fff80 115px,#7fff80 118px,#a5ff5a 121px,#a8ff57 124px,#caff35 126px,#ebff14 127px,#ffd500 128px,#ffd500 131px,#fff600 132px,#e0ff1f 133px,#dbff24 134px,#80ff80 135px,#80ff80 148px,#e0ff1f 149px,#fe0 151px,#ffb200 156px,#ff4300 166px,#ff4300 167px,#ff0600 170px,#c20000 174px,#820000 176px,#800000 210px)"></i>
<i style="left:406px;top:599px;width:211px;background:linear-gradient(90deg,#000080,#000080 68px,#000cff 71px,#0030ff 75px,#007bff 80px,#00beff 86px,#00d8ff 88px,#01fffe 93px,#4affb5 97px,#78ff87 98px,#7eff81 106px,#51ffae 107px,#46ffb9 110px,#7fff80 115px,#7fff80 118px,#aeff51 121px,#b0ff4f 124px,#caff35 126px,#ebff14 127px,#ffd500 128px,#ffd500 131px,#ffe900 132px,#e5ff1a 133px,#d8ff27 134px,#80ff80 135px,#80ff80 147px,#c4ff3b 148px,#edff12 149px,#ffec00 151px,#ffab00 157px,#ff6700 162px,#ff3f00 167px,#ff0400 170px,#c40000 174px,#830000 176px,#800000 210px)"></i>
<i style="left:406px;top:600px;width:211px;background:linear-gradient(90deg,#000080,#000080 67px,#000091 68px,#0000eb 70px,#0010ff 71px,#00e3ff 89px,#00fbff 93px,#4affb5 97px,#78ff87 98px,#7eff81 106px,#54ffab 107px,#47ffb8 110px,#76ff89 113px,#7fff80 118px,#afff50 121px,#c2ff3d 125px,#e1ff1e 127px,#ffd500 128px,#ffd500 132px,#e5ff1a 133px,#80ff80 134px,#80ff80 147px,#d0ff2f 148px,#f7ff08 149px,#ff8c00 159px,#ff6900 161px,#ff4b00 166px,#ff0400 170px,#da0000 173px,#890000 176px,#800000 210px)"></i>
<i style="left:406px;top:601px;width:211px;background:linear-gradient(90deg,#000080,#000080 67px,#0000e1 69px,#0010ff 71px,#002eff 73px,#00dcff 88px,#01fffe 93px,#4affb5 97px,#7cff83 98px,#7eff81 106px,#51ffae 108px,#69ff96 112px,#7fff80 117px,#98ff67 120px,#afff50 121px,#b9ff46 124px,#deff21 127px,#ffd500 128px,#ffd500 132px,#e5ff1a 133px,#80ff80 134px,#80ff80 146px,#c7ff38 147px,#feff01 149px,#fc0 154px,#ffae00 155px,#ff8700 159px,#ff6c00 160px,#ff5400 165px,#fd0000 171px,#ac0000 175px,#800000 177px,#800000 210px)"></i>
<i style="left:406px;top:602px;width:211px;background:linear-gradient(90deg,#000080,#000080 66px,#00f 70px,#0035ff 73px,#00c7ff 86px,#02fffd 93px,#4affb5 97px,#7cff83 98px,#7eff81 106px,#52ffad 108px,#53ffac 110px,#7fff80 115px,#80ff7f 118px,#afff50 121px,#c7ff38 125px,#e1ff1e 127px,#ffd500 128px,#ffd500 132px,#80ff80 133px,#80ff80 146px,#d0ff2f 147px,#f7ff08 148px,#ffc600 154px,#ffa200 156px,#ff8700 159px,#ff6c00 161px,#ff5b00 165px,#ff0200 171px,#b10000 175px,#820000 177px,#800000 210px)"></i>
<i style="left:406px;top:603px;width:211px;background:linear-gradient(90deg,#000080,#000080 66px,#0000bd 67px,#0000fb 69px,#03f 72px,#0059ff 76px,#0bf 85px,#00feff 92px,#4affb5 97px,#7aff85 98px,#7eff81 106px,#53ffac 108px,#63ff9c 111px,#7fff80 114px,#7fff80 118px,#b2ff4d 123px,#cfff30 126px,#e0ff1f 127px,#ffd500 128px,#ffd500 132px,#80ff80 133px,#80ff80 145px,#9bff64 146px,#f3ff0c 147px,#ffbf00 154px,#ffa200 156px,#ff8900 159px,#ff7200 161px,#ff5b00 165px,#ff1700 169px,#f10000 172px,#ba0000 175px,#820000 177px,#800000 210px)"></i>
<i style="left:406px;top:604px;width:211px;background:linear-gradient(90deg,#000080,#000080 65px,#0000d1 67px,#0004ff 69px,#003aff 72px,#00c2ff 85px,#01fffe 92px,#4affb5 97px,#78ff87 98px,#7eff81 106px,#5bffa4 108px,#5bffa4 110px,#7fff80 112px,#8bff74 119px,#b2ff4d 122px,#bdff42 125px,#e0ff1f 127px,#ffd500 128px,#ffd500 132px,#80ff80 133px,#80ff80 145px,#f3ff0c 146px,#ffd200 153px,#ffa600 155px,#ff8900 159px,#ff7200 160px,#ff5c00 164px,#ff3a00 166px,#ff2a00 168px,#f40000 172px,#9f0000 176px,#830000 177px,#800000 210px)"></i>
<i style="left:406px;top:605px;width:211px;background:linear-gradient(90deg,#000080,#000085 65px,#0000d2 67px,#000cff 69px,#04f 72px,#0073ff 78px,#01fffe 92px,#4cffb3 97px,#71ff8e 98px,#7fff80 101px,#7dff82 106px,#5bffa4 108px,#5effa1 110px,#7fff80 112px,#8aff75 119px,#bf4 124px,#e0ff1f 127px,#ffe000 128px,#ffd500 132px,#80ff80 133px,#80ff80 145px,#fdff02 146px,#ffd200 153px,#ffa600 155px,#ff6f00 162px,#ff5100 165px,#ff0600 171px,#bf0000 175px,#870000 177px,#800000 210px)"></i>
<i style="left:406px;top:606px;width:211px;background:linear-gradient(90deg,#000080,#000080 64px,#0000ce 66px,#0000f7 68px,#04f 71px,#006aff 77px,#00d7ff 87px,#05fffa 92px,#4cffb3 97px,#7fff80 99px,#7dff82 106px,#5bffa4 108px,#5effa1 110px,#7fff80 112px,#8bff74 119px,#bf4 123px,#cfff30 126px,#df2 127px,#fff400 128px,#ffd500 129px,#ffd500 132px,#80ff80 133px,#80ff80 144px,#fff600 146px,#ffde00 152px,#f90 156px,#ff7100 161px,#ff6d00 163px,#ff4000 166px,#ff0400 171px,#a70000 176px,#800000 178px,#800000 210px)"></i>
<i style="left:406px;top:607px;width:211px;background:linear-gradient(90deg,#000080,#000080 63px,#0000b8 65px,#0000e4 66px,#0004ff 68px,#0048ff 71px,#0054ff 74px,#006dff 77px,#0085ff 78px,#00c6ff 85px,#0ef 90px,#09fff6 92px,#4affb5 97px,#6eff91 98px,#7fff80 100px,#7eff81 106px,#5effa1 108px,#60ff9f 110px,#7fff80 112px,#89ff76 119px,#bfff40 123px,#cbff34 126px,#fffc00 128px,#ffd500 129px,#ffd500 132px,#80ff80 133px,#80ff80 144px,#d5ff2a 145px,#fff600 146px,#ffd300 152px,#ff9200 157px,#f70 162px,#ff7400 163px,#ff3e00 166px,#ff0200 171px,#800000 178px,#800000 210px)"></i>
<i style="left:406px;top:608px;width:211px;background:linear-gradient(90deg,#000080,#000080 63px,#0000ca 65px,#0000fa 67px,#004eff 72px,#00bfff 84px,#00deff 89px,#0ff 91px,#4affb5 97px,#7fff80 99px,#76ff89 107px,#60ff9f 109px,#60ff9f 110px,#7fff80 112px,#8aff75 119px,#c3ff3c 123px,#c3ff3c 125px,#df2 127px,#faff05 128px,#ffd500 129px,#ffd500 132px,#80ff80 133px,#80ff80 143px,#f1ff0e 145px,#ffde00 148px,#ffd000 152px,#ff9100 157px,#ff6a00 163px,#ff2100 169px,#f20000 172px,#b60000 176px,#800000 178px,#800000 210px)"></i>
<i style="left:406px;top:609px;width:211px;background:linear-gradient(90deg,#000080,#000080 62px,#0000c5 64px,#0007ff 67px,#004eff 71px,#00a2ff 81px,#05fffa 92px,#4affb5 97px,#7fff80 99px,#7eff81 107px,#62ff9d 108px,#68ff97 110px,#7fff80 111px,#89ff76 119px,#b3ff4c 122px,#cfff30 123px,#bf4 124px,#f4ff0b 128px,#ffd500 129px,#ffd500 132px,#80ff80 133px,#80ff80 143px,#dcff23 144px,#fffe00 146px,#ffda00 148px,#ffd900 151px,#ff9000 157px,#f70 161px,#ff2b00 168px,#ff1a00 170px,#f00 171px,#b60000 176px,#800000 178px,#800000 210px)"></i>
<i style="left:406px;top:610px;width:211px;background:linear-gradient(90deg,#000080,#000085 62px,#00b 63px,#0002ff 66px,#0052ff 72px,#01fffe 91px,#1cffe3 94px,#37ffc8 95px,#4affb5 97px,#7fff80 99px,#7eff81 107px,#67ff98 108px,#6aff95 110px,#7fff80 111px,#8f7 119px,#9fff60 121px,#cfff30 123px,#bcff43 124px,#efff10 128px,#ffd500 129px,#ffd600 132px,#80ff80 133px,#80ff80 142px,#e0ff1f 144px,#fffe00 146px,#ffde00 147px,#ffe100 150px,#fb0 153px,#ff8e00 157px,#ff7d00 161px,#ff2c00 168px,#ff1800 170px,#f00 171px,#b60000 176px,#830000 178px,#800000 210px)"></i>
<i style="left:406px;top:611px;width:211px;background:linear-gradient(90deg,#000080,#000080 61px,#0000c5 63px,#0003ff 66px,#004bff 71px,#00a9ff 81px,#01fffe 91px,#4affb5 97px,#7fff80 99px,#7eff81 107px,#6aff95 109px,#7fff80 112px,#83ff7c 119px,#9fff60 121px,#bdff42 122px,#cfff30 126px,#e7ff18 128px,#80ff80 129px,#ffd500 130px,#80ff80 131px,#80ff80 142px,#dcff23 143px,#fffa00 146px,#ffe200 147px,#ffe100 150px,#ffb900 153px,#f80 157px,#ff8a00 160px,#ff4000 166px,#ff1500 170px,#eb0000 173px,#800000 179px,#800000 210px)"></i>
<i style="left:406px;top:612px;width:211px;background:linear-gradient(90deg,#000080,#000080 60px,#00008f 61px,#00b 62px,#0000f5 65px,#0059ff 72px,#009eff 80px,#05fffa 91px,#4affb5 97px,#7dff82 99px,#7eff81 107px,#70ff8f 109px,#7fff80 111px,#83ff7c 119px,#bdff42 122px,#ceff31 126px,#dfff20 128px,#80ff80 129px,#80ff80 141px,#e9ff16 143px,#feff01 145px,#ffd900 148px,#ffe100 149px,#ff8900 157px,#ff8a00 160px,#ff3e00 166px,#ff1d00 169px,#eb0000 173px,#800000 179px,#800000 210px)"></i>
<i style="left:406px;top:613px;width:211px;background:linear-gradient(90deg,#000080,#000080 60px,#0000d1 62px,#0000d5 63px,#0004ff 65px,#005eff 72px,#07fff8 91px,#48ffb7 97px,#7cff83 99px,#74ff8b 109px,#83ff7c 119px,#9dff62 120px,#a1ff5e 121px,#bcff43 122px,#d4ff2b 127px,#80ff80 128px,#80ff80 141px,#d2ff2d 142px,#fffe00 145px,#ffd200 148px,#ffd200 150px,#ffa700 155px,#ff9000 157px,#ff9c00 159px,#ff6000 162px,#ff3200 168px,#fe0000 172px,#ad0000 177px,#800000 179px,#800000 210px)"></i>
<i style="left:406px;top:614px;width:211px;background:linear-gradient(90deg,#000080,#000080 59px,#0000e9 63px,#0015ff 66px,#0059ff 71px,#00a5ff 80px,#07fff8 91px,#27ffd8 94px,#48ffb7 96px,#48ffb7 97px,#7cff83 99px,#84ff7b 119px,#9fff60 120px,#a3ff5c 121px,#c3ff3c 123px,#cdff32 126px,#d7ff28 127px,#80ff80 128px,#80ff80 141px,#deff21 142px,#ffed00 146px,#ffc800 150px,#ffa700 155px,#ff9100 156px,#ff9c00 159px,#ff6000 162px,#ff3200 168px,#ff0900 171px,#e50000 174px,#800000 179px,#800000 210px)"></i>
<i style="left:406px;top:615px;width:211px;background:linear-gradient(90deg,#000080,#000080 59px,#0000b4 60px,#00f 64px,#006dff 73px,#00a6ff 80px,#00fcff 90px,#28ffd7 94px,#64ff9b 98px,#7cff83 99px,#84ff7b 119px,#9fff60 120px,#a3ff5c 121px,#c1ff3e 122px,#c5ff3a 126px,#d7ff28 127px,#80ff80 128px,#80ff80 140px,#d7ff28 141px,#fcff03 144px,#fa0 154px,#ff8200 160px,#ff5b00 162px,#ff2e00 168px,#ff0200 172px,#9b0000 178px,#820000 179px,#800000 210px)"></i>
<i style="left:406px;top:616px;width:211px;background:linear-gradient(90deg,#000080,#000080 58px,#0000f5 62px,#0007ff 64px,#006fff 73px,#007dff 76px,#00b3ff 81px,#00fcff 90px,#50ffaf 97px,#7cff83 99px,#84ff7b 119px,#a3ff5c 120px,#a4ff5b 121px,#c1ff3e 122px,#c5ff3a 126px,#cfff30 127px,#80ff80 128px,#80ff80 140px,#e1ff1e 141px,#fdff02 144px,#ffed00 146px,#ffdc00 148px,#ffc300 149px,#ff8400 160px,#ff5b00 162px,#ff1500 170px,#f20000 173px,#800000 180px,#800000 210px)"></i>
<i style="left:406px;top:617px;width:211px;background:linear-gradient(90deg,#000080,#008 58px,#0000d5 60px,#00f 62px,#000bff 64px,#0030ff 67px,#006eff 72px,#0082ff 76px,#00b4ff 81px,#00c6ff 84px,#00f0ff 88px,#06fff9 91px,#62ff9d 98px,#7cff83 99px,#82ff7d 119px,#a4ff5b 120px,#c1ff3e 123px,#b9ff46 125px,#cdff32 127px,#80ff80 128px,#80ff80 139px,#e8ff17 141px,#ffef00 145px,#ffe900 147px,#ffc300 149px,#ff9700 157px,#ff7200 161px,#ff4200 165px,#ff3c00 167px,#ff0900 171px,#d80000 175px,#800000 180px,#800000 210px)"></i>
<i style="left:406px;top:618px;width:211px;background:linear-gradient(90deg,#000080,#000080 57px,#0000fb 61px,#000eff 64px,#007bff 73px,#0086ff 76px,#00b1ff 81px,#00b8ff 83px,#00f0ff 88px,#07fff8 91px,#48ffb7 97px,#7bff84 99px,#80ff7f 119px,#bf4 121px,#bfff40 126px,#c8ff37 127px,#80ff80 128px,#80ff80 139px,#d3ff2c 140px,#ff0 143px,#ffe900 147px,#ffc500 148px,#ff9700 157px,#fd0000 172px,#a90000 178px,#800000 180px,#800000 210px)"></i>
<i style="left:406px;top:619px;width:211px;background:linear-gradient(90deg,#000080,#000080 56px,#00008f 57px,#0000bf 58px,#00f 61px,#0038ff 67px,#007bff 73px,#0080ff 75px,#00b1ff 81px,#00f0ff 88px,#1cffe3 93px,#5dffa2 98px,#7dff82 99px,#80ff7f 119px,#afff50 120px,#c3ff3c 124px,#bfff40 127px,#80ff80 128px,#80ff80 138px,#bcff43 139px,#e1ff1e 140px,#fff400 144px,#fd0 147px,#ffc300 148px,#ff9700 157px,#ff3800 167px,#f30000 173px,#960000 179px,#800000 180px,#800000 210px)"></i>
<i style="left:406px;top:620px;width:211px;background:linear-gradient(90deg,#000080,#000080 56px,#0000af 57px,#0007ff 61px,#003aff 67px,#0075ff 72px,#0081ff 75px,#00aeff 80px,#00c5ff 83px,#02fffd 90px,#45ffba 97px,#7dff82 99px,#80ff7f 119px,#b5ff4a 121px,#c7ff38 124px,#bfff40 127px,#80ff80 128px,#80ff80 138px,#c7ff38 139px,#e9ff16 140px,#fff900 145px,#ffbf00 148px,#fa0 156px,#ff7d00 159px,#ff3800 167px,#ff0200 172px,#9b0000 179px,#800000 180px,#800000 210px)"></i>
<i style="left:406px;top:621px;width:211px;background:linear-gradient(90deg,#000080,#000080 55px,#0000da 58px,#0000dc 59px,#000cff 61px,#0067ff 70px,#007cff 71px,#0084ff 75px,#06fff9 90px,#3fffc0 97px,#7eff81 99px,#80ff7f 119px,#a2ff5d 120px,#c7ff38 124px,#c1ff3e 126px,#c5ff3a 127px,#80ff80 128px,#80ff80 137px,#e1ff1e 139px,#fff400 143px,#ffe600 146px,#ffb700 149px,#ffb000 156px,#ff8300 158px,#ff4d00 164px,#ff3900 167px,#ff0100 172px,#b10000 178px,#800000 181px,#800000 210px)"></i>
<i style="left:406px;top:622px;width:211px;background:linear-gradient(90deg,#000080,#000080 55px,#0000c0 56px,#0000f9 60px,#006fff 70px,#0093ff 76px,#06fff9 90px,#3fffc0 97px,#7dff82 99px,#80ff7f 119px,#a3ff5c 120px,#c0ff3f 124px,#c4ff3b 127px,#80ff80 128px,#80ff80 137px,#daff25 138px,#fff500 143px,#ffdf00 146px,#ffb900 149px,#fa0 156px,#ff7800 159px,#ff6300 162px,#ff4d00 164px,#ff4a00 166px,#fc0000 172px,#a00000 179px,#800000 181px,#800000 210px)"></i>
<i style="left:406px;top:623px;width:211px;background:linear-gradient(90deg,#000080,#000080 54px,#0000c7 56px,#0009ff 60px,#005dff 69px,#0074ff 70px,#00baff 81px,#06fff9 90px,#3affc5 97px,#7eff81 99px,#80ff7f 119px,#a4ff5b 120px,#bcff43 124px,#c4ff3b 127px,#80ff80 128px,#80ff80 137px,#e6ff19 138px,#fff100 144px,#ffb600 150px,#ffb800 155px,#ff7600 159px,#ff4d00 164px,#ff3000 168px,#f60000 173px,#940000 180px,#800000 181px,#800000 210px)"></i>
<i style="left:406px;top:624px;width:211px;background:linear-gradient(90deg,#000080,#000080 53px,#00008a 54px,#0000bd 55px,#00f 59px,#0043ff 66px,#07f 71px,#00d7ff 84px,#07fff8 90px,#47ffb8 97px,#7fff80 99px,#80ff7f 119px,#a4ff5b 120px,#c1ff3e 123px,#c0ff3f 127px,#80ff80 128px,#80ff80 136px,#e6ff19 137px,#fff600 143px,#ffb400 150px,#fb0 155px,#ff7300 159px,#ff5f00 162px,#ff1a00 170px,#ec0000 174px,#980000 180px,#800000 181px,#800000 210px)"></i>
<i style="left:406px;top:625px;width:211px;background:linear-gradient(90deg,#000080,#000080 53px,#0000af 54px,#0000fc 58px,#00f 59px,#0027ff 61px,#005bff 68px,#00a5ff 78px,#00fdff 89px,#3fc 96px,#7fff80 99px,#82ff7d 119px,#aeff51 121px,#c3ff3c 124px,#bcff43 127px,#80ff80 128px,#80ff80 136px,#f2ff0d 137px,#ffec00 144px,#ffb300 150px,#ffc600 154px,#ff7400 158px,#ff5f00 162px,#f40 166px,#ff2b00 168px,#ff1f00 170px,#ff0400 172px,#c80000 177px,#800000 181px,#800000 210px)"></i>
<i style="left:406px;top:626px;width:211px;background:linear-gradient(90deg,#000080,#000080 52px,#00008f 53px,#0000d7 55px,#0000fc 58px,#0032ff 61px,#05f 67px,#009cff 76px,#07fff8 90px,#2bffd4 95px,#5cffa3 98px,#7fff80 99px,#82ff7d 119px,#beff41 122px,#baff45 127px,#80ff80 128px,#80ff80 135px,#f4ff0b 136px,#fff700 143px,#ffb700 149px,#ffcb00 154px,#ff9600 156px,#ff6f00 160px,#f40 166px,#ff2a00 168px,#fd0000 173px,#a00000 180px,#800000 182px,#800000 210px)"></i>
<i style="left:406px;top:627px;width:211px;background:linear-gradient(90deg,#000080,#000080 52px,#0000b1 53px,#0000fa 57px,#002fff 62px,#0057ff 67px,#006aff 69px,#007dff 71px,#00d1ff 83px,#00feff 89px,#2affd5 95px,#5cffa3 98px,#7fff80 99px,#89ff76 119px,#c2ff3d 124px,#b8ff47 127px,#80ff80 128px,#80ff80 134px,#f3ff0c 135px,#fff200 143px,#ffb500 150px,#ffbe00 152px,#ffd300 153px,#ffd300 154px,#ffa100 155px,#ff6e00 160px,#ff1300 171px,#e80000 175px,#800000 182px,#800000 210px)"></i>
<i style="left:406px;top:628px;width:211px;background:linear-gradient(90deg,#000080,#000080 51px,#0000c5 53px,#0004ff 58px,#002eff 60px,#004fff 66px,#006aff 68px,#006aff 70px,#008fff 72px,#00a4ff 78px,#00fdff 88px,#2effd1 95px,#5effa1 98px,#7eff81 99px,#80ff7f 118px,#beff41 123px,#a9ff56 128px,#80ff7f 129px,#80ff7f 134px,#f4ff0b 135px,#ffec00 143px,#ffb700 150px,#ffd300 154px,#ff9f00 155px,#ff5300 164px,#fd0000 173px,#910000 181px,#800000 183px,#800000 210px)"></i>
<i style="left:406px;top:629px;width:211px;background:linear-gradient(90deg,#000080,#000080 51px,#0000b4 52px,#0000d1 53px,#0004ff 57px,#0038ff 62px,#0046ff 65px,#0065ff 68px,#006aff 70px,#0089ff 71px,#00a9ff 78px,#00fdff 88px,#2fffd0 95px,#5cffa3 98px,#7eff81 99px,#8aff75 119px,#beff41 123px,#af5 127px,#80ff7f 129px,#80ff7f 134px,#fff500 135px,#fff700 142px,#ffb500 149px,#ffd400 153px,#f90 155px,#ff1400 171px,#f30000 174px,#800000 182px,#800000 210px)"></i>
<i style="left:406px;top:630px;width:211px;background:linear-gradient(90deg,#000080,#000080 50px,#00009b 51px,#0000d0 52px,#0007ff 57px,#0038ff 61px,#0047ff 65px,#0062ff 67px,#009bff 74px,#00a0ff 77px,#00e1ff 84px,#03fffc 89px,#3fc 95px,#5dffa2 98px,#7dff82 99px,#80ff7f 118px,#bdff42 124px,#a7ff58 127px,#80ff7f 128px,#80ff7f 133px,#ffde00 134px,#ffde00 135px,#fffc00 137px,#fff700 142px,#ffd400 145px,#ffb700 150px,#ffd400 153px,#ffab00 154px,#ff6500 161px,#ff1300 171px,#f50000 174px,#980000 181px,#820000 182px,#800000 210px)"></i>
<i style="left:406px;top:631px;width:211px;background:linear-gradient(90deg,#000080,#000080 50px,#0000d4 52px,#0010ff 57px,#0038ff 61px,#006dff 69px,#0094ff 72px,#0098ff 76px,#00feff 88px,#18ffe7 93px,#5cffa3 98px,#7dff82 99px,#80ff7f 118px,#b8ff47 123px,#af5 126px,#8f7 127px,#80ff7f 133px,#ffd900 134px,#ffd900 135px,#fff800 137px,#ffeb00 142px,#ffd500 145px,#ffc200 150px,#ffd400 152px,#ffd000 153px,#ffa300 154px,#ff7e00 158px,#ff6000 162px,#ff5b00 164px,#ff2900 168px,#f50000 174px,#900 181px,#800000 183px,#800000 210px)"></i>
<i style="left:406px;top:632px;width:211px;background:linear-gradient(90deg,#000080,#000080 49px,#0000d8 52px,#000cff 56px,#0045ff 63px,#0074ff 69px,#0098ff 72px,#00a9ff 77px,#00feff 88px,#1cffe3 93px,#39ffc6 95px,#5dffa2 98px,#7dff82 99px,#80ff7f 118px,#a3ff5c 120px,#b8ff47 124px,#a3ff5c 126px,#80ff7f 127px,#80ff7f 132px,#ffe300 133px,#ffd700 135px,#fff600 138px,#fff700 141px,#ffd500 145px,#ffc200 150px,#ffd400 152px,#ffa300 154px,#ff8f00 157px,#ff6500 160px,#ff5b00 164px,#ff2a00 168px,#f50000 174px,#9f0000 181px,#800000 183px,#800000 210px)"></i>
<i style="left:406px;top:633px;width:211px;background:linear-gradient(90deg,#000080,#000080 48px,#000091 49px,#0000bd 50px,#0000ec 53px,#0015ff 57px,#0043ff 62px,#0079ff 69px,#0098ff 72px,#009dff 76px,#00fbff 87px,#23ffdc 93px,#5cffa3 98px,#7eff81 99px,#80ff7f 118px,#a3ff5c 120px,#a8ff57 122px,#baff45 124px,#b0ff4f 125px,#80ff7f 126px,#80ff7f 132px,#ffda00 133px,#ffe500 136px,#fff700 141px,#ffd500 145px,#ffc600 149px,#ffd400 152px,#ffb100 153px,#ff7b00 158px,#ff6300 162px,#ff0600 173px,#a40000 181px,#800000 183px,#800000 210px)"></i>
<i style="left:406px;top:634px;width:211px;background:linear-gradient(90deg,#000080,#000080 48px,#00c 50px,#0000f8 54px,#0043ff 61px,#007bff 69px,#009fff 71px,#0098ff 75px,#00e6ff 84px,#03fffc 89px,#27ffd8 93px,#5bffa4 98px,#7dff82 99px,#80ff7f 118px,#9dff62 120px,#baff45 124px,#80ff7f 126px,#80ff7f 131px,#ffdc00 132px,#ffd700 136px,#fff200 137px,#fff100 141px,#ffd500 144px,#ffc400 148px,#ffd400 152px,#ffae00 153px,#ff6300 161px,#ff5200 164px,#ff0200 173px,#a50000 181px,#800000 183px,#800000 210px)"></i>
<i style="left:406px;top:635px;width:211px;background:linear-gradient(90deg,#000080,#000080 47px,#000098 48px,#0000c7 49px,#0000f9 53px,#001aff 55px,#0043ff 61px,#0065ff 67px,#009fff 71px,#0098ff 75px,#00d2ff 81px,#02fffd 88px,#0afff5 91px,#3dffc2 95px,#56ffa9 98px,#7aff85 99px,#80ff7f 118px,#adff52 124px,#80ff7f 125px,#80ff7f 131px,#ffd700 132px,#ffd600 136px,#fff700 139px,#ffd500 144px,#ffca00 148px,#ffce00 152px,#ff9b00 154px,#ff6300 161px,#ff6200 163px,#ff3e00 166px,#f40000 174px,#980000 182px,#800000 184px,#800000 210px)"></i>
<i style="left:406px;top:636px;width:211px;background:linear-gradient(90deg,#000080,#000080 47px,#0000cb 49px,#0000f7 52px,#0041ff 60px,#006bff 67px,#00a0ff 71px,#0093ff 74px,#00feff 87px,#0efff1 91px,#4cffb3 97px,#56ffa9 98px,#76ff89 99px,#80ff7f 118px,#a6ff59 123px,#80ff7f 125px,#80ff7f 131px,#ffd700 132px,#ffd500 136px,#fff600 139px,#ffd400 144px,#ffd400 151px,#ffb100 152px,#ff6300 161px,#ff6200 163px,#ff3c00 166px,#fa0000 174px,#9c0000 182px,#800000 184px,#800000 210px)"></i>
<i style="left:406px;top:637px;width:211px;background:linear-gradient(90deg,#000080,#000080 46px,#0000c0 48px,#0000f7 51px,#00f 53px,#004aff 60px,#0060ff 66px,#007aff 68px,#009bff 72px,#0093ff 74px,#00c6ff 79px,#00feff 87px,#05fffa 90px,#41ffbe 95px,#54ffab 98px,#73ff8c 99px,#8aff75 119px,#96ff69 123px,#80ff7f 124px,#80ff7f 130px,#f6ff09 131px,#ffd700 132px,#ffd500 136px,#fff600 139px,#ffd500 143px,#ffd400 151px,#ffb100 152px,#ff8f00 156px,#ff6300 161px,#ff6300 163px,#ff3e00 165px,#fa0000 174px,#800000 184px,#800000 210px)"></i>
<i style="left:406px;top:638px;width:211px;background:linear-gradient(90deg,#000080,#000080 46px,#0000b3 47px,#0000e1 49px,#0007ff 53px,#004fff 60px,#06f 66px,#00a1ff 71px,#008cff 73px,#00cfff 80px,#00feff 87px,#07fff8 90px,#41ffbe 95px,#57ffa8 98px,#7eff81 100px,#85ff7a 119px,#96ff69 122px,#80ff7f 123px,#80ff7f 130px,#feff01 131px,#ffd700 132px,#ffd900 137px,#ffe800 140px,#ffd400 144px,#ffd400 151px,#ffae00 152px,#ff6300 161px,#ff6300 163px,#ff3c00 166px,#ff3900 168px,#fc0000 174px,#a40000 182px,#800000 184px,#800000 210px)"></i>
<i style="left:406px;top:639px;width:211px;background:linear-gradient(90deg,#000080,#000080 45px,#0000d3 48px,#00f 51px,#005eff 62px,#005cff 65px,#009bff 70px,#0092ff 73px,#00d4ff 81px,#00feff 87px,#0cfff3 90px,#41ffbe 95px,#56ffa9 98px,#7eff81 100px,#86ff79 120px,#90ff6f 121px,#80ff7f 123px,#80ff7f 129px,#d6ff29 130px,#f9ff06 131px,#ffd700 132px,#ffd700 137px,#ffe900 139px,#ffd400 145px,#ffca00 151px,#ffa700 152px,#ff6400 161px,#ff3c00 167px,#fe0000 174px,#940000 183px,#800000 184px,#800000 210px)"></i>
<i style="left:406px;top:640px;width:211px;background:linear-gradient(90deg,#000080,#000080 45px,#0000b1 46px,#00f 50px,#0016ff 53px,#002aff 54px,#0035ff 57px,#005eff 62px,#0063ff 65px,#009dff 71px,#0091ff 72px,#00fbff 86px,#00faff 89px,#42ffbd 95px,#57ffa8 98px,#7eff81 100px,#80ff7f 129px,#e3ff1c 130px,#fbff04 131px,#ffd700 132px,#ffd600 137px,#ffe900 139px,#ffd400 143px,#ffd400 150px,#ffa600 152px,#ff6500 161px,#f70000 175px,#980000 183px,#800000 185px,#800000 210px)"></i>
<i style="left:406px;top:641px;width:211px;background:linear-gradient(90deg,#000080,#000080 44px,#0000d6 47px,#0005ff 50px,#000eff 52px,#0027ff 53px,#003aff 57px,#005eff 62px,#0057ff 64px,#0094ff 69px,#0091ff 72px,#00d5ff 81px,#00fbff 87px,#58ffa7 98px,#7fff80 100px,#80ff7f 128px,#ceff31 129px,#f9ff06 131px,#ffda00 132px,#ffe000 140px,#ffd500 146px,#ffd400 150px,#ffac00 151px,#ff6800 161px,#f70000 175px,#9d0000 183px,#800000 185px,#800000 210px)"></i>
<i style="left:406px;top:642px;width:211px;background:linear-gradient(90deg,#000080,#000080 43px,#00008a 44px,#00c 46px,#00f 49px,#002dff 55px,#003eff 58px,#005eff 61px,#0057ff 64px,#0091ff 69px,#0084ff 71px,#00aeff 74px,#00feff 88px,#40ffbf 95px,#3bffc4 96px,#7dff82 100px,#80ff7f 128px,#d7ff28 129px,#fbff04 131px,#ffda00 132px,#ffd400 150px,#ffac00 151px,#ff6800 161px,#f70000 175px,#a00000 183px,#800000 185px,#800000 210px)"></i>
<i style="left:406px;top:643px;width:211px;background:linear-gradient(90deg,#000080,#000080 43px,#0000c4 45px,#0000fd 49px,#0038ff 56px,#0052ff 59px,#0058ff 62px,#0052ff 63px,#008eff 68px,#0080ff 71px,#00afff 74px,#00d5ff 80px,#0bfff4 89px,#3cffc3 95px,#3cffc3 96px,#7eff81 100px,#80ff7f 127px,#deff21 129px,#fbff04 131px,#ffd900 132px,#ffd400 150px,#ff9f00 151px,#ff8900 156px,#fa0000 175px,#930000 184px,#800000 186px,#800000 210px)"></i>
<i style="left:406px;top:644px;width:211px;background:linear-gradient(90deg,#000080,#000080 42px,#00008f 43px,#0000b8 44px,#00f 49px,#0040ff 58px,#005cff 59px,#0058ff 63px,#0087ff 67px,#0084ff 71px,#00a8ff 72px,#00c2ff 77px,#00d5ff 80px,#06fff9 88px,#3cffc3 95px,#4fffb0 97px,#7eff81 100px,#80ff7f 127px,#c6ff39 128px,#fbff04 131px,#ffd900 132px,#ffd400 149px,#ff9c00 151px,#ff8900 156px,#ff2b00 169px,#fc0000 175px,#960000 184px,#800000 185px,#800000 210px)"></i>
<i style="left:406px;top:645px;width:211px;background:linear-gradient(90deg,#000080,#000080 42px,#0000c2 44px,#0009ff 49px,#0039ff 56px,#0039ff 57px,#0060ff 59px,#004dff 62px,#0076ff 65px,#008aff 68px,#0080ff 70px,#00a2ff 71px,#00d5ff 80px,#07fff8 88px,#57ffa8 98px,#7fff80 100px,#80ff7f 127px,#cbff34 128px,#f3ff0c 131px,#ffd900 132px,#ffd400 149px,#ff9b00 151px,#ff7a00 158px,#ff2b00 169px,#ff0100 175px,#9b0000 184px,#800000 186px,#800000 210px)"></i>
<i style="left:406px;top:646px;width:211px;background:linear-gradient(90deg,#000080,#000080 41px,#00008c 42px,#0000b8 43px,#00f 48px,#0039ff 55px,#003eff 57px,#0068ff 58px,#0053ff 62px,#08f 67px,#0080ff 70px,#0af 71px,#00c9ff 77px,#00efff 86px,#08fff7 88px,#5fa 98px,#7fff80 100px,#80ff7f 126px,#c0ff3f 127px,#eaff15 130px,#f3ff0c 131px,#ffd900 132px,#ffd400 149px,#ff9b00 151px,#ff7a00 158px,#ff1700 172px,#fc0000 175px,#9b0000 184px,#800000 187px,#800000 210px)"></i>
<i style="left:406px;top:647px;width:211px;background:linear-gradient(90deg,#000080,#000080 41px,#00a 42px,#0000ec 46px,#0015ff 50px,#0039ff 54px,#0049ff 57px,#0069ff 58px,#0053ff 62px,#007fff 65px,#0080ff 70px,#00aeff 71px,#00c7ff 77px,#00efff 86px,#0afff5 88px,#5fa 98px,#7eff81 100px,#80ff7f 126px,#c7ff38 127px,#eaff15 129px,#f5ff0a 131px,#ffd500 133px,#ffd400 149px,#ffa900 151px,#ff9300 154px,#ff6f00 161px,#ff3b00 167px,#ff1a00 172px,#ff0400 174px,#c60000 181px,#800000 186px,#800000 210px)"></i>
<i style="left:406px;top:648px;width:211px;background:linear-gradient(90deg,#000080,#000080 40px,#0000cb 43px,#0009ff 48px,#0025ff 52px,#0039ff 54px,#0049ff 57px,#0068ff 58px,#0068ff 59px,#0053ff 61px,#0081ff 66px,#0080ff 69px,#00beff 70px,#00b4ff 74px,#00d5ff 79px,#00e6ff 84px,#00d5ff 85px,#05fffa 86px,#4fb 96px,#7eff81 100px,#80ff7f 125px,#c3ff3c 126px,#f8ff07 131px,#ffd600 133px,#ffd400 149px,#ffa900 151px,#ff9400 154px,#ff6f00 161px,#ff4000 166px,#fd0000 175px,#930000 185px,#800000 187px,#800000 210px)"></i>
<i style="left:406px;top:649px;width:211px;background:linear-gradient(90deg,#000080,#000080 40px,#0000c0 42px,#0004ff 47px,#001aff 49px,#0021ff 51px,#003aff 53px,#0043ff 56px,#0067ff 58px,#0054ff 61px,#007fff 64px,#0080ff 69px,#00c5ff 70px,#00b5ff 74px,#00d5ff 79px,#00e6ff 85px,#09fff6 86px,#2fd 91px,#67ff98 99px,#7fff80 100px,#80ff7f 125px,#cdff32 126px,#f9ff06 131px,#ffd700 133px,#ffd400 148px,#ff9600 152px,#ff8f00 155px,#ff7000 160px,#f80000 176px,#960000 185px,#800000 187px,#800000 210px)"></i>
<i style="left:406px;top:650px;width:211px;background:linear-gradient(90deg,#000080,#000080 39px,#0000dc 43px,#0004ff 47px,#001eff 49px,#001fff 51px,#0038ff 52px,#003cff 55px,#005fff 58px,#004dff 60px,#007fff 64px,#0080ff 69px,#00c5ff 70px,#00b4ff 74px,#00d4ff 78px,#00e4ff 83px,#00d5ff 84px,#0afff5 86px,#4cffb3 97px,#7fff80 100px,#80ff7f 124px,#c9ff36 125px,#e5ff1a 129px,#fbff04 131px,#ffd800 133px,#ffd400 148px,#ff9500 152px,#ff8f00 155px,#ff7400 159px,#ff7300 161px,#ff5b00 162px,#ff1c00 171px,#f80000 176px,#9a0000 185px,#800000 188px,#800000 210px)"></i>
<i style="left:406px;top:651px;width:211px;background:linear-gradient(90deg,#000080,#000080 39px,#0000a9 40px,#0000f7 45px,#001fff 50px,#003bff 52px,#003eff 55px,#005fff 57px,#004dff 60px,#007fff 64px,#0080ff 68px,#008eff 69px,#00c8ff 70px,#00b8ff 74px,#00d4ff 78px,#00dfff 82px,#00d5ff 84px,#00faff 85px,#5affa5 98px,#7eff81 100px,#80ff7f 124px,#d0ff2f 125px,#fffb00 132px,#ffdc00 133px,#ffd400 148px,#ff9600 152px,#ff7300 161px,#ff5b00 162px,#ff1c00 171px,#f70000 176px,#8e0000 186px,#800000 189px,#800000 210px)"></i>
<i style="left:406px;top:652px;width:211px;background:linear-gradient(90deg,#000080,#000080 38px,#0000df 42px,#0010ff 47px,#001fff 50px,#003bff 51px,#003eff 55px,#005cff 57px,#004dff 60px,#0073ff 62px,#0080ff 66px,#0080ff 68px,#0094ff 69px,#00ceff 70px,#00ceff 71px,#00b9ff 73px,#00d5ff 79px,#00d5ff 84px,#00faff 85px,#4affb5 97px,#7eff81 100px,#80ff7f 124px,#d5ff2a 125px,#f1ff0e 130px,#fffa00 133px,#ffd600 134px,#ffd400 148px,#ff9500 152px,#ff7400 160px,#ff5200 163px,#ff2600 170px,#f50000 176px,#a20000 185px,#800000 187px,#800000 210px)"></i>
<i style="left:406px;top:653px;width:211px;background:linear-gradient(90deg,#000080,#000080 38px,#0000a7 39px,#0000e9 43px,#000aff 46px,#002aff 50px,#003fff 51px,#0046ff 55px,#0058ff 57px,#004dff 59px,#006fff 61px,#0080ff 66px,#0080ff 68px,#0096ff 69px,#00cfff 70px,#00cfff 71px,#00b9ff 73px,#00d4ff 77px,#00d5ff 83px,#00fdff 85px,#59ffa6 98px,#7eff81 100px,#80ff7f 123px,#c5ff3a 124px,#daff25 125px,#f2ff0d 130px,#fffa00 133px,#ffdc00 134px,#ffd400 148px,#ff9100 152px,#ff7400 160px,#ff5100 163px,#ff2800 170px,#f20000 177px,#960000 186px,#800000 188px,#800000 210px)"></i>
<i style="left:406px;top:654px;width:211px;background:linear-gradient(90deg,#000080,#000080 37px,#0000c2 40px,#0000fc 45px,#001eff 48px,#003fff 52px,#003eff 54px,#0056ff 57px,#004dff 59px,#006fff 60px,#0080ff 65px,#0089ff 68px,#009fff 69px,#00ceff 70px,#00baff 73px,#00d4ff 77px,#00d5ff 83px,#00fdff 85px,#58ffa7 98px,#7eff81 100px,#80ff7f 123px,#cbff34 124px,#dbff24 126px,#fffa00 133px,#ffdc00 134px,#ffd400 148px,#ff9100 152px,#ff7a00 160px,#ff5100 163px,#ff3200 169px,#f20000 177px,#900 186px,#800000 189px,#800000 210px)"></i>
<i style="left:406px;top:655px;width:211px;background:linear-gradient(90deg,#000080,#000080 37px,#0000a8 38px,#0000f1 43px,#02f 49px,#0040ff 52px,#0056ff 57px,#004dff 58px,#006dff 59px,#0080ff 65px,#0080ff 67px,#00a2ff 69px,#00ceff 70px,#00c6ff 75px,#00d5ff 78px,#00d5ff 83px,#00f4ff 84px,#46ffb9 96px,#62ff9d 99px,#7eff81 100px,#80ff7f 122px,#b4ff4b 123px,#e0ff1f 125px,#e1ff1e 128px,#fffd00 133px,#ffd600 134px,#ffd400 147px,#ff8c00 153px,#ff7a00 160px,#ff5000 163px,#ff2a00 170px,#f60000 177px,#8c0000 187px,#800000 192px,#800000 210px)"></i>
<i style="left:406px;top:656px;width:211px;background:linear-gradient(90deg,#000080,#000080 36px,#0000e3 41px,#000aff 45px,#0032ff 50px,#0054ff 56px,#004dff 58px,#0070ff 59px,#0080ff 67px,#00a2ff 69px,#00c6ff 70px,#00c3ff 74px,#00d5ff 77px,#00d5ff 82px,#00f1ff 83px,#1fffe0 90px,#62ff9d 99px,#7eff81 100px,#80ff7f 122px,#c2ff3d 123px,#e3ff1c 125px,#eaff15 129px,#f9ff06 133px,#ffd600 134px,#ffd400 147px,#ffa600 151px,#ffa400 152px,#ff8b00 154px,#ff7c00 160px,#ff5100 163px,#f70000 177px,#800000 189px,#800000 210px)"></i>
<i style="left:406px;top:657px;width:211px;background:linear-gradient(90deg,#000080,#000081 36px,#00a 37px,#0000f9 43px,#04f 52px,#004dff 58px,#007eff 59px,#0087ff 67px,#00a4ff 69px,#00d2ff 71px,#00c4ff 74px,#00d4ff 76px,#00d5ff 82px,#00f2ff 83px,#0efff1 86px,#57ffa8 98px,#7dff82 100px,#80ff7f 121px,#c4ff3b 123px,#e4ff1b 125px,#eaff15 129px,#feff01 133px,#ffd600 134px,#ffd400 147px,#ffac00 150px,#ff7f00 157px,#ff7f00 160px,#ff5900 162px,#f60000 177px,#930000 187px,#800000 189px,#800000 210px)"></i>
<i style="left:406px;top:658px;width:211px;background:linear-gradient(90deg,#000080,#000080 35px,#0000d0 39px,#0005ff 44px,#02f 47px,#004cff 54px,#004dff 57px,#007eff 58px,#0080ff 66px,#00acff 70px,#00d2ff 71px,#00caff 73px,#00d5ff 82px,#00f4ff 83px,#32ffcd 93px,#6f9 99px,#7dff82 100px,#80ff7f 121px,#b0ff4f 122px,#e5ff1a 125px,#fff700 133px,#ffd600 134px,#ffd400 147px,#ffa100 151px,#ff7f00 157px,#ff7f00 160px,#ff5c00 162px,#f30 168px,#f00 176px,#960000 187px,#800000 190px,#800000 210px)"></i>
<i style="left:406px;top:659px;width:211px;background:linear-gradient(90deg,#000080,#000085 35px,#0000b9 37px,#0000fa 42px,#000dff 45px,#0026ff 47px,#004cff 53px,#004dff 57px,#007eff 58px,#0080ff 66px,#00a7ff 69px,#00acff 70px,#00d2ff 71px,#00d5ff 81px,#00fbff 84px,#24ffdb 91px,#6f9 99px,#7fff80 101px,#80ff7f 121px,#b9ff46 122px,#e5ff1a 125px,#f4ff0b 132px,#ffd600 134px,#ffd400 147px,#ffb200 149px,#ff8300 155px,#ff7f00 160px,#ff5c00 162px,#ff3700 168px,#f40000 177px,#9a0000 187px,#800000 190px,#800000 210px)"></i>
<i style="left:406px;top:660px;width:211px;background:linear-gradient(90deg,#000080,#000080 34px,#0000d1 38px,#00f 43px,#0034ff 49px,#004cff 53px,#004dff 56px,#0079ff 57px,#0080ff 66px,#00a7ff 69px,#00adff 70px,#0cf 71px,#00d5ff 81px,#00f7ff 83px,#4affb5 96px,#7fff80 102px,#80ff7f 120px,#b4ff4b 121px,#e5ff1a 126px,#ecff13 131px,#fff200 133px,#ffd500 134px,#ffd400 147px,#ffb300 149px,#ff9c00 152px,#ff8300 153px,#ff7f00 159px,#ff4d00 164px,#ff3700 168px,#f90000 177px,#9d0000 187px,#800000 190px,#800000 210px)"></i>
<i style="left:406px;top:661px;width:211px;background:linear-gradient(90deg,#000080,#000087 34px,#00b 36px,#0000fd 42px,#0038ff 50px,#004cff 52px,#004dff 56px,#007bff 57px,#0080ff 65px,#00adff 70px,#00d2ff 71px,#00d5ff 81px,#00f1ff 82px,#07fff8 85px,#1affe5 89px,#63ff9c 99px,#7fff80 102px,#80ff7f 120px,#b9ff46 121px,#e5ff1a 126px,#e6ff19 132px,#fff200 133px,#ffd500 134px,#ffcb00 147px,#ff9e00 152px,#ff8400 153px,#ff7f00 159px,#ff6700 160px,#ff4900 166px,#f00 177px,#910000 188px,#800000 190px,#800000 210px)"></i>
<i style="left:406px;top:662px;width:211px;background:linear-gradient(90deg,#000080,#000080 33px,#00c 37px,#0003ff 42px,#0032ff 48px,#0038ff 50px,#004cff 52px,#004dff 56px,#007eff 57px,#0080ff 65px,#00a7ff 69px,#00adff 70px,#00d2ff 71px,#00d5ff 80px,#00f7ff 83px,#1affe5 89px,#63ff9c 99px,#7fff80 102px,#80ff7f 119px,#bcff43 121px,#e5ff1a 126px,#e6ff19 132px,#fff200 133px,#ffd600 134px,#ffd400 146px,#ffa000 152px,#ff8000 154px,#ff7f00 159px,#ff6700 160px,#ff4d00 165px,#ff3a00 168px,#f00 177px,#960000 188px,#800000 191px,#800000 210px)"></i>
<i style="left:406px;top:663px;width:211px;background:linear-gradient(90deg,#000080,#008 33px,#0000d5 37px,#0004ff 42px,#0029ff 46px,#03f 49px,#004bff 50px,#004dff 55px,#007eff 57px,#0080ff 65px,#009bff 67px,#00a8ff 69px,#00d1ff 70px,#00d5ff 80px,#00f3ff 82px,#08fff7 85px,#19ffe6 88px,#2fd 91px,#37ffc8 93px,#73ff8c 100px,#7fff80 106px,#80ff7f 119px,#adff52 120px,#e5ff1a 126px,#e6ff19 131px,#fff200 133px,#ffd600 134px,#ffd400 146px,#ffa000 152px,#ff8000 154px,#ff7f00 159px,#ff6700 160px,#ff4d00 165px,#ff4c00 167px,#ff2b00 169px,#ff2400 172px,#ff0100 176px,#b00000 186px,#800000 190px,#800000 210px)"></i>
<i style="left:406px;top:664px;width:211px;background:linear-gradient(90deg,#000080,#000080 32px,#00c 36px,#0000fe 41px,#002aff 46px,#0035ff 49px,#004bff 50px,#004dff 55px,#007eff 56px,#0080ff 64px,#009bff 66px,#0af 69px,#00d1ff 70px,#00d5ff 80px,#00f4ff 82px,#05fffa 85px,#19ffe6 87px,#26ffd9 91px,#72ff8d 100px,#7fff80 103px,#80ff7f 119px,#b3ff4c 120px,#e5ff1a 126px,#e6ff19 131px,#fffc00 132px,#ffd500 135px,#ffd400 146px,#ffa900 150px,#ffa100 152px,#ff8000 154px,#ff7f00 159px,#ff4d00 164px,#ff4c00 167px,#ff2b00 169px,#ff2500 172px,#ff0100 176px,#bd0000 185px,#800000 190px,#800000 210px)"></i>
<i style="left:406px;top:665px;width:211px;background:linear-gradient(90deg,#000080,#00008a 32px,#0000e1 37px,#000eff 42px,#002fff 48px,#004cff 50px,#004dff 55px,#007eff 56px,#0080ff 64px,#009bff 65px,#00a9ff 69px,#00d2ff 70px,#00d5ff 79px,#0ff 84px,#19ffe6 87px,#1affe5 90px,#3dffc2 94px,#71ff8e 100px,#7fff80 103px,#80ff7f 118px,#a7ff58 119px,#d3ff2c 124px,#e6ff19 128px,#e6ff19 131px,#fffc00 132px,#ffd500 136px,#ffd400 146px,#ffa900 149px,#ffa100 152px,#ff8000 154px,#ff7f00 159px,#ff4d00 164px,#ff4c00 167px,#ff2b00 169px,#ff2500 172px,#ff1200 174px,#eb0000 180px,#800000 191px,#800000 210px)"></i>
<i style="left:406px;top:666px;width:211px;background:linear-gradient(90deg,#000080,#000080 31px,#0000c9 35px,#0007ff 41px,#002aff 46px,#0030ff 48px,#004bff 49px,#004dff 54px,#007eff 56px,#0080ff 64px,#009cff 65px,#00acff 69px,#00d3ff 70px,#00d5ff 79px,#0ff 84px,#19ffe6 87px,#1affe5 90px,#3dffc2 94px,#71ff8e 100px,#7fff80 103px,#80ff7f 118px,#a9ff56 119px,#d2ff2d 124px,#e6ff19 128px,#e6ff19 131px,#fffc00 132px,#ffd500 136px,#ffd400 146px,#ffa600 150px,#ffa100 152px,#ff8000 154px,#ff7f00 159px,#ff4d00 164px,#ff4c00 167px,#ff2a00 171px,#f90000 178px,#940000 189px,#800000 191px,#800000 210px)"></i>
<i style="left:406px;top:667px;width:211px;background:linear-gradient(90deg,#000080,#00008a 31px,#0000c4 34px,#0007ff 41px,#002aff 46px,#0030ff 48px,#004bff 49px,#004dff 54px,#007dff 56px,#0081ff 64px,#009bff 65px,#00b2ff 69px,#00d3ff 70px,#00d5ff 79px,#00feff 83px,#19ffe6 88px,#1affe5 90px,#37ffc8 93px,#70ff8f 100px,#7fff80 102px,#80ff7f 118px,#af5 119px,#e5ff1a 126px,#f1ff0e 131px,#ffe700 134px,#ffd500 136px,#ffd200 146px,#ffa400 150px,#ffa100 152px,#ff8000 154px,#ff7f00 159px,#ff4d00 165px,#ff3e00 168px,#ff1200 175px,#f10000 179px,#980000 189px,#800000 192px,#800000 210px)"></i>
<i style="left:406px;top:668px;width:211px;background:linear-gradient(90deg,#000080,#000080 30px,#0000ba 33px,#00f 40px,#0012ff 43px,#002aff 44px,#002bff 47px,#004cff 49px,#004dff 54px,#007eff 56px,#0080ff 63px,#009eff 66px,#00b3ff 69px,#00d3ff 70px,#00d5ff 79px,#0ff 83px,#19ffe6 88px,#1affe5 90px,#36ffc9 92px,#4fb 95px,#7fff80 102px,#80ff7f 117px,#b0ff4f 119px,#e5ff1a 126px,#e6ff19 130px,#fff500 133px,#ffd500 135px,#fc0 146px,#ff9000 153px,#ff8000 155px,#ff7f00 159px,#ff4d00 164px,#ff4c00 167px,#ff2b00 171px,#ff1200 176px,#fb0000 178px,#9b0000 189px,#800000 192px,#800000 210px)"></i>
<i style="left:406px;top:669px;width:211px;background:linear-gradient(90deg,#000080,#00008a 30px,#0000c2 33px,#00f 40px,#002aff 45px,#002bff 47px,#004cff 49px,#004dff 53px,#007eff 56px,#0080ff 63px,#009fff 66px,#00b4ff 69px,#00d2ff 70px,#00deff 79px,#0ff 83px,#1affe5 88px,#45ffba 95px,#7fff80 102px,#80ff7f 117px,#a7ff58 118px,#c8ff37 122px,#e5ff1a 126px,#e6ff19 130px,#fffa00 132px,#ffd500 136px,#ffd400 145px,#ff8000 155px,#ff7f00 159px,#ff4d00 165px,#ff4c00 167px,#ff2b00 171px,#ff1200 176px,#fc0000 178px,#9d0000 189px,#800000 192px,#800000 210px)"></i>
<i style="left:406px;top:670px;width:211px;background:linear-gradient(90deg,#000080,#000080 29px,#0000c5 33px,#0005ff 40px,#002aff 45px,#002bff 47px,#004bff 48px,#004dff 53px,#007eff 56px,#0080ff 63px,#00a4ff 66px,#00a7ff 68px,#00d2ff 70px,#00d5ff 78px,#0ff 83px,#1affe5 88px,#47ffb8 95px,#7fff80 102px,#80ff7f 116px,#b3ff4c 119px,#d4ff2b 124px,#e5ff1a 126px,#e6ff19 130px,#ff0 132px,#ffd500 135px,#ffd400 145px,#ff8000 155px,#ff7f00 159px,#ff4d00 165px,#ff4c00 167px,#ff2b00 171px,#ff1200 176px,#f00 178px,#a00000 189px,#800000 192px,#800000 210px)"></i>
<i style="left:406px;top:671px;width:211px;background:linear-gradient(90deg,#000080,#00008a 29px,#0000c2 32px,#00f 39px,#0012ff 41px,#002bff 46px,#004bff 48px,#004dff 52px,#007fff 57px,#0089ff 63px,#00baff 69px,#00d2ff 70px,#00d5ff 78px,#0ff 83px,#19ffe6 87px,#27ffd8 90px,#64ff9b 99px,#7fff80 102px,#80ff7f 116px,#a2ff5d 117px,#c8ff37 122px,#e5ff1a 126px,#e6ff19 130px,#fcff03 131px,#ffeb00 134px,#ffd500 135px,#ffd400 145px,#ffa400 150px,#ff8000 156px,#ff6e00 160px,#ff4d00 165px,#ff4c00 167px,#ff2b00 171px,#ff1200 176px,#f00 178px,#960000 190px,#800000 193px,#800000 210px)"></i>
<i style="left:406px;top:672px;width:211px;background:linear-gradient(90deg,#000080,#000080 28px,#0000c7 32px,#00f 39px,#0012ff 41px,#0012ff 42px,#0029ff 43px,#002bff 46px,#004bff 48px,#004cff 52px,#007fff 56px,#0080ff 62px,#00a4ff 66px,#00b9ff 69px,#00d4ff 70px,#00d5ff 78px,#0ff 83px,#19ffe6 87px,#28ffd7 90px,#63ff9c 99px,#7fff80 102px,#80ff7f 116px,#abff54 117px,#d4ff2b 124px,#e5ff1a 126px,#e7ff18 130px,#fffd00 132px,#ffd500 136px,#ffd400 145px,#ffa400 150px,#ff9700 153px,#ff8000 154px,#ff7600 159px,#ff4d00 165px,#ff4c00 167px,#ff2b00 171px,#f70000 179px,#9a0000 190px,#800000 193px,#800000 210px)"></i>
<i style="left:406px;top:673px;width:211px;background:linear-gradient(90deg,#000080,#00008a 28px,#0000cb 32px,#00f 39px,#002aff 44px,#004cff 49px,#004cff 52px,#007fff 56px,#0080ff 62px,#00a2ff 64px,#00a4ff 67px,#00b9ff 69px,#00d4ff 70px,#0df 78px,#0ff 83px,#19ffe6 87px,#28ffd7 90px,#6dff92 100px,#7fff80 102px,#80ff7f 115px,#acff53 117px,#d4ff2b 124px,#e5ff1a 126px,#f1ff0e 130px,#fff700 133px,#ffd500 135px,#ffd400 145px,#ffa400 150px,#ff9700 153px,#ff8000 154px,#ff7500 159px,#ff4d00 165px,#ff4c00 167px,#ff2b00 171px,#fa0000 179px,#900000 191px,#800000 193px,#800000 210px)"></i>
<i style="left:406px;top:674px;width:211px;background:linear-gradient(90deg,#000080,#000080 27px,#0000c8 31px,#00f 38px,#002aff 44px,#004cff 49px,#0057ff 52px,#007fff 56px,#0080ff 62px,#00a2ff 64px,#00beff 69px,#00d4ff 70px,#00dfff 78px,#0ff 83px,#19ffe6 87px,#6cff93 100px,#7fff80 102px,#80ff7f 115px,#adff52 117px,#d6ff29 124px,#e5ff1a 126px,#e5ff1a 129px,#ff0 132px,#ffd500 135px,#ffd300 145px,#ffa400 150px,#ff9700 153px,#ff8000 154px,#ff7500 159px,#ff4d00 165px,#ff3e00 168px,#f00 179px,#930000 191px,#800000 194px,#800000 210px)"></i>
<i style="left:406px;top:675px;width:211px;background:linear-gradient(90deg,#000080,#00008a 27px,#0000d3 32px,#00f 38px,#0012ff 40px,#003aff 46px,#004cff 50px,#004cff 51px,#007fff 56px,#007fff 61px,#00a4ff 65px,#00c0ff 69px,#00d4ff 71px,#00d5ff 77px,#0ff 83px,#19ffe6 87px,#6cff93 100px,#7fff80 102px,#80ff7f 115px,#a3ff5c 116px,#c8ff37 122px,#e5ff1a 126px,#e5ff1a 129px,#ff0 132px,#ffd500 137px,#ffcf00 145px,#ffa400 150px,#ff8000 156px,#ff6d00 160px,#ff4d00 166px,#f00 179px,#970000 191px,#800000 194px,#800000 210px)"></i>
<i style="left:406px;top:676px;width:211px;background:linear-gradient(90deg,#000080,#000080 26px,#0000ce 31px,#0005ff 38px,#004cff 49px,#004cff 51px,#0063ff 52px,#007fff 56px,#0080ff 61px,#00a4ff 65px,#00c1ff 69px,#00d4ff 71px,#00d5ff 77px,#0ff 83px,#19ffe6 87px,#6cff93 100px,#7fff80 102px,#80ff7f 114px,#acff53 117px,#d7ff28 124px,#e5ff1a 127px,#f5ff0a 130px,#ffeb00 134px,#ffd500 137px,#fc0 145px,#ffa400 150px,#ff8000 156px,#ff6d00 160px,#ff1c00 174px,#f00 179px,#8c0000 192px,#800000 197px,#800000 210px)"></i>
<i style="left:406px;top:677px;width:211px;background:linear-gradient(90deg,#000080,#00008a 26px,#0000d3 31px,#00f 37px,#002aff 43px,#004cff 48px,#0056ff 51px,#007fff 56px,#0080ff 61px,#00a4ff 65px,#00c1ff 69px,#00d4ff 71px,#00d9ff 77px,#0ff 83px,#19ffe6 87px,#6cff93 100px,#7fff80 103px,#80ff7f 114px,#acff53 117px,#e5ff1a 126px,#e5ff1a 129px,#ff0 132px,#ffd500 137px,#ffca00 145px,#ffa400 150px,#ff8000 156px,#ff6c00 160px,#ff3200 170px,#f00 179px,#900000 192px,#800000 194px,#800000 210px)"></i>
<i style="left:406px;top:678px;width:211px;background:linear-gradient(90deg,#000080,#000080 25px,#0000ce 30px,#00f 37px,#002aff 43px,#004cff 48px,#0059ff 51px,#007fff 56px,#0084ff 61px,#00d4ff 71px,#00dcff 77px,#0afff5 84px,#61ff9e 99px,#7fff80 103px,#80ff7f 114px,#a4ff5b 116px,#e5ff1a 126px,#e6ff19 129px,#ff0 132px,#ffd500 137px,#ffd400 144px,#ffa400 150px,#ff8000 156px,#ff6c00 160px,#ff3400 170px,#f00 179px,#930000 192px,#800000 195px,#800000 210px)"></i>
<i style="left:406px;top:679px;width:211px;background:linear-gradient(90deg,#000080,#008 25px,#0000c7 29px,#0008ff 37px,#004cff 48px,#005bff 51px,#007fff 56px,#0089ff 61px,#00d4ff 71px,#00deff 77px,#0afff5 84px,#19ffe6 86px,#2affd5 90px,#7fff80 103px,#80ff7f 113px,#b8ff47 119px,#e5ff1a 126px,#f7ff08 130px,#ffed00 134px,#ffd500 137px,#ffd400 144px,#ff8000 156px,#ff6c00 160px,#ff3400 170px,#f70000 180px,#960000 192px,#800000 195px,#800000 210px)"></i>
<i style="left:406px;top:680px;width:211px;background:linear-gradient(90deg,#000080,#000080 24px,#0000bf 28px,#00f 36px,#004cff 48px,#007fff 56px,#008bff 61px,#00c5ff 69px,#00d4ff 72px,#00dfff 77px,#06fff9 83px,#19ffe6 87px,#7fff80 103px,#80ff7f 113px,#aeff51 117px,#e5ff1a 126px,#f5ff0a 130px,#ffed00 134px,#ffd500 137px,#ffd400 144px,#ff8000 156px,#ff6300 162px,#ff2b00 172px,#f70000 180px,#9a0000 192px,#800000 195px,#800000 210px)"></i>
<i style="left:406px;top:681px;width:211px;background:linear-gradient(90deg,#000080,#000087 24px,#0000c3 28px,#00f 36px,#004cff 48px,#007fff 56px,#0080ff 60px,#00d4ff 71px,#00d5ff 76px,#0ff 82px,#19ffe6 86px,#6bff94 100px,#7fff80 103px,#80ff7f 113px,#a7ff58 116px,#e5ff1a 126px,#f5ff0a 130px,#ffed00 134px,#ffd500 137px,#ffd400 144px,#ff8000 156px,#ff6300 162px,#ff2b00 172px,#f90000 180px,#910000 193px,#800000 195px,#800000 210px)"></i>
<i style="left:406px;top:682px;width:211px;background:linear-gradient(90deg,#000080,#000080 23px,#0000bf 27px,#0006ff 36px,#004cff 48px,#007fff 56px,#0083ff 60px,#00d4ff 71px,#00e3ff 77px,#09fff6 83px,#6bff94 100px,#7fff80 103px,#87ff78 113px,#c3ff3c 120px,#e5ff1a 127px,#fff400 133px,#ffd500 137px,#ffd300 144px,#ff8000 156px,#ff6300 162px,#ff2b00 172px,#fb0000 180px,#930000 193px,#800000 197px,#800000 210px)"></i>
<i style="left:406px;top:683px;width:211px;background:linear-gradient(90deg,#000080,#000086 23px,#0000ce 28px,#0008ff 36px,#004cff 48px,#007fff 56px,#0089ff 60px,#00d4ff 71px,#00e3ff 77px,#0afff5 83px,#6bff94 100px,#7fff80 103px,#80ff7f 112px,#c3ff3c 120px,#e5ff1a 127px,#fff400 133px,#ffd500 137px,#ffcf00 144px,#ff8000 156px,#ff6300 162px,#fb0000 180px,#960000 193px,#800000 196px,#800000 210px)"></i>
<i style="left:406px;top:684px;width:211px;background:linear-gradient(90deg,#000080,#000080 22px,#0000c7 27px,#0001ff 35px,#004cff 47px,#007fff 56px,#008aff 60px,#00d4ff 71px,#0df 76px,#0afff5 83px,#74ff8b 101px,#7fff80 111px,#c8ff37 121px,#e5ff1a 127px,#fff400 133px,#ffd500 137px,#ffcd00 144px,#ff8000 156px,#ff6300 162px,#fe0000 180px,#8d0000 194px,#800000 197px,#800000 210px)"></i>
<i style="left:406px;top:685px;width:211px;background:linear-gradient(90deg,#000080,#000085 22px,#0000c1 26px,#0005ff 35px,#004cff 47px,#007fff 56px,#008dff 60px,#00d4ff 71px,#00deff 76px,#0afff5 83px,#74ff8b 101px,#7fff80 108px,#80ff7f 112px,#a7ff58 115px,#e5ff1a 127px,#fff400 133px,#ffd500 138px,#fc0 144px,#ff8000 157px,#f00 180px,#910000 194px,#800000 196px,#800000 210px)"></i>
<i style="left:406px;top:686px;width:211px;background:linear-gradient(90deg,#000080,#000080 21px,#0000c5 26px,#0007ff 35px,#004cff 47px,#007fff 55px,#008eff 60px,#00d4ff 71px,#00dfff 76px,#0afff5 83px,#73ff8c 101px,#7fff80 106px,#8bff74 112px,#e5ff1a 126px,#f8ff07 130px,#ffd500 139px,#ffcb00 144px,#ff8000 157px,#f70000 181px,#940000 194px,#800000 197px,#800000 210px)"></i>
<i style="left:406px;top:687px;width:211px;background:linear-gradient(90deg,#000080,#000081 21px,#0000b5 24px,#00f 34px,#007fff 55px,#0087ff 59px,#00d4ff 71px,#00e1ff 76px,#0afff5 83px,#73ff8c 101px,#7fff80 105px,#80ff7f 111px,#beff41 119px,#fff400 133px,#ffd500 138px,#ffca00 144px,#f70000 181px,#960000 194px,#800000 197px,#800000 210px)"></i>
<i style="left:406px;top:688px;width:211px;background:linear-gradient(90deg,#000080,#000080 20px,#00c 26px,#0004ff 34px,#007fff 55px,#0089ff 59px,#00d4ff 71px,#00e8ff 77px,#0bfff4 83px,#72ff8d 101px,#7fff80 105px,#80ff7f 111px,#b3ff4c 117px,#fffb00 132px,#ffd500 138px,#ffc900 144px,#f80000 181px,#8e0000 195px,#800000 198px,#800000 210px)"></i>
<i style="left:406px;top:689px;width:211px;background:linear-gradient(90deg,#000080,#000080 20px,#0000b4 23px,#0006ff 34px,#007fff 55px,#008bff 59px,#00d4ff 71px,#00e3ff 76px,#0bfff4 83px,#72ff8d 101px,#7fff80 104px,#85ff7a 111px,#e5ff1a 126px,#fff400 133px,#ffd500 138px,#ffd400 143px,#ff8000 157px,#f90000 181px,#910000 195px,#800000 198px,#800000 210px)"></i>
<i style="left:406px;top:690px;width:211px;background:linear-gradient(90deg,#000080,#000080 19px,#0000c9 25px,#0008ff 34px,#007fff 55px,#0094ff 60px,#00d4ff 71px,#00e3ff 76px,#0cfff3 83px,#71ff8e 101px,#7fff80 104px,#7fff80 110px,#e5ff1a 126px,#fff400 133px,#ffd500 138px,#ffd400 143px,#ff8000 157px,#fa0000 181px,#940000 195px,#800000 198px,#800000 210px)"></i>
<i style="left:406px;top:691px;width:211px;background:linear-gradient(90deg,#000080,#000080 19px,#0000b2 22px,#0003ff 33px,#007fff 55px,#00abff 64px,#00d4ff 71px,#00e4ff 76px,#0dfff2 83px,#71ff8e 101px,#7fff80 104px,#80ff7f 110px,#cfff30 122px,#fff400 133px,#ffd500 138px,#ffc700 144px,#fb0000 181px,#8b0000 196px,#800000 206px,#800000 210px)"></i>
<i style="left:406px;top:692px;width:211px;background:linear-gradient(90deg,#000080,#000080 18px,#0000c8 24px,#0005ff 33px,#007fff 55px,#009cff 61px,#00d4ff 71px,#00dfff 75px,#0dfff2 83px,#7fff80 104px,#80ff7f 110px,#c6ff39 120px,#fff400 133px,#ffd500 138px,#ffc600 144px,#fc0000 181px,#8f0000 196px,#800000 198px,#800000 210px)"></i>
<i style="left:406px;top:693px;width:211px;background:linear-gradient(90deg,#000080,#000080 18px,#0000ba 22px,#0007ff 33px,#007fff 55px,#009dff 61px,#00d4ff 71px,#00ecff 77px,#14ffeb 84px,#7fff80 104px,#85ff7a 110px,#ff0 131px,#ffd500 138px,#ffc600 144px,#f60000 182px,#920000 196px,#800000 200px,#800000 210px)"></i>
<i style="left:406px;top:694px;width:211px;background:linear-gradient(90deg,#000080,#000080 17px,#0000ce 24px,#0008ff 33px,#007fff 55px,#009dff 61px,#00d4ff 71px,#09fff6 82px,#7fff80 104px,#89ff76 110px,#fffb00 132px,#ffd500 138px,#ffcd00 143px,#f70000 182px,#950000 196px,#800000 199px,#800000 210px)"></i>
<i style="left:406px;top:695px;width:211px;background:linear-gradient(90deg,#000080,#000080 17px,#0000b8 21px,#0004ff 32px,#007fff 55px,#00d4ff 71px,#09fff6 82px,#7fff80 104px,#7fff80 109px,#ff0 131px,#ffd500 139px,#ffc500 144px,#f70000 182px,#8c0000 197px,#800000 202px,#800000 210px)"></i>
<i style="left:406px;top:696px;width:211px;background:linear-gradient(90deg,#000080,#000080 16px,#0000cb 23px,#0005ff 32px,#007fff 55px,#00d4ff 71px,#09fff6 82px,#7fff80 104px,#80ff7f 109px,#e5ff1a 126px,#ffef00 134px,#ffd500 140px,#ff9d00 151px,#f90000 182px,#8f0000 197px,#800000 199px,#800000 210px)"></i>
<i style="left:406px;top:697px;width:211px;background:linear-gradient(90deg,#000080,#000080 16px,#0000bf 21px,#0007ff 32px,#007fff 55px,#00d4ff 71px,#0afff5 82px,#7fff80 104px,#81ff7e 109px,#ff0 131px,#ffd500 140px,#ff9800 152px,#f90000 182px,#930000 197px,#800000 201px,#800000 210px)"></i>
<i style="left:406px;top:698px;width:211px;background:linear-gradient(90deg,#000080,#008 16px,#0000c9 22px,#0008ff 32px,#007fff 55px,#00d4ff 71px,#0afff5 82px,#7fff80 104px,#86ff79 109px,#fffa00 132px,#ffd500 140px,#ff9800 152px,#fa0000 182px,#8a0000 198px,#800000 210px)"></i>
<i style="left:406px;top:699px;width:211px;background:linear-gradient(90deg,#000080,#000080 15px,#0000bd 20px,#0009ff 32px,#007fff 55px,#00d4ff 71px,#0bfff4 82px,#7fff80 104px,#89ff76 109px,#fffa00 132px,#ffd500 140px,#ff9300 153px,#f50000 183px,#8e0000 198px,#800000 201px,#800000 210px)"></i>
<i style="left:406px;top:700px;width:211px;background:linear-gradient(90deg,#000080,#000086 15px,#0000c7 21px,#0005ff 31px,#00d4ff 71px,#0bfff4 82px,#7fff80 104px,#8aff75 109px,#fff500 133px,#ffd500 140px,#ff8e00 154px,#f50000 183px,#910000 198px,#800000 202px,#800000 210px)"></i>
<i style="left:406px;top:701px;width:211px;background:linear-gradient(90deg,#000080,#000080 14px,#0000c2 20px,#0006ff 31px,#00d4ff 71px,#0bfff4 82px,#7fff80 105px,#8bff74 109px,#fff500 133px,#ffd500 140px,#f60000 183px,#800 199px,#800000 210px)"></i>
<i style="left:406px;top:702px;width:211px;background:linear-gradient(90deg,#000080,#000081 14px,#0000b6 18px,#0007ff 31px,#00d4ff 71px,#0cfff3 82px,#7fff80 105px,#93ff6c 110px,#fff500 133px,#ffd500 140px,#f70000 183px,#8c0000 199px,#800000 205px,#800000 210px)"></i>
<i style="left:406px;top:703px;width:211px;background:linear-gradient(90deg,#000080,#000080 13px,#0000c7 20px,#0008ff 31px,#00d4ff 71px,#0cfff3 82px,#7fff80 105px,#fff500 133px,#ffd500 140px,#f70000 183px,#8f0000 199px,#800000 202px,#800000 210px)"></i>
<i style="left:406px;top:704px;width:211px;background:linear-gradient(90deg,#000080,#000080 13px,#0000b3 17px,#0009ff 31px,#00d4ff 71px,#0cfff3 82px,#7fff80 105px,#fff500 133px,#ffd500 140px,#f80000 183px,#920000 199px,#800000 203px,#800000 210px)"></i>
<i style="left:406px;top:705px;width:211px;background:linear-gradient(90deg,#000080,#000080 12px,#0000cb 20px,#000aff 31px,#00d4ff 71px,#0cfff3 82px,#7fff80 105px,#fff500 133px,#ffd500 140px,#f90000 183px,#8a0000 200px,#800000 210px)"></i>
<i style="left:406px;top:706px;width:211px;background:linear-gradient(90deg,#000080,#000080 12px,#0000b9 17px,#0006ff 30px,#00d4ff 71px,#0dfff2 82px,#7fff80 105px,#fff500 133px,#ffd500 140px,#f90000 183px,#8e0000 200px,#800000 203px,#800000 210px)"></i>
<i style="left:406px;top:707px;width:211px;background:linear-gradient(90deg,#000080,#00008a 12px,#0000d4 21px,#000cff 31px,#00d4ff 71px,#0dfff2 82px,#7fff80 105px,#fff500 133px,#fa0000 183px,#900000 200px,#800000 205px,#800000 210px)"></i>
<i style="left:406px;top:708px;width:211px;background:linear-gradient(90deg,#000080,#000080 11px,#0000b6 16px,#0008ff 30px,#03fffc 80px,#7fff80 105px,#fff500 133px,#f50000 184px,#800 201px,#800000 210px)"></i>
<i style="left:406px;top:709px;width:211px;background:linear-gradient(90deg,#000080,#008 11px,#0000d1 20px,#0009ff 30px,#04fffb 80px,#7fff80 106px,#fff500 133px,#f60000 184px,#8c0000 201px,#800000 207px,#800000 210px)"></i>
<i style="left:406px;top:710px;width:211px;background:linear-gradient(90deg,#000080,#000080 10px,#0000c1 17px,#000aff 30px,#04fffb 80px,#fff500 133px,#f60000 184px,#8f0000 201px,#800000 205px,#800000 210px)"></i>
<i style="left:406px;top:711px;width:211px;background:linear-gradient(90deg,#000080,#000083 10px,#0000bc 16px,#000aff 30px,#04fffb 80px,#fff500 133px,#f70000 184px,#800000 204px,#800000 210px)"></i>
<i style="left:406px;top:712px;width:211px;background:linear-gradient(90deg,#000080,#000080 9px,#0000c4 17px,#000bff 30px,#04fffb 80px,#fff500 133px,#f70000 184px,#8a0000 202px,#800000 210px)"></i>
<i style="left:406px;top:713px;width:211px;background:linear-gradient(90deg,#000080,#000080 9px,#0000ba 15px,#0007ff 29px,#04fffb 80px,#fff500 133px,#f80000 184px,#8e0000 202px,#800000 206px,#800000 210px)"></i>
<i style="left:406px;top:714px;width:211px;background:linear-gradient(90deg,#000080,#000080 8px,#00c 18px,#000cff 30px,#05fffa 80px,#fff600 133px,#f80000 184px,#800000 205px,#800000 210px)"></i>
<i style="left:406px;top:715px;width:211px;background:linear-gradient(90deg,#000080,#000080 8px,#0000bd 15px,#0008ff 29px,#05fffa 80px,#fff600 133px,#f90000 184px,#800000 205px,#800000 210px)"></i>
<i style="left:406px;top:716px;width:211px;background:linear-gradient(90deg,#000080,#008 8px,#0000e9 23px,#0013ff 31px,#05fffa 80px,#fff600 133px,#f90000 184px,#8c0000 203px,#800000 209px,#800000 210px)"></i>
<i style="left:406px;top:717px;width:211px;background:linear-gradient(90deg,#000080,#000080 7px,#0000c5 16px,#0009ff 29px,#05fffa 80px,#fff600 133px,#f40000 185px,#800000 206px,#800000 210px)"></i>
<i style="left:406px;top:718px;width:211px;background:linear-gradient(90deg,#000080,#000085 7px,#0000db 20px,#000aff 29px,#05fffa 80px,#fff600 133px,#f50000 185px,#800000 206px,#800000 210px)"></i>
<i style="left:406px;top:719px;width:211px;background:linear-gradient(90deg,#000080,#000080 6px,#00c 17px,#000aff 29px,#0afff5 81px,#fff600 133px,#f50000 185px,#800000 206px,#800000 210px)"></i>
<i style="left:406px;top:720px;width:211px;background:linear-gradient(90deg,#000080,#000080 6px,#0000b8 13px,#000bff 29px,#0bfff4 81px,#fff600 133px,#f60000 185px,#800000 207px,#800000 210px)"></i>
<i style="left:406px;top:721px;width:211px;background:linear-gradient(90deg,#000080,#00008a 6px,#0006ff 28px,#06fff9 80px,#fff600 133px,#f60000 185px,#800000 207px,#800000 210px)"></i>
<i style="left:406px;top:722px;width:211px;background:linear-gradient(90deg,#000080,#000080 5px,#0000ce 17px,#000cff 29px,#06fff9 80px,#fff600 133px,#f60000 185px,#800000 207px,#800000 210px)"></i>
<i style="left:406px;top:723px;width:211px;background:linear-gradient(90deg,#000080,#000086 5px,#0002ff 27px,#06fff9 80px,#fff600 133px,#f70000 185px,#800000 208px,#800000 210px)"></i>
<i style="left:406px;top:724px;width:211px;background:linear-gradient(90deg,#000080,#00008c 5px,#0007ff 28px,#06fff9 80px,#fff600 133px,#f70000 185px,#800000 209px,#800000 210px)"></i>
<i style="left:406px;top:725px;width:211px;background:linear-gradient(90deg,#000080,#00008f 5px,#0008ff 28px,#06fff9 80px,#fff600 133px,#f70000 185px,#800000 209px,#800000 210px)"></i>
<i style="left:406px;top:726px;width:211px;background:linear-gradient(90deg,#000080,#008 4px,#0008ff 28px,#06fff9 80px,#fff600 133px,#f80000 185px,#800000 209px,#800000 210px)"></i>
<i style="left:406px;top:727px;width:211px;background:linear-gradient(90deg,#000080,#00008c 4px,#0008ff 28px,#06fff9 80px,#fff600 133px,#f80000 185px,#800000 210px)"></i>
<i style="left:406px;top:728px;width:211px;height:3px;background:linear-gradient(90deg,#000080,#0008ff 28px,#06fff9 80px,#fff600 133px,#f80000 185px,#800000 210px)"></i>
<i style="left:406px;top:731px;width:211px;height:4px;background:linear-gradient(90deg,#000080,#0009ff 28px,#06fff9 80px,#fff600 133px,#f90000 185px,#800000 210px)"></i>
</div>
<svg width="685" height="802"><defs>
<linearGradient id="gw" x1="0" y1="1" x2="0" y2="0"><stop offset="0" stop-color="#0000ff"/><stop offset="1" stop-color="#00ff80"/></linearGradient>
<linearGradient id="gj" x1="0" y1="1" x2="0" y2="0"><stop offset="0" stop-color="#000080"/><stop offset=".125" stop-color="#0000ff"/><stop offset=".375" stop-color="#00ffff"/><stop offset=".625" stop-color="#ffff00"/><stop offset=".875" stop-color="#ff0000"/><stop offset="1" stop-color="#800000"/></linearGradient>
<linearGradient id="sp1" gradientUnits="userSpaceOnUse" x1="442" y1="332" x2="448" y2="364"><stop offset="0" stop-color="#00bc9e"/><stop offset="1" stop-color="#0058d4"/></linearGradient>
<linearGradient id="sp2" gradientUnits="userSpaceOnUse" x1="472" y1="336" x2="512" y2="326"><stop offset="0" stop-color="#00b0a6"/><stop offset="1" stop-color="#00f884"/></linearGradient>
<clipPath id="ce"><rect x="340" y="296" width="345" height="240"/></clipPath>
</defs><g clip-path="url(#ce)">
<path d="M430.4 329 C444 332 457 337 468.2 344.1 L472.4 349.7 C464 352 457 358 452 363 C447 366 444 364 440.9 357.4 C436 348 433 338 430.4 329 Z" fill="url(#sp1)"/>
<path d="M468.2 344.1 C471 340 473 337 475.4 333.4 C479 327 481 323 484.2 317.3 C487 310 490 302 493.1 295 L503.5 295 C505 298 506 301 507.5 304.5 C510 309 511 313 512.3 317.3 C513.5 322 514.3 328 514.8 333.4 L484.3 360.9 L472.4 349.7 Z" fill="url(#sp2)"/>
<path d="M497.9 296 C503 308 507 322 508 339.8" fill="none" stroke="#fff" stroke-width="0.8"/>
</g>
<rect x="59.5" y="20.5" width="210.0" height="189.0" fill="none" stroke="#111" stroke-width="1"/>
<line x1="59.50" y1="209.50" x2="59.50" y2="207.00" stroke="#111" stroke-width="1"/>
<line x1="59.50" y1="20.50" x2="59.50" y2="23.00" stroke="#111" stroke-width="1"/>
<text x="59.5" y="229.5" font-size="16" text-anchor="middle">0</text>
<line x1="126.35" y1="209.50" x2="126.35" y2="207.00" stroke="#111" stroke-width="1"/>
<line x1="126.35" y1="20.50" x2="126.35" y2="23.00" stroke="#111" stroke-width="1"/>
<text x="126.3" y="229.5" font-size="16" text-anchor="middle">2</text>
<line x1="193.19" y1="209.50" x2="193.19" y2="207.00" stroke="#111" stroke-width="1"/>
<line x1="193.19" y1="20.50" x2="193.19" y2="23.00" stroke="#111" stroke-width="1"/>
<text x="193.2" y="229.5" font-size="16" text-anchor="middle">4</text>
<line x1="260.04" y1="209.50" x2="260.04" y2="207.00" stroke="#111" stroke-width="1"/>
<line x1="260.04" y1="20.50" x2="260.04" y2="23.00" stroke="#111" stroke-width="1"/>
<text x="260.0" y="229.5" font-size="16" text-anchor="middle">6</text>
<line x1="59.50" y1="209.50" x2="62.00" y2="209.50" stroke="#111" stroke-width="1"/>
<line x1="269.50" y1="209.50" x2="267.00" y2="209.50" stroke="#111" stroke-width="1"/>
<text x="53.5" y="214.3" font-size="16" text-anchor="end">0</text>
<line x1="59.50" y1="157.00" x2="62.00" y2="157.00" stroke="#111" stroke-width="1"/>
<line x1="269.50" y1="157.00" x2="267.00" y2="157.00" stroke="#111" stroke-width="1"/>
<text x="53.5" y="161.8" font-size="16" text-anchor="end">0.5</text>
<line x1="59.50" y1="104.50" x2="62.00" y2="104.50" stroke="#111" stroke-width="1"/>
<line x1="269.50" y1="104.50" x2="267.00" y2="104.50" stroke="#111" stroke-width="1"/>
<text x="53.5" y="109.3" font-size="16" text-anchor="end">1</text>
<line x1="59.50" y1="52.00" x2="62.00" y2="52.00" stroke="#111" stroke-width="1"/>
<line x1="269.50" y1="52.00" x2="267.00" y2="52.00" stroke="#111" stroke-width="1"/>
<text x="53.5" y="56.8" font-size="16" text-anchor="end">1.5</text>
<text x="2.5" y="26.0" font-size="23">(a)</text>
<text x="164.5" y="256.5" font-size="24" text-anchor="middle" font-style="italic">&#952;</text>
<text x="20.5" y="135.3" font-size="28" font-style="italic">A</text>
<rect x="279.5" y="20.5" width="14.0" height="189.0" fill="url(#gw)" stroke="#555" stroke-width="0.8"/>
<text x="298.0" y="25.5" font-size="15" font-style="italic">&#960;</text>
<text x="298.0" y="119.0" font-size="14">0</text>
<line x1="291.00" y1="115.00" x2="293.50" y2="115.00" stroke="#222" stroke-width="0.8"/>
<text x="297.5" y="214.0" font-size="15">&#8722;<tspan font-style="italic">&#960;</tspan></text>
<text x="327.3" y="114.5" font-size="29" text-anchor="middle" transform="rotate(-90 327.3 114.5)">PRC</text>
<rect x="408.0" y="25.0" width="210.0" height="189.0" fill="none" stroke="#111" stroke-width="1"/>
<line x1="408.00" y1="214.00" x2="408.00" y2="211.50" stroke="#111" stroke-width="1"/>
<line x1="408.00" y1="25.00" x2="408.00" y2="27.50" stroke="#111" stroke-width="1"/>
<text x="408.0" y="234.0" font-size="16" text-anchor="middle">0</text>
<line x1="474.85" y1="214.00" x2="474.85" y2="211.50" stroke="#111" stroke-width="1"/>
<line x1="474.85" y1="25.00" x2="474.85" y2="27.50" stroke="#111" stroke-width="1"/>
<text x="474.8" y="234.0" font-size="16" text-anchor="middle">2</text>
<line x1="541.69" y1="214.00" x2="541.69" y2="211.50" stroke="#111" stroke-width="1"/>
<line x1="541.69" y1="25.00" x2="541.69" y2="27.50" stroke="#111" stroke-width="1"/>
<text x="541.7" y="234.0" font-size="16" text-anchor="middle">4</text>
<line x1="608.54" y1="214.00" x2="608.54" y2="211.50" stroke="#111" stroke-width="1"/>
<line x1="608.54" y1="25.00" x2="608.54" y2="27.50" stroke="#111" stroke-width="1"/>
<text x="608.5" y="234.0" font-size="16" text-anchor="middle">6</text>
<line x1="408.00" y1="214.00" x2="410.50" y2="214.00" stroke="#111" stroke-width="1"/>
<line x1="618.00" y1="214.00" x2="615.50" y2="214.00" stroke="#111" stroke-width="1"/>
<text x="402.0" y="218.8" font-size="16" text-anchor="end">0</text>
<line x1="408.00" y1="161.50" x2="410.50" y2="161.50" stroke="#111" stroke-width="1"/>
<line x1="618.00" y1="161.50" x2="615.50" y2="161.50" stroke="#111" stroke-width="1"/>
<text x="402.0" y="166.3" font-size="16" text-anchor="end">0.5</text>
<line x1="408.00" y1="109.00" x2="410.50" y2="109.00" stroke="#111" stroke-width="1"/>
<line x1="618.00" y1="109.00" x2="615.50" y2="109.00" stroke="#111" stroke-width="1"/>
<text x="402.0" y="113.8" font-size="16" text-anchor="end">1</text>
<line x1="408.00" y1="56.50" x2="410.50" y2="56.50" stroke="#111" stroke-width="1"/>
<line x1="618.00" y1="56.50" x2="615.50" y2="56.50" stroke="#111" stroke-width="1"/>
<text x="402.0" y="61.3" font-size="16" text-anchor="end">1.5</text>
<text x="351.0" y="30.5" font-size="23">(d)</text>
<text x="513.0" y="261.0" font-size="24" text-anchor="middle" font-style="italic">&#952;</text>
<text x="369.0" y="139.8" font-size="28" font-style="italic">A</text>
<rect x="628.0" y="25.0" width="14.0" height="189.0" fill="url(#gw)" stroke="#555" stroke-width="0.8"/>
<text x="646.5" y="30.0" font-size="15" font-style="italic">&#960;</text>
<text x="646.5" y="123.5" font-size="14">0</text>
<line x1="639.50" y1="119.50" x2="642.00" y2="119.50" stroke="#222" stroke-width="0.8"/>
<text x="646.0" y="218.5" font-size="15">&#8722;<tspan font-style="italic">&#960;</tspan></text>
<text x="675.8" y="119.0" font-size="29" text-anchor="middle" transform="rotate(-90 675.8 119.0)">PRC</text>
<rect x="58.5" y="565.0" width="210.0" height="188.5" fill="none" stroke="#111" stroke-width="1"/>
<line x1="58.50" y1="753.50" x2="58.50" y2="751.00" stroke="#111" stroke-width="1"/>
<line x1="58.50" y1="565.00" x2="58.50" y2="567.50" stroke="#111" stroke-width="1"/>
<text x="58.5" y="773.5" font-size="16" text-anchor="middle">0</text>
<line x1="163.50" y1="753.50" x2="163.50" y2="751.00" stroke="#111" stroke-width="1"/>
<line x1="163.50" y1="565.00" x2="163.50" y2="567.50" stroke="#111" stroke-width="1"/>
<text x="163.5" y="773.5" font-size="16" text-anchor="middle">0.5</text>
<line x1="268.50" y1="753.50" x2="268.50" y2="751.00" stroke="#111" stroke-width="1"/>
<line x1="268.50" y1="565.00" x2="268.50" y2="567.50" stroke="#111" stroke-width="1"/>
<text x="268.5" y="773.5" font-size="16" text-anchor="middle">1</text>
<line x1="58.50" y1="753.50" x2="61.00" y2="753.50" stroke="#111" stroke-width="1"/>
<line x1="268.50" y1="753.50" x2="266.00" y2="753.50" stroke="#111" stroke-width="1"/>
<text x="52.5" y="758.3" font-size="16" text-anchor="end">0</text>
<line x1="58.50" y1="706.38" x2="61.00" y2="706.38" stroke="#111" stroke-width="1"/>
<line x1="268.50" y1="706.38" x2="266.00" y2="706.38" stroke="#111" stroke-width="1"/>
<text x="52.5" y="711.2" font-size="16" text-anchor="end">0.5</text>
<line x1="58.50" y1="659.25" x2="61.00" y2="659.25" stroke="#111" stroke-width="1"/>
<line x1="268.50" y1="659.25" x2="266.00" y2="659.25" stroke="#111" stroke-width="1"/>
<text x="52.5" y="664.0" font-size="16" text-anchor="end">1</text>
<line x1="58.50" y1="612.12" x2="61.00" y2="612.12" stroke="#111" stroke-width="1"/>
<line x1="268.50" y1="612.12" x2="266.00" y2="612.12" stroke="#111" stroke-width="1"/>
<text x="52.5" y="616.9" font-size="16" text-anchor="end">1.5</text>
<line x1="58.50" y1="565.00" x2="61.00" y2="565.00" stroke="#111" stroke-width="1"/>
<line x1="268.50" y1="565.00" x2="266.00" y2="565.00" stroke="#111" stroke-width="1"/>
<text x="52.5" y="569.8" font-size="16" text-anchor="end">2</text>
<rect x="278.3" y="565.0" width="14.2" height="188.5" fill="url(#gj)" stroke="#555" stroke-width="0.8"/>
<text x="297.5" y="569.5" font-size="15">1</text>
<text x="297.5" y="758.0" font-size="15">0</text>
<rect x="406.5" y="546.5" width="210.0" height="188.5" fill="none" stroke="#111" stroke-width="1"/>
<line x1="406.50" y1="735.00" x2="406.50" y2="732.50" stroke="#111" stroke-width="1"/>
<line x1="406.50" y1="546.50" x2="406.50" y2="549.00" stroke="#111" stroke-width="1"/>
<text x="406.5" y="755.0" font-size="16" text-anchor="middle">0</text>
<line x1="511.50" y1="735.00" x2="511.50" y2="732.50" stroke="#111" stroke-width="1"/>
<line x1="511.50" y1="546.50" x2="511.50" y2="549.00" stroke="#111" stroke-width="1"/>
<text x="511.5" y="755.0" font-size="16" text-anchor="middle">0.5</text>
<line x1="616.50" y1="735.00" x2="616.50" y2="732.50" stroke="#111" stroke-width="1"/>
<line x1="616.50" y1="546.50" x2="616.50" y2="549.00" stroke="#111" stroke-width="1"/>
<text x="616.5" y="755.0" font-size="16" text-anchor="middle">1</text>
<line x1="406.50" y1="735.00" x2="409.00" y2="735.00" stroke="#111" stroke-width="1"/>
<line x1="616.50" y1="735.00" x2="614.00" y2="735.00" stroke="#111" stroke-width="1"/>
<text x="400.5" y="739.8" font-size="16" text-anchor="end">0</text>
<line x1="406.50" y1="672.17" x2="409.00" y2="672.17" stroke="#111" stroke-width="1"/>
<line x1="616.50" y1="672.17" x2="614.00" y2="672.17" stroke="#111" stroke-width="1"/>
<text x="400.5" y="677.0" font-size="16" text-anchor="end">0.5</text>
<line x1="406.50" y1="609.33" x2="409.00" y2="609.33" stroke="#111" stroke-width="1"/>
<line x1="616.50" y1="609.33" x2="614.00" y2="609.33" stroke="#111" stroke-width="1"/>
<text x="400.5" y="614.1" font-size="16" text-anchor="end">1</text>
<line x1="406.50" y1="546.50" x2="409.00" y2="546.50" stroke="#111" stroke-width="1"/>
<line x1="616.50" y1="546.50" x2="614.00" y2="546.50" stroke="#111" stroke-width="1"/>
<text x="400.5" y="551.3" font-size="16" text-anchor="end">1.5</text>
<rect x="626.3" y="546.5" width="14.2" height="188.5" fill="url(#gj)" stroke="#555" stroke-width="0.8"/>
<text x="645.5" y="551.0" font-size="15">1</text>
<text x="645.5" y="739.5" font-size="15">0</text>
<text x="0.8" y="553.6" font-size="23">(c)</text>
<text x="346.2" y="551.9" font-size="23">(f)</text>
<text x="18.0" y="667.4" font-size="28" font-style="italic">A</text>
<text x="366.0" y="647.9" font-size="28" font-style="italic">A</text>
<text x="163.5" y="800.5" font-size="25" text-anchor="middle" font-style="italic">s</text>
<text x="511.5" y="783.5" font-size="25" text-anchor="middle" font-style="italic">s</text>
<text x="305.8" y="660.0" font-size="26" font-style="italic">&#961;</text>
<text x="653.8" y="641.0" font-size="26" font-style="italic">&#961;</text>
<text x="0.3" y="279.4" font-size="23">(b)</text>
<text x="352.8" y="289.2" font-size="23">(e)</text>
<line x1="131.30" y1="502.20" x2="302.90" y2="481.60" stroke="#444" stroke-width="0.9"/>
<line x1="131.30" y1="502.20" x2="66.50" y2="447.60" stroke="#444" stroke-width="0.9"/>
<line x1="66.50" y1="447.60" x2="66.50" y2="317.00" stroke="#888" stroke-width="0.9"/>
<line x1="131.30" y1="502.20" x2="133.57" y2="504.11" stroke="#444" stroke-width="0.8"/>
<line x1="185.92" y1="495.64" x2="188.19" y2="497.55" stroke="#444" stroke-width="0.8"/>
<line x1="240.54" y1="489.09" x2="242.81" y2="491.00" stroke="#444" stroke-width="0.8"/>
<line x1="295.17" y1="482.53" x2="297.43" y2="484.44" stroke="#444" stroke-width="0.8"/>
<line x1="131.30" y1="502.20" x2="127.87" y2="502.61" stroke="#444" stroke-width="0.8"/>
<line x1="98.90" y1="474.90" x2="95.47" y2="475.31" stroke="#444" stroke-width="0.8"/>
<line x1="66.50" y1="447.60" x2="63.07" y2="448.01" stroke="#444" stroke-width="0.8"/>
<line x1="66.50" y1="447.60" x2="63.58" y2="445.14" stroke="#444" stroke-width="0.8"/>
<line x1="66.50" y1="406.03" x2="63.58" y2="403.57" stroke="#444" stroke-width="0.8"/>
<line x1="66.50" y1="364.46" x2="63.58" y2="362.00" stroke="#444" stroke-width="0.8"/>
<line x1="66.50" y1="322.89" x2="63.58" y2="320.43" stroke="#444" stroke-width="0.8"/>
<text x="60.5" y="445.3" font-size="16" text-anchor="end" fill="#3a3a3a">0</text>
<text x="60.5" y="403.9" font-size="16" text-anchor="end" fill="#3a3a3a">2</text>
<text x="60.5" y="362.5" font-size="16" text-anchor="end" fill="#3a3a3a">4</text>
<text x="60.5" y="321.1" font-size="16" text-anchor="end" fill="#3a3a3a">6</text>
<text x="53.6" y="463.6" font-size="16" text-anchor="middle" fill="#3a3a3a">2</text>
<text x="85.0" y="490.9" font-size="16" text-anchor="middle" fill="#3a3a3a">1</text>
<text x="116.8" y="518.2" font-size="16" text-anchor="middle" fill="#3a3a3a">0</text>
<text x="144.6" y="521.9" font-size="16" text-anchor="middle" fill="#3a3a3a">0</text>
<text x="197.2" y="517.3" font-size="16" text-anchor="middle" fill="#3a3a3a">2</text>
<text x="251.8" y="510.6" font-size="16" text-anchor="middle" fill="#3a3a3a">4</text>
<text x="306.4" y="504.1" font-size="16" text-anchor="middle" fill="#3a3a3a">6</text>
<text x="53.6" y="513.5" font-size="21" text-anchor="middle" font-style="italic" fill="#3a3a3a">A</text>
<text x="212.1" y="538.5" font-size="20" text-anchor="middle" font-style="italic" fill="#3a3a3a">&#952;</text>
<text x="41.0" y="382.3" font-size="21" text-anchor="middle" transform="rotate(-90 41.0 382.3)" fill="#3a3a3a">PTC</text>
<g clip-path="url(#ce)"><line x1="484.30" y1="468.30" x2="655.30" y2="447.60" stroke="#444" stroke-width="0.9"/><line x1="484.30" y1="468.30" x2="420.40" y2="414.20" stroke="#444" stroke-width="0.9"/><line x1="420.40" y1="414.20" x2="420.40" y2="283.50" stroke="#888" stroke-width="0.9"/><line x1="484.30" y1="468.30" x2="486.54" y2="470.19" stroke="#444" stroke-width="0.8"/><line x1="538.73" y1="461.71" x2="540.97" y2="463.60" stroke="#444" stroke-width="0.8"/><line x1="593.16" y1="455.12" x2="595.40" y2="457.02" stroke="#444" stroke-width="0.8"/><line x1="647.59" y1="448.53" x2="649.83" y2="450.43" stroke="#444" stroke-width="0.8"/><line x1="484.30" y1="468.30" x2="480.88" y2="468.71" stroke="#444" stroke-width="0.8"/><line x1="466.55" y1="453.27" x2="463.13" y2="453.69" stroke="#444" stroke-width="0.8"/><line x1="448.80" y1="438.24" x2="445.38" y2="438.66" stroke="#444" stroke-width="0.8"/><line x1="431.05" y1="423.22" x2="427.63" y2="423.63" stroke="#444" stroke-width="0.8"/><line x1="420.40" y1="414.20" x2="417.52" y2="411.77" stroke="#444" stroke-width="0.8"/><line x1="420.40" y1="372.60" x2="417.52" y2="370.16" stroke="#444" stroke-width="0.8"/><line x1="420.40" y1="330.99" x2="417.52" y2="328.56" stroke="#444" stroke-width="0.8"/><line x1="420.40" y1="289.39" x2="417.52" y2="286.96" stroke="#444" stroke-width="0.8"/></g>
<text x="408.4" y="330.0" font-size="16" text-anchor="middle" fill="#3a3a3a">4</text>
<text x="408.4" y="372.0" font-size="16" text-anchor="middle" fill="#3a3a3a">2</text>
<text x="408.2" y="410.6" font-size="16" text-anchor="middle" fill="#3a3a3a">0</text>
<text x="410.7" y="439.3" font-size="16" text-anchor="middle" fill="#3a3a3a">1.5</text>
<text x="434.8" y="453.5" font-size="16" text-anchor="middle" fill="#3a3a3a">1</text>
<text x="445.4" y="468.9" font-size="16" text-anchor="middle" fill="#3a3a3a">0.5</text>
<text x="470.5" y="484.2" font-size="16" text-anchor="middle" fill="#3a3a3a">0</text>
<text x="495.5" y="488.8" font-size="16" text-anchor="middle" fill="#3a3a3a">0</text>
<text x="550.3" y="480.3" font-size="16" text-anchor="middle" fill="#3a3a3a">2</text>
<text x="605.1" y="475.3" font-size="16" text-anchor="middle" fill="#3a3a3a">4</text>
<text x="659.0" y="470.3" font-size="16" text-anchor="middle" fill="#3a3a3a">6</text>
<text x="403.5" y="474.8" font-size="21" text-anchor="middle" font-style="italic" fill="#3a3a3a">A</text>
<text x="565.2" y="504.5" font-size="20" text-anchor="middle" font-style="italic" fill="#3a3a3a">&#952;</text>
<text x="395.0" y="348.0" font-size="21" text-anchor="middle" transform="rotate(-90 395.0 348.0)" fill="#3a3a3a">PTC</text></svg>
</body></html>
